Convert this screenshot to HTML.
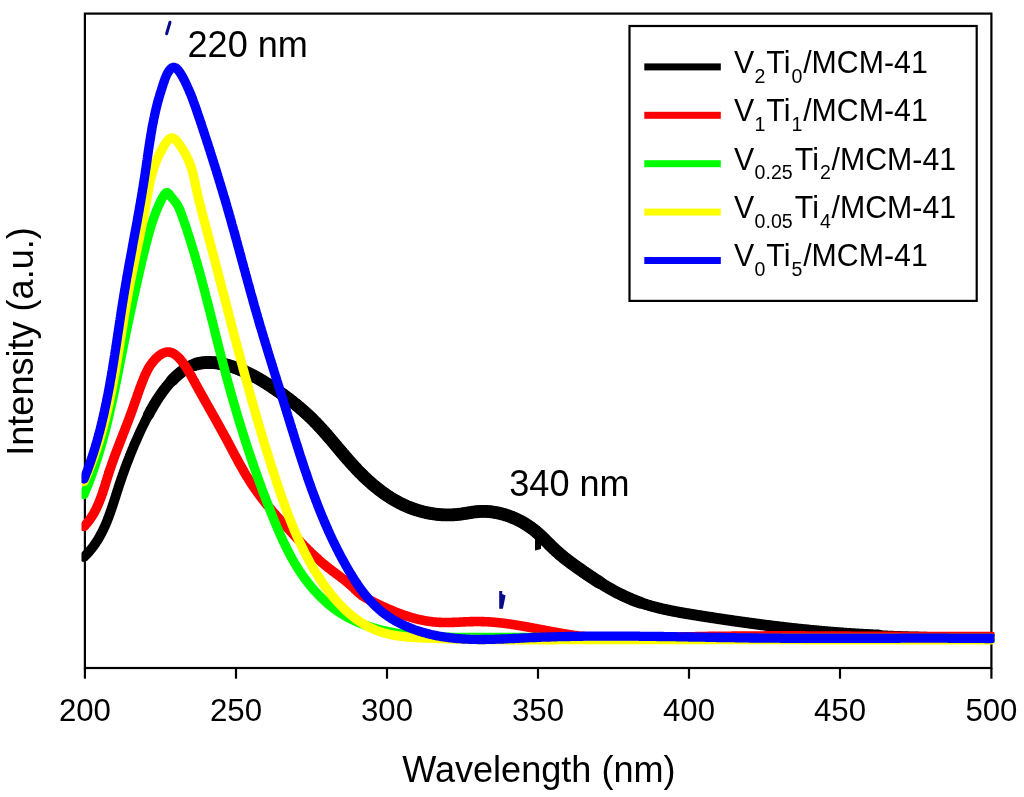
<!DOCTYPE html>
<html><head><meta charset="utf-8"><style>
html,body{margin:0;padding:0;background:#fff;width:1024px;height:797px;overflow:hidden}
svg{position:absolute;left:0;top:0;will-change:transform}
</style></head><body>
<svg width="1024" height="797" viewBox="0 0 1024 797">
<rect width="1024" height="797" fill="#fff"/>
<rect x="84.9" y="13.6" width="906.5" height="654.4" fill="none" stroke="#000" stroke-width="2.2"/>
<clipPath id="pc"><rect x="81.5" y="0" width="913" height="797"/></clipPath><g clip-path="url(#pc)"><path d="M148.3,415.1 L148.6,414.5 L149.0,413.9 L149.3,413.2 L149.6,412.6 L150.0,411.9 L150.3,411.3 L150.7,410.6 L151.0,410.0 L151.4,409.4 L151.8,408.7 L152.1,408.1 L152.5,407.5 L152.8,406.8 L153.2,406.2 L153.6,405.6 L153.9,404.9 L154.3,404.3 L154.7,403.7 L155.1,403.0 L155.5,402.4 L155.9,401.8 L156.2,401.2 L156.6,400.5 L157.0,399.9 L157.4,399.3 L157.8,398.7 L158.2,398.1 L158.6,397.4 L159.1,396.8 L159.5,396.2 L159.9,395.6 L160.3,395.0 L160.7,394.4 L161.2,393.8 L161.6,393.1 L162.0,392.5 L162.5,391.9 L162.9,391.3 L163.4,390.7 L163.8,390.1 L164.3,389.5 L164.7,388.9 L165.2,388.3 L165.7,387.7 L166.2,387.1 L166.6,386.5 L167.1,385.9 L167.6,385.3 L168.1,384.8 L168.6,384.2 L169.1,383.6 L169.6,383.0 L170.1,382.4 L170.6,381.8 L171.2,381.3 L171.7,380.7 L172.2,380.1 L172.8,379.6 L173.3,379.0 L173.8,378.5 L174.4,377.9 L174.9,377.4 L175.5,376.8 L176.0,376.3 L176.6,375.8 L177.2,375.3 L177.7,374.8 L178.3,374.3 L178.9,373.8 L179.5,373.3 L180.1,372.8 L180.7,372.3 L181.3,371.9 L181.9,371.4 L182.5,371.0 L183.1,370.5 L183.7,370.1 L184.3,369.7 L184.9,369.3 L185.6,368.9 L186.2,368.5 L186.8,368.1 L187.5,367.8 L188.1,367.4 L188.7,367.1 L189.4,366.7 L190.0,366.4 L190.7,366.1 L191.3,365.8 L192.0,365.5 L192.7,365.3 L193.3,365.0 L194.0,364.8 L194.7,364.6 L195.4,364.3 L196.1,364.1 L196.7,363.9 L197.4,363.8 L198.1,363.6 L198.8,363.4 L199.5,363.3 L200.2,363.2 L200.9,363.1 L201.6,362.9 L202.3,362.8 L203.0,362.8 L203.7,362.7 L204.5,362.6 L205.2,362.6 L205.9,362.5 L206.6,362.5 L207.3,362.5 L208.0,362.5 L208.8,362.4 L209.5,362.5 L210.2,362.5 L210.9,362.5 L211.7,362.5 L212.4,362.6 L213.1,362.6 L213.9,362.7 L214.6,362.7 L215.3,362.8 L216.0,362.9 L216.8,363.0 L217.5,363.1 L218.2,363.2 L219.0,363.3 L219.7,363.5 L220.4,363.6 L221.2,363.7 L221.9,363.9 L222.6,364.0 L223.4,364.2 L224.1,364.4 L224.8,364.5 L225.6,364.7 L226.3,364.9 L227.0,365.1 L227.8,365.3 L228.5,365.5 L229.2,365.7 L229.9,365.9 L230.6,366.2 L231.4,366.4 L232.1,366.6 L232.8,366.9 L233.5,367.1 L234.2,367.3 L235.0,367.6 L235.7,367.9 L236.4,368.1 L237.1,368.4 L237.8,368.7 L238.5,368.9 L239.2,369.2 L239.9,369.5 L240.6,369.8 L241.3,370.1 L242.0,370.3 L242.6,370.6 L243.3,370.9 L244.0,371.2 L244.7,371.5 L245.4,371.9 L246.0,372.2 L246.7,372.5 L247.4,372.8 L248.0,373.1 L248.7,373.4 L249.4,373.8 L250.0,374.1 L250.7,374.4 L251.3,374.8 L252.0,375.1 L252.7,375.4 L253.3,375.8 L254.0,376.1 L254.6,376.5 L255.2,376.8 L255.9,377.2 L256.5,377.5 L257.2,377.9 L257.8,378.2 L258.5,378.6 L259.1,379.0 L259.7,379.3 L260.4,379.7 L261.0,380.1 L261.6,380.5 L262.2,380.8 L262.9,381.2 L263.5,381.6 L264.1,382.0 L264.7,382.4 L265.4,382.8 L266.0,383.1 L266.6,383.5 L267.2,383.9 L267.8,384.3 L268.5,384.7 L269.1,385.1 L269.7,385.5 L270.3,385.9 L270.9,386.3 L271.5,386.7 L272.1,387.2 L272.7,387.6 L273.4,388.0 L274.0,388.4 L274.6,388.8 L275.2,389.2 L275.8,389.6 L276.4,390.0 L277.0,390.5 L277.6,390.9 L278.2,391.3 L278.8,391.7 L279.4,392.2 L280.0,392.6 L280.6,393.0 L281.2,393.4 L281.8,393.9 L282.4,394.3 L283.0,394.7 L283.6,395.2 L284.2,395.6 L284.8,396.1 L285.4,396.5 L286.0,396.9 L286.6,397.4 L287.2,397.8 L287.8,398.3 L288.4,398.7 L289.0,399.2 L289.6,399.6 L290.2,400.1 L290.8,400.5 L291.3,401.0 L291.9,401.4 L292.5,401.9 L293.1,402.3 L293.7,402.8 L294.3,403.3 L294.8,403.7 L295.4,404.2 L296.0,404.7 L296.6,405.1 L297.1,405.6 L297.7,406.1 L298.3,406.6 L298.9,407.0 L299.4,407.5 L300.0,408.0 L300.6,408.5 L301.1,409.0 L301.7,409.4 L302.2,409.9 L302.8,410.4 L303.4,410.9 L303.9,411.4 L304.5,411.9 L305.0,412.4 L305.6,412.9 L306.1,413.4 L306.7,413.9 L307.2,414.4 L307.8,414.9 L308.3,415.4 L308.8,415.9 L309.4,416.4 L309.9,416.9 L310.4,417.4 L311.0,417.9 L311.5,418.4 L312.0,419.0 L312.6,419.5 L313.1,420.0 L313.6,420.5 L314.1,421.0 L314.6,421.6 L315.1,422.1 L315.7,422.6 L316.2,423.1 L316.7,423.7 L317.2,424.2 L317.7,424.7 L318.2,425.3 L318.7,425.8 L319.2,426.4 L319.7,426.9 L320.2,427.4 L320.7,428.0 L321.2,428.5 L321.7,429.1 L322.2,429.6 L322.7,430.2 L323.2,430.7 L323.7,431.3 L324.2,431.8 L324.6,432.4 L325.1,432.9 L325.6,433.5 L326.1,434.0 L326.6,434.6 L327.1,435.1 L327.5,435.7 L328.0,436.2 L328.5,436.8 L329.0,437.4 L329.5,437.9 L329.9,438.5 L330.4,439.0 L330.9,439.6 L331.4,440.2 L331.9,440.7 L332.3,441.3 L332.8,441.8 L333.3,442.4 L333.8,443.0 L334.2,443.5 L334.7,444.1 L335.2,444.7 L335.7,445.2 L336.1,445.8 L336.6,446.4 L337.1,446.9 L337.6,447.5 L338.0,448.0 L338.5,448.6 L339.0,449.2 L339.5,449.7 L339.9,450.3 L340.4,450.9 L340.9,451.4 L341.4,452.0 L341.8,452.6 L342.3,453.1 L342.8,453.7 L343.3,454.2 L343.8,454.8 L344.2,455.4 L344.7,455.9 L345.2,456.5 L345.7,457.1 L346.2,457.6 L346.7,458.2 L347.1,458.7 L347.6,459.3 L348.1,459.8 L348.6,460.4 L349.1,461.0 L349.6,461.5 L350.1,462.1 L350.6,462.6 L351.1,463.2 L351.6,463.7 L352.1,464.3 L352.6,464.8 L353.1,465.4 L353.6,465.9 L354.1,466.5 L354.6,467.0 L355.1,467.5 L355.6,468.1 L356.1,468.6 L356.6,469.2 L357.1,469.7 L357.6,470.3 L358.1,470.8 L358.7,471.3 L359.2,471.9 L359.7,472.4 L360.2,472.9 L360.8,473.4 L361.3,474.0 L361.8,474.5 L362.3,475.0 L362.9,475.5 L363.4,476.1 L363.9,476.6 L364.5,477.1 L365.0,477.6 L365.6,478.1 L366.1,478.6 L366.7,479.1 L367.2,479.7 L367.7,480.2 L368.3,480.7 L368.9,481.2 L369.4,481.7 L370.0,482.2 L370.5,482.6 L371.1,483.1 L371.6,483.6 L372.2,484.1 L372.8,484.6 L373.3,485.1 L373.9,485.6 L374.5,486.0 L375.1,486.5 L375.6,487.0 L376.2,487.4 L376.8,487.9 L377.4,488.4 L377.9,488.8 L378.5,489.3 L379.1,489.8 L379.7,490.2 L380.3,490.7 L380.9,491.1 L381.5,491.5 L382.1,492.0 L382.7,492.4 L383.3,492.9 L383.9,493.3 L384.5,493.7 L385.1,494.1 L385.7,494.6 L386.3,495.0 L386.9,495.4 L387.5,495.8 L388.2,496.2 L388.8,496.6 L389.4,497.0 L390.0,497.4 L390.6,497.8 L391.3,498.2 L391.9,498.6 L392.5,499.0 L393.2,499.3 L393.8,499.7 L394.4,500.1 L395.1,500.5 L395.7,500.8 L396.3,501.2 L397.0,501.5 L397.6,501.9 L398.3,502.2 L398.9,502.6 L399.6,502.9 L400.2,503.3 L400.9,503.6 L401.6,503.9 L402.2,504.2 L402.9,504.6 L403.6,504.9 L404.2,505.2 L404.9,505.5 L405.6,505.8 L406.2,506.1 L406.9,506.4 L407.6,506.7 L408.3,506.9 L409.0,507.2 L409.6,507.5 L410.3,507.8 L411.0,508.0 L411.7,508.3 L412.4,508.5 L413.1,508.8 L413.8,509.0 L414.5,509.3 L415.2,509.5 L415.9,509.7 L416.6,510.0 L417.3,510.2 L418.0,510.4 L418.7,510.6 L419.4,510.8 L420.1,511.0 L420.8,511.2 L421.6,511.4 L422.3,511.6 L423.0,511.8 L423.7,512.0 L424.4,512.1 L425.1,512.3 L425.9,512.5 L426.6,512.6 L427.3,512.8 L428.0,512.9 L428.8,513.1 L429.5,513.2 L430.2,513.3 L430.9,513.5 L431.7,513.6 L432.4,513.7 L433.1,513.8 L433.8,513.9 L434.6,514.0 L435.3,514.1 L436.0,514.2 L436.8,514.3 L437.5,514.4 L438.2,514.5 L439.0,514.5 L439.7,514.6 L440.4,514.7 L441.2,514.7 L441.9,514.8 L442.6,514.8 L443.4,514.8 L444.1,514.9 L444.8,514.9 L445.6,514.9 L446.3,514.9 L447.1,514.9 L447.8,514.9 L448.5,514.9 L449.3,514.9 L450.0,514.9 L450.7,514.9 L451.5,514.9 L452.2,514.9 L452.9,514.8 L453.7,514.8 L454.4,514.7 L455.1,514.7 L455.9,514.6 L456.6,514.6 L457.3,514.5 L458.0,514.4 L458.8,514.3 L459.5,514.2 L460.2,514.2 L461.0,514.1 L461.7,514.0 L462.4,513.9 L463.1,513.7 L463.9,513.6 L464.6,513.5 L465.3,513.4 L466.0,513.3 L466.7,513.2 L467.5,513.0 L468.2,512.9 L468.9,512.8 L469.6,512.7 L470.4,512.6 L471.1,512.5 L471.8,512.3 L472.5,512.2 L473.2,512.1 L474.0,512.0 L474.7,511.9 L475.4,511.8 L476.1,511.8 L476.8,511.7 L477.6,511.6 L478.3,511.6 L479.0,511.5 L479.7,511.5 L480.5,511.4 L481.2,511.4 L481.9,511.4 L482.6,511.4 L483.3,511.4 L484.1,511.4 L484.8,511.4 L485.5,511.4 L486.2,511.4 L487.0,511.5 L487.7,511.5 L488.4,511.6 L489.1,511.6 L489.9,511.7 L490.6,511.8 L491.3,511.8 L492.0,511.9 L492.7,512.0 L493.5,512.1 L494.2,512.3 L494.9,512.4 L495.6,512.5 L496.3,512.6 L497.1,512.8 L497.8,512.9 L498.5,513.1 L499.2,513.2 L499.9,513.4 L500.6,513.6 L501.3,513.8 L502.1,513.9 L502.8,514.1 L503.5,514.3 L504.2,514.5 L504.9,514.7 L505.6,515.0 L506.3,515.2 L507.0,515.4 L507.7,515.6 L508.4,515.9 L509.1,516.1 L509.8,516.4 L510.5,516.7 L511.2,516.9 L511.8,517.2 L512.5,517.5 L513.2,517.7 L513.9,518.0 L514.6,518.3 L515.2,518.6 L515.9,518.9 L516.6,519.2 L517.3,519.6 L517.9,519.9 L518.6,520.2 L519.3,520.6 L519.9,520.9 L520.6,521.2 L521.2,521.6 L521.9,521.9 L522.5,522.3 L523.2,522.7 L523.8,523.0 L524.4,523.4 L525.1,523.8 L525.7,524.2 L526.3,524.6 L527.0,525.0 L527.6,525.4 L528.2,525.8 L528.8,526.2 L529.4,526.6 L530.0,527.0 L530.6,527.5 L531.2,527.9 L531.8,528.3 L532.4,528.8 L533.0,529.2 L533.6,529.7 L534.1,530.1 L534.7,530.6 L535.3,531.0 L535.9,531.5 L536.4,532.0 L537.0,532.5 L537.5,532.9 L538.1,533.4 L538.6,533.9 L539.2,534.4 L539.7,534.9 L540.3,535.4 L540.8,535.9 L541.3,536.4 L541.9,536.9 L542.4,537.4 L542.9,537.9 L543.4,538.4 L544.0,538.9 L544.5,539.4 L545.0,539.9 L545.5,540.5 L546.1,541.0 L546.6,541.5 L547.1,542.0 L547.6,542.5 L548.1,543.0 L548.7,543.6 L549.2,544.1 L549.7,544.6 L550.2,545.1 L550.7,545.6 L551.3,546.1 L551.8,546.7 L552.3,547.2 L552.8,547.7 L553.4,548.2 L553.9,548.7 L554.4,549.2 L555.0,549.7 L555.5,550.2 L556.0,550.7 L556.6,551.2 L557.1,551.7 L557.7,552.2 L558.2,552.6 L558.8,553.1 L559.3,553.6 L559.9,554.1 L560.4,554.6 L561.0,555.0 L561.6,555.5 L562.1,556.0 L562.7,556.4 L563.3,556.9 L563.8,557.4 L564.4,557.8 L565.0,558.3 L565.6,558.7 L566.1,559.2 L566.7,559.6 L567.3,560.1 L567.9,560.5 L568.5,561.0 L569.1,561.4 L569.7,561.9 L570.2,562.3 L570.8,562.8 L571.4,563.2 L572.0,563.6 L572.6,564.1 L573.2,564.5 L573.8,564.9 L574.4,565.4 L575.0,565.8 L575.6,566.2 L576.2,566.7 L576.8,567.1 L577.4,567.5 L578.0,568.0 L578.7,568.4 L579.3,568.8 L579.9,569.2 L580.5,569.7 L581.1,570.1 L581.7,570.5 L582.3,570.9 L582.9,571.4 L583.5,571.8 L584.1,572.2 L584.8,572.6 L585.4,573.0 L586.0,573.5 L586.6,573.9 L587.2,574.3 L587.8,574.7 L588.5,575.1 L589.1,575.6 L589.7,576.0 L590.3,576.4 L590.9,576.8 L591.6,577.2 L592.2,577.6 L592.8,578.0 L593.4,578.4 L594.0,578.9 L594.7,579.3 L595.3,579.7 L595.9,580.1 L596.5,580.5 L597.2,580.9 L597.8,581.3 L598.4,581.7 L599.1,582.1 L599.7,582.5 L600.3,582.9 L601.0,583.3 L601.6,583.7 L602.2,584.0 L602.9,584.4 L603.5,584.8 L604.1,585.2 L604.8,585.6 L605.4,586.0 L606.0,586.4 L606.7,586.7 L607.3,587.1 L608.0,587.5 L608.6,587.9 L609.3,588.2 L609.9,588.6 L610.5,589.0 L611.2,589.3 L611.8,589.7 L612.5,590.1 L613.1,590.4 L613.8,590.8 L614.4,591.1 L615.1,591.5 L615.7,591.8 L616.4,592.2 L617.1,592.5 L617.7,592.9 L618.4,593.2 L619.0,593.5 L619.7,593.9 L620.3,594.2 L621.0,594.5 L621.7,594.8 L622.3,595.2 L623.0,595.5 L623.7,595.8 L624.3,596.1 L625.0,596.4 L625.7,596.7 L626.3,597.0 L627.0,597.3 L627.7,597.6 L628.4,597.9 L629.0,598.2 L629.7,598.5 L630.4,598.8 L631.1,599.1 L631.7,599.4 L632.4,599.7 L633.1,599.9 L633.8,600.2 L634.5,600.5 L635.1,600.7 L635.8,601.0 L636.5,601.3 L637.2,601.5 L637.9,601.8 L638.6,602.0 L639.3,602.3 L640.0,602.5 L640.7,602.7 L641.4,603.0 L642.1,603.2 L642.8,603.4 L643.5,603.7 L644.2,603.9 L644.9,604.1 L645.6,604.3 L646.3,604.6 L647.0,604.8 L647.7,605.0 L648.4,605.2 L649.1,605.4 L649.8,605.6 L650.5,605.8 L651.2,606.0 L651.9,606.2 L652.6,606.4 L653.3,606.6 L654.0,606.8 L654.7,607.0 L655.5,607.2 L656.2,607.3 L656.9,607.5 L657.6,607.7 L658.3,607.9 L659.0,608.1 L659.7,608.2 L660.5,608.4 L661.2,608.6 L661.9,608.7 L662.6,608.9 L663.3,609.1 L664.1,609.2 L664.8,609.4 L665.5,609.6 L666.2,609.7 L667.0,609.9 L667.7,610.0 L668.4,610.2 L669.1,610.3 L669.8,610.5 L670.6,610.6 L671.3,610.8 L672.0,610.9 L672.8,611.1 L673.5,611.2 L674.2,611.3 L674.9,611.5 L675.7,611.6 L676.4,611.8 L677.1,611.9 L677.9,612.0 L678.6,612.2 L679.3,612.3 L680.0,612.4 L680.8,612.6 L681.5,612.7 L682.2,612.8 L683.0,613.0 L683.7,613.1 L684.4,613.2 L685.2,613.3 L685.9,613.5 L686.6,613.6 L687.4,613.7 L688.1,613.8 L688.8,613.9 L689.6,614.1 L690.3,614.2 L691.0,614.3 L691.8,614.4 L692.5,614.5 L693.2,614.7 L694.0,614.8 L694.7,614.9 L695.4,615.0 L696.2,615.1 L696.9,615.3 L697.6,615.4 L698.4,615.5 L699.1,615.6 L699.8,615.7 L700.6,615.8 L701.3,616.0 L702.0,616.1 L702.8,616.2 L703.5,616.3 L704.2,616.4 L705.0,616.5 L705.7,616.7 L706.4,616.8 L707.2,616.9 L707.9,617.0 L708.6,617.1 L709.4,617.2 L710.1,617.3 L710.9,617.4 L711.6,617.6 L712.3,617.7 L713.1,617.8 L713.8,617.9 L714.5,618.0 L715.3,618.1 L716.0,618.2 L716.7,618.4 L717.5,618.5 L718.2,618.6 L718.9,618.7 L719.7,618.8 L720.4,618.9 L721.1,619.0 L721.9,619.1 L722.6,619.2 L723.3,619.3 L724.1,619.5 L724.8,619.6 L725.5,619.7 L726.3,619.8 L727.0,619.9 L727.7,620.0 L728.5,620.1 L729.2,620.2 L729.9,620.3 L730.7,620.4 L731.4,620.5 L732.1,620.6 L732.9,620.8 L733.6,620.9 L734.3,621.0 L735.1,621.1 L735.8,621.2 L736.5,621.3 L737.3,621.4 L738.0,621.5 L738.7,621.6 L739.5,621.7 L740.2,621.8 L740.9,621.9 L741.7,622.0 L742.4,622.1 L743.1,622.2 L743.9,622.3 L744.6,622.4 L745.3,622.5 L746.1,622.6 L746.8,622.7 L747.5,622.8 L748.3,622.9 L749.0,623.0 L749.7,623.1 L750.5,623.2 L751.2,623.3 L751.9,623.4 L752.7,623.5 L753.4,623.6 L754.1,623.7 L754.9,623.8 L755.6,623.9 L756.3,624.0 L757.1,624.1 L757.8,624.2 L758.5,624.3 L759.3,624.4 L760.0,624.5 L760.7,624.6 L761.5,624.7 L762.2,624.8 L763.0,624.9 L763.7,625.0 L764.4,625.1 L765.2,625.2 L765.9,625.3 L766.6,625.4 L767.4,625.5 L768.1,625.6 L768.8,625.6 L769.6,625.7 L770.3,625.8 L771.0,625.9 L771.8,626.0 L772.5,626.1 L773.2,626.2 L774.0,626.3 L774.7,626.4 L775.4,626.5 L776.2,626.6 L776.9,626.6 L777.6,626.7 L778.4,626.8 L779.1,626.9 L779.8,627.0 L780.6,627.1 L781.3,627.2 L782.0,627.3 L782.8,627.3 L783.5,627.4 L784.2,627.5 L785.0,627.6 L785.7,627.7 L786.5,627.8 L787.2,627.9 L787.9,627.9 L788.7,628.0 L789.4,628.1 L790.1,628.2 L790.9,628.3 L791.6,628.4 L792.3,628.4 L793.1,628.5 L793.8,628.6 L794.5,628.7 L795.3,628.8 L796.0,628.8 L796.7,628.9 L797.5,629.0 L798.2,629.1 L799.0,629.2 L799.7,629.2 L800.4,629.3 L801.2,629.4 L801.9,629.5 L802.6,629.5 L803.4,629.6 L804.1,629.7 L804.8,629.8 L805.6,629.8 L806.3,629.9 L807.0,630.0 L807.8,630.1 L808.5,630.1 L809.3,630.2 L810.0,630.3 L810.7,630.4 L811.5,630.4 L812.2,630.5 L812.9,630.6 L813.7,630.6 L814.4,630.7 L815.1,630.8 L815.9,630.8 L816.6,630.9 L817.3,631.0 L818.1,631.1 L818.8,631.1 L819.6,631.2 L820.3,631.3 L821.0,631.3 L821.8,631.4 L822.5,631.5 L823.2,631.5 L824.0,631.6 L824.7,631.6 L825.5,631.7 L826.2,631.8 L826.9,631.8 L827.7,631.9 L828.4,632.0 L829.1,632.0 L829.9,632.1 L830.6,632.1 L831.4,632.2 L832.1,632.3 L832.8,632.3 L833.6,632.4 L834.3,632.4 L835.0,632.5 L835.8,632.6 L836.5,632.6 L837.3,632.7 L838.0,632.7 L838.7,632.8 L839.5,632.8 L840.2,632.9 L840.9,632.9 L841.7,633.0 L842.4,633.1 L843.2,633.1 L843.9,633.2 L844.6,633.2 L845.4,633.3 L846.1,633.3 L846.9,633.4 L847.6,633.4 L848.3,633.5 L849.1,633.5 L849.8,633.6 L850.5,633.6 L851.3,633.7 L852.0,633.7 L852.8,633.8 L853.5,633.8 L854.2,633.8 L855.0,633.9 L855.7,633.9 L856.5,634.0 L857.2,634.0 L857.9,634.1 L858.7,634.1 L859.4,634.2 L860.2,634.2 L860.9,634.2 L861.6,634.3 L862.4,634.3 L863.1,634.4 L863.9,634.4 L864.6,634.4 L865.3,634.5 L866.1,634.5 L866.8,634.6 L867.6,634.6 L868.3,634.6 L869.0,634.7 L869.8,634.7 L870.5,634.8 L871.3,634.8 L872.0,634.8 L872.7,634.9 L873.5,634.9 L874.2,634.9 L875.0,635.0 L875.7,635.0 L876.4,635.0 L877.2,635.1 L877.9,635.1 L878.7,635.1 L879.4,635.2" stroke="#000" stroke-width="11" fill="none" stroke-linejoin="round" stroke-linecap="round"/>
<path d="M535,528 L541,531 L541,549 L535,550.5 Z" fill="#000"/>
<path d="M172.2,380.1 L172.8,379.6 L173.3,379.0 L173.8,378.5 L174.4,377.9 L174.9,377.4 L175.5,376.8 L176.0,376.3 L176.6,375.8 L177.2,375.3 L177.7,374.8 L178.3,374.3 L178.9,373.8 L179.5,373.3 L180.1,372.8 L180.7,372.3 L181.3,371.9 L181.9,371.4 L182.5,371.0 L183.1,370.5 L183.7,370.1 L184.3,369.7 L184.9,369.3 L185.6,368.9 L186.2,368.5 L186.8,368.1 L187.5,367.8 L188.1,367.4 L188.7,367.1 L189.4,366.7 L190.0,366.4 L190.7,366.1 L191.3,365.8 L192.0,365.5 L192.7,365.3 L193.3,365.0 L194.0,364.8 L194.7,364.6 L195.4,364.3 L196.1,364.1 L196.7,363.9 L197.4,363.8 L198.1,363.6 L198.8,363.4 L199.5,363.3 L200.2,363.2 L200.9,363.1 L201.6,362.9 L202.3,362.8 L203.0,362.8 L203.7,362.7 L204.5,362.6 L205.2,362.6 L205.9,362.5 L206.6,362.5 L207.3,362.5 L208.0,362.5 L208.8,362.4 L209.5,362.5 L210.2,362.5 L210.9,362.5 L211.7,362.5 L212.4,362.6 L213.1,362.6 L213.9,362.7 L214.6,362.7 L215.3,362.8 L216.0,362.9 L216.8,363.0 L217.5,363.1 L218.2,363.2 L219.0,363.3 L219.7,363.5 L220.4,363.6 L221.2,363.7 L221.9,363.9 L222.6,364.0 L223.4,364.2 L224.1,364.4 L224.8,364.5 L225.6,364.7 L226.3,364.9 L227.0,365.1 L227.8,365.3 L228.5,365.5 L229.2,365.7 L229.9,365.9 L230.6,366.2 L231.4,366.4 L232.1,366.6 L232.8,366.9 L233.5,367.1 L234.2,367.3 L235.0,367.6 L235.7,367.9 L236.4,368.1 L237.1,368.4 L237.8,368.7 L238.5,368.9 L239.2,369.2 L239.9,369.5 L240.6,369.8 L241.3,370.1 L242.0,370.3 L242.6,370.6 L243.3,370.9 L244.0,371.2 L244.7,371.5 L245.4,371.9 L246.0,372.2 L246.7,372.5 L247.4,372.8 L248.0,373.1 L248.7,373.4 L249.4,373.8 L250.0,374.1 L250.7,374.4 L251.3,374.8 L252.0,375.1 L252.7,375.4 L253.3,375.8 L254.0,376.1 L254.6,376.5 L255.2,376.8 L255.9,377.2 L256.5,377.5 L257.2,377.9 L257.8,378.2 L258.5,378.6 L259.1,379.0 L259.7,379.3 L260.4,379.7 L261.0,380.1 L261.6,380.5 L262.2,380.8 L262.9,381.2 L263.5,381.6 L264.1,382.0 L264.7,382.4 L265.4,382.8 L266.0,383.1 L266.6,383.5 L267.2,383.9 L267.8,384.3 L268.5,384.7 L269.1,385.1 L269.7,385.5 L270.3,385.9 L270.9,386.3 L271.5,386.7 L272.1,387.2 L272.7,387.6 L273.4,388.0 L274.0,388.4 L274.6,388.8 L275.2,389.2 L275.8,389.6 L276.4,390.0 L277.0,390.5 L277.6,390.9 L278.2,391.3 L278.8,391.7 L279.4,392.2 L280.0,392.6 L280.6,393.0 L281.2,393.4 L281.8,393.9 L282.4,394.3 L283.0,394.7 L283.6,395.2 L284.2,395.6 L284.8,396.1 L285.4,396.5 L286.0,396.9 L286.6,397.4 L287.2,397.8 L287.8,398.3 L288.4,398.7 L289.0,399.2 L289.6,399.6 L290.2,400.1 L290.8,400.5 L291.3,401.0 L291.9,401.4 L292.5,401.9 L293.1,402.3 L293.7,402.8 L294.3,403.3 L294.8,403.7 L295.4,404.2 L296.0,404.7 L296.6,405.1 L297.1,405.6 L297.7,406.1 L298.3,406.6 L298.9,407.0 L299.4,407.5 L300.0,408.0 L300.6,408.5 L301.1,409.0 L301.7,409.4 L302.2,409.9 L302.8,410.4 L303.4,410.9 L303.9,411.4 L304.5,411.9 L305.0,412.4 L305.6,412.9 L306.1,413.4 L306.7,413.9 L307.2,414.4 L307.8,414.9 L308.3,415.4 L308.8,415.9 L309.4,416.4 L309.9,416.9 L310.4,417.4 L311.0,417.9 L311.5,418.4 L312.0,419.0 L312.6,419.5 L313.1,420.0 L313.6,420.5 L314.1,421.0 L314.6,421.6 L315.1,422.1 L315.7,422.6 L316.2,423.1 L316.7,423.7 L317.2,424.2 L317.7,424.7 L318.2,425.3 L318.7,425.8 L319.2,426.4 L319.7,426.9 L320.2,427.4 L320.7,428.0 L321.2,428.5 L321.7,429.1 L322.2,429.6 L322.7,430.2 L323.2,430.7 L323.7,431.3 L324.2,431.8 L324.6,432.4 L325.1,432.9 L325.6,433.5 L326.1,434.0 L326.6,434.6 L327.1,435.1 L327.5,435.7 L328.0,436.2 L328.5,436.8 L329.0,437.4 L329.5,437.9 L329.9,438.5 L330.4,439.0 L330.9,439.6 L331.4,440.2 L331.9,440.7 L332.3,441.3 L332.8,441.8 L333.3,442.4 L333.8,443.0 L334.2,443.5 L334.7,444.1 L335.2,444.7 L335.7,445.2 L336.1,445.8 L336.6,446.4 L337.1,446.9 L337.6,447.5 L338.0,448.0 L338.5,448.6 L339.0,449.2 L339.5,449.7 L339.9,450.3 L340.4,450.9 L340.9,451.4 L341.4,452.0 L341.8,452.6 L342.3,453.1 L342.8,453.7 L343.3,454.2 L343.8,454.8 L344.2,455.4 L344.7,455.9 L345.2,456.5 L345.7,457.1 L346.2,457.6 L346.7,458.2 L347.1,458.7 L347.6,459.3 L348.1,459.8 L348.6,460.4 L349.1,461.0 L349.6,461.5 L350.1,462.1 L350.6,462.6 L351.1,463.2 L351.6,463.7 L352.1,464.3 L352.6,464.8 L353.1,465.4 L353.6,465.9 L354.1,466.5 L354.6,467.0 L355.1,467.5 L355.6,468.1 L356.1,468.6 L356.6,469.2 L357.1,469.7 L357.6,470.3 L358.1,470.8 L358.7,471.3 L359.2,471.9 L359.7,472.4 L360.2,472.9 L360.8,473.4 L361.3,474.0 L361.8,474.5 L362.3,475.0 L362.9,475.5 L363.4,476.1 L363.9,476.6 L364.5,477.1 L365.0,477.6 L365.6,478.1 L366.1,478.6 L366.7,479.1 L367.2,479.7 L367.7,480.2 L368.3,480.7 L368.9,481.2 L369.4,481.7 L370.0,482.2 L370.5,482.6 L371.1,483.1 L371.6,483.6 L372.2,484.1 L372.8,484.6 L373.3,485.1 L373.9,485.6 L374.5,486.0 L375.1,486.5 L375.6,487.0 L376.2,487.4 L376.8,487.9 L377.4,488.4 L377.9,488.8 L378.5,489.3 L379.1,489.8 L379.7,490.2 L380.3,490.7 L380.9,491.1 L381.5,491.5 L382.1,492.0 L382.7,492.4 L383.3,492.9 L383.9,493.3 L384.5,493.7 L385.1,494.1 L385.7,494.6 L386.3,495.0 L386.9,495.4 L387.5,495.8 L388.2,496.2 L388.8,496.6 L389.4,497.0 L390.0,497.4 L390.6,497.8 L391.3,498.2 L391.9,498.6 L392.5,499.0 L393.2,499.3 L393.8,499.7 L394.4,500.1 L395.1,500.5 L395.7,500.8 L396.3,501.2 L397.0,501.5 L397.6,501.9 L398.3,502.2 L398.9,502.6 L399.6,502.9 L400.2,503.3 L400.9,503.6 L401.6,503.9 L402.2,504.2 L402.9,504.6 L403.6,504.9 L404.2,505.2 L404.9,505.5 L405.6,505.8 L406.2,506.1 L406.9,506.4 L407.6,506.7 L408.3,506.9 L409.0,507.2 L409.6,507.5 L410.3,507.8 L411.0,508.0 L411.7,508.3 L412.4,508.5 L413.1,508.8 L413.8,509.0 L414.5,509.3 L415.2,509.5 L415.9,509.7 L416.6,510.0 L417.3,510.2 L418.0,510.4 L418.7,510.6 L419.4,510.8 L420.1,511.0 L420.8,511.2 L421.6,511.4 L422.3,511.6 L423.0,511.8 L423.7,512.0 L424.4,512.1 L425.1,512.3 L425.9,512.5 L426.6,512.6 L427.3,512.8 L428.0,512.9 L428.8,513.1 L429.5,513.2 L430.2,513.3 L430.9,513.5 L431.7,513.6 L432.4,513.7 L433.1,513.8 L433.8,513.9 L434.6,514.0 L435.3,514.1 L436.0,514.2 L436.8,514.3 L437.5,514.4 L438.2,514.5 L439.0,514.5 L439.7,514.6 L440.4,514.7 L441.2,514.7 L441.9,514.8 L442.6,514.8 L443.4,514.8 L444.1,514.9 L444.8,514.9 L445.6,514.9 L446.3,514.9 L447.1,514.9 L447.8,514.9 L448.5,514.9 L449.3,514.9 L450.0,514.9 L450.7,514.9 L451.5,514.9 L452.2,514.9 L452.9,514.8 L453.7,514.8 L454.4,514.7 L455.1,514.7 L455.9,514.6 L456.6,514.6 L457.3,514.5 L458.0,514.4 L458.8,514.3 L459.5,514.2 L460.2,514.2 L461.0,514.1 L461.7,514.0 L462.4,513.9 L463.1,513.7 L463.9,513.6 L464.6,513.5 L465.3,513.4 L466.0,513.3 L466.7,513.2 L467.5,513.0 L468.2,512.9 L468.9,512.8 L469.6,512.7 L470.4,512.6 L471.1,512.5 L471.8,512.3 L472.5,512.2 L473.2,512.1 L474.0,512.0 L474.7,511.9 L475.4,511.8 L476.1,511.8 L476.8,511.7 L477.6,511.6 L478.3,511.6 L479.0,511.5 L479.7,511.5 L480.5,511.4 L481.2,511.4 L481.9,511.4 L482.6,511.4 L483.3,511.4 L484.1,511.4 L484.8,511.4 L485.5,511.4 L486.2,511.4 L487.0,511.5 L487.7,511.5 L488.4,511.6 L489.1,511.6 L489.9,511.7 L490.6,511.8 L491.3,511.8 L492.0,511.9 L492.7,512.0 L493.5,512.1 L494.2,512.3 L494.9,512.4 L495.6,512.5 L496.3,512.6 L497.1,512.8 L497.8,512.9 L498.5,513.1 L499.2,513.2 L499.9,513.4 L500.6,513.6 L501.3,513.8 L502.1,513.9 L502.8,514.1 L503.5,514.3 L504.2,514.5 L504.9,514.7 L505.6,515.0 L506.3,515.2 L507.0,515.4 L507.7,515.6 L508.4,515.9 L509.1,516.1 L509.8,516.4 L510.5,516.7 L511.2,516.9 L511.8,517.2 L512.5,517.5 L513.2,517.7 L513.9,518.0 L514.6,518.3 L515.2,518.6 L515.9,518.9 L516.6,519.2 L517.3,519.6 L517.9,519.9 L518.6,520.2 L519.3,520.6 L519.9,520.9 L520.6,521.2 L521.2,521.6 L521.9,521.9 L522.5,522.3 L523.2,522.7 L523.8,523.0 L524.4,523.4 L525.1,523.8 L525.7,524.2 L526.3,524.6 L527.0,525.0 L527.6,525.4 L528.2,525.8 L528.8,526.2 L529.4,526.6 L530.0,527.0 L530.6,527.5 L531.2,527.9 L531.8,528.3 L532.4,528.8 L533.0,529.2 L533.6,529.7 L534.1,530.1 L534.7,530.6 L535.3,531.0 L535.9,531.5 L536.4,532.0 L537.0,532.5 L537.5,532.9 L538.1,533.4 L538.6,533.9 L539.2,534.4 L539.7,534.9 L540.3,535.4 L540.8,535.9 L541.3,536.4 L541.9,536.9 L542.4,537.4 L542.9,537.9 L543.4,538.4 L544.0,538.9 L544.5,539.4 L545.0,539.9 L545.5,540.5 L546.1,541.0 L546.6,541.5 L547.1,542.0 L547.6,542.5 L548.1,543.0 L548.7,543.6 L549.2,544.1 L549.7,544.6 L550.2,545.1 L550.7,545.6 L551.3,546.1 L551.8,546.7 L552.3,547.2 L552.8,547.7 L553.4,548.2 L553.9,548.7 L554.4,549.2 L555.0,549.7 L555.5,550.2 L556.0,550.7 L556.6,551.2 L557.1,551.7 L557.7,552.2 L558.2,552.6 L558.8,553.1 L559.3,553.6 L559.9,554.1 L560.4,554.6 L561.0,555.0 L561.6,555.5 L562.1,556.0 L562.7,556.4 L563.3,556.9 L563.8,557.4 L564.4,557.8 L565.0,558.3 L565.6,558.7 L566.1,559.2 L566.7,559.6 L567.3,560.1 L567.9,560.5 L568.5,561.0 L569.1,561.4 L569.7,561.9 L570.2,562.3 L570.8,562.8 L571.4,563.2 L572.0,563.6 L572.6,564.1 L573.2,564.5 L573.8,564.9 L574.4,565.4 L575.0,565.8 L575.6,566.2 L576.2,566.7 L576.8,567.1 L577.4,567.5 L578.0,568.0 L578.7,568.4 L579.3,568.8 L579.9,569.2 L580.5,569.7 L581.1,570.1 L581.7,570.5 L582.3,570.9 L582.9,571.4 L583.5,571.8 L584.1,572.2 L584.8,572.6 L585.4,573.0 L586.0,573.5 L586.6,573.9 L587.2,574.3 L587.8,574.7 L588.5,575.1 L589.1,575.6 L589.7,576.0 L590.3,576.4 L590.9,576.8 L591.6,577.2 L592.2,577.6 L592.8,578.0 L593.4,578.4 L594.0,578.9 L594.7,579.3 L595.3,579.7 L595.9,580.1 L596.5,580.5 L597.2,580.9 L597.8,581.3 L598.4,581.7 L599.1,582.1 L599.7,582.5 L600.3,582.9 L601.0,583.3 L601.6,583.7 L602.2,584.0 L602.9,584.4 L603.5,584.8 L604.1,585.2 L604.8,585.6 L605.4,586.0 L606.0,586.4 L606.7,586.7 L607.3,587.1 L608.0,587.5 L608.6,587.9 L609.3,588.2 L609.9,588.6 L610.5,589.0 L611.2,589.3 L611.8,589.7 L612.5,590.1 L613.1,590.4 L613.8,590.8 L614.4,591.1 L615.1,591.5 L615.7,591.8 L616.4,592.2 L617.1,592.5 L617.7,592.9 L618.4,593.2 L619.0,593.5 L619.7,593.9 L620.3,594.2 L621.0,594.5 L621.7,594.8 L622.3,595.2 L623.0,595.5 L623.7,595.8 L624.3,596.1 L625.0,596.4 L625.7,596.7 L626.3,597.0 L627.0,597.3 L627.7,597.6 L628.4,597.9 L629.0,598.2 L629.7,598.5 L630.4,598.8 L631.1,599.1 L631.7,599.4 L632.4,599.7 L633.1,599.9 L633.8,600.2 L634.5,600.5 L635.1,600.7 L635.8,601.0 L636.5,601.3 L637.2,601.5 L637.9,601.8 L638.6,602.0 L639.3,602.3 L640.0,602.5" stroke="#000" stroke-width="12" fill="none" stroke-linejoin="round" stroke-linecap="round"/>
<path d="M195.4,364.3 L196.1,364.1 L196.7,363.9 L197.4,363.8 L198.1,363.6 L198.8,363.4 L199.5,363.3 L200.2,363.2 L200.9,363.1 L201.6,362.9 L202.3,362.8 L203.0,362.8 L203.7,362.7 L204.5,362.6 L205.2,362.6 L205.9,362.5 L206.6,362.5 L207.3,362.5 L208.0,362.5 L208.8,362.4 L209.5,362.5 L210.2,362.5 L210.9,362.5 L211.7,362.5 L212.4,362.6 L213.1,362.6 L213.9,362.7 L214.6,362.7 L215.3,362.8 L216.0,362.9 L216.8,363.0 L217.5,363.1 L218.2,363.2 L219.0,363.3 L219.7,363.5 L220.4,363.6 L221.2,363.7 L221.9,363.9 L222.6,364.0 L223.4,364.2 L224.1,364.4 L224.8,364.5 L225.6,364.7 L226.3,364.9 L227.0,365.1 L227.8,365.3 L228.5,365.5 L229.2,365.7 L229.9,365.9 L230.6,366.2 L231.4,366.4 L232.1,366.6 L232.8,366.9 L233.5,367.1 L234.2,367.3 L235.0,367.6 L235.7,367.9 L236.4,368.1 L237.1,368.4 L237.8,368.7 L238.5,368.9 L239.2,369.2 L239.9,369.5 L240.6,369.8 L241.3,370.1 L242.0,370.3 L242.6,370.6 L243.3,370.9 L244.0,371.2 L244.7,371.5 L245.4,371.9 L246.0,372.2 L246.7,372.5 L247.4,372.8 L248.0,373.1 L248.7,373.4 L249.4,373.8 L250.0,374.1 L250.7,374.4 L251.3,374.8 L252.0,375.1 L252.7,375.4 L253.3,375.8 L254.0,376.1 L254.6,376.5 L255.2,376.8 L255.9,377.2 L256.5,377.5 L257.2,377.9 L257.8,378.2 L258.5,378.6 L259.1,379.0 L259.7,379.3 L260.4,379.7 L261.0,380.1 L261.6,380.5 L262.2,380.8 L262.9,381.2 L263.5,381.6 L264.1,382.0 L264.7,382.4 L265.4,382.8 L266.0,383.1 L266.6,383.5 L267.2,383.9 L267.8,384.3 L268.5,384.7 L269.1,385.1 L269.7,385.5 L270.3,385.9 L270.9,386.3 L271.5,386.7 L272.1,387.2 L272.7,387.6 L273.4,388.0 L274.0,388.4 L274.6,388.8 L275.2,389.2 L275.8,389.6 L276.4,390.0 L277.0,390.5 L277.6,390.9 L278.2,391.3 L278.8,391.7 L279.4,392.2 L280.0,392.6 L280.6,393.0 L281.2,393.4 L281.8,393.9 L282.4,394.3 L283.0,394.7 L283.6,395.2 L284.2,395.6 L284.8,396.1 L285.4,396.5 L286.0,396.9 L286.6,397.4 L287.2,397.8 L287.8,398.3 L288.4,398.7 L289.0,399.2 L289.6,399.6 L290.2,400.1 L290.8,400.5 L291.3,401.0 L291.9,401.4 L292.5,401.9 L293.1,402.3 L293.7,402.8 L294.3,403.3 L294.8,403.7 L295.4,404.2 L296.0,404.7 L296.6,405.1 L297.1,405.6 L297.7,406.1 L298.3,406.6 L298.9,407.0 L299.4,407.5 L300.0,408.0 L300.6,408.5 L301.1,409.0 L301.7,409.4 L302.2,409.9 L302.8,410.4 L303.4,410.9 L303.9,411.4 L304.5,411.9 L305.0,412.4 L305.6,412.9 L306.1,413.4 L306.7,413.9 L307.2,414.4 L307.8,414.9 L308.3,415.4 L308.8,415.9 L309.4,416.4 L309.9,416.9 L310.4,417.4 L311.0,417.9 L311.5,418.4 L312.0,419.0 L312.6,419.5 L313.1,420.0 L313.6,420.5 L314.1,421.0 L314.6,421.6 L315.1,422.1 L315.7,422.6 L316.2,423.1 L316.7,423.7 L317.2,424.2 L317.7,424.7 L318.2,425.3 L318.7,425.8 L319.2,426.4 L319.7,426.9 L320.2,427.4 L320.7,428.0 L321.2,428.5 L321.7,429.1 L322.2,429.6 L322.7,430.2 L323.2,430.7 L323.7,431.3 L324.2,431.8 L324.6,432.4 L325.1,432.9 L325.6,433.5 L326.1,434.0 L326.6,434.6 L327.1,435.1 L327.5,435.7 L328.0,436.2 L328.5,436.8 L329.0,437.4 L329.5,437.9 L329.9,438.5 L330.4,439.0 L330.9,439.6 L331.4,440.2 L331.9,440.7 L332.3,441.3 L332.8,441.8 L333.3,442.4 L333.8,443.0 L334.2,443.5 L334.7,444.1 L335.2,444.7 L335.7,445.2 L336.1,445.8 L336.6,446.4 L337.1,446.9 L337.6,447.5 L338.0,448.0 L338.5,448.6 L339.0,449.2 L339.5,449.7 L339.9,450.3 L340.4,450.9 L340.9,451.4 L341.4,452.0 L341.8,452.6 L342.3,453.1 L342.8,453.7 L343.3,454.2 L343.8,454.8 L344.2,455.4 L344.7,455.9 L345.2,456.5 L345.7,457.1 L346.2,457.6 L346.7,458.2 L347.1,458.7 L347.6,459.3 L348.1,459.8 L348.6,460.4 L349.1,461.0 L349.6,461.5 L350.1,462.1 L350.6,462.6 L351.1,463.2 L351.6,463.7 L352.1,464.3 L352.6,464.8 L353.1,465.4 L353.6,465.9 L354.1,466.5 L354.6,467.0 L355.1,467.5 L355.6,468.1 L356.1,468.6 L356.6,469.2 L357.1,469.7 L357.6,470.3 L358.1,470.8 L358.7,471.3 L359.2,471.9 L359.7,472.4 L360.2,472.9 L360.8,473.4 L361.3,474.0 L361.8,474.5 L362.3,475.0 L362.9,475.5 L363.4,476.1 L363.9,476.6 L364.5,477.1 L365.0,477.6 L365.6,478.1 L366.1,478.6 L366.7,479.1 L367.2,479.7 L367.7,480.2 L368.3,480.7 L368.9,481.2 L369.4,481.7 L370.0,482.2 L370.5,482.6 L371.1,483.1 L371.6,483.6 L372.2,484.1 L372.8,484.6 L373.3,485.1 L373.9,485.6 L374.5,486.0 L375.1,486.5 L375.6,487.0 L376.2,487.4 L376.8,487.9 L377.4,488.4 L377.9,488.8 L378.5,489.3 L379.1,489.8 L379.7,490.2 L380.3,490.7 L380.9,491.1 L381.5,491.5 L382.1,492.0 L382.7,492.4 L383.3,492.9 L383.9,493.3 L384.5,493.7 L385.1,494.1 L385.7,494.6 L386.3,495.0 L386.9,495.4 L387.5,495.8 L388.2,496.2 L388.8,496.6 L389.4,497.0 L390.0,497.4 L390.6,497.8 L391.3,498.2 L391.9,498.6 L392.5,499.0 L393.2,499.3 L393.8,499.7 L394.4,500.1 L395.1,500.5 L395.7,500.8 L396.3,501.2 L397.0,501.5 L397.6,501.9 L398.3,502.2 L398.9,502.6 L399.6,502.9 L400.2,503.3 L400.9,503.6 L401.6,503.9 L402.2,504.2 L402.9,504.6 L403.6,504.9 L404.2,505.2 L404.9,505.5 L405.6,505.8 L406.2,506.1 L406.9,506.4 L407.6,506.7 L408.3,506.9 L409.0,507.2 L409.6,507.5 L410.3,507.8 L411.0,508.0 L411.7,508.3 L412.4,508.5 L413.1,508.8 L413.8,509.0 L414.5,509.3 L415.2,509.5 L415.9,509.7 L416.6,510.0 L417.3,510.2 L418.0,510.4 L418.7,510.6 L419.4,510.8 L420.1,511.0 L420.8,511.2 L421.6,511.4 L422.3,511.6 L423.0,511.8 L423.7,512.0 L424.4,512.1 L425.1,512.3 L425.9,512.5 L426.6,512.6 L427.3,512.8 L428.0,512.9 L428.8,513.1 L429.5,513.2 L430.2,513.3 L430.9,513.5 L431.7,513.6 L432.4,513.7 L433.1,513.8 L433.8,513.9 L434.6,514.0 L435.3,514.1 L436.0,514.2 L436.8,514.3 L437.5,514.4 L438.2,514.5 L439.0,514.5 L439.7,514.6 L440.4,514.7 L441.2,514.7 L441.9,514.8 L442.6,514.8 L443.4,514.8 L444.1,514.9 L444.8,514.9 L445.6,514.9 L446.3,514.9 L447.1,514.9 L447.8,514.9 L448.5,514.9 L449.3,514.9 L450.0,514.9 L450.7,514.9 L451.5,514.9 L452.2,514.9 L452.9,514.8 L453.7,514.8 L454.4,514.7 L455.1,514.7 L455.9,514.6 L456.6,514.6 L457.3,514.5 L458.0,514.4 L458.8,514.3 L459.5,514.2 L460.2,514.2 L461.0,514.1 L461.7,514.0 L462.4,513.9 L463.1,513.7 L463.9,513.6 L464.6,513.5 L465.3,513.4 L466.0,513.3 L466.7,513.2 L467.5,513.0 L468.2,512.9 L468.9,512.8 L469.6,512.7 L470.4,512.6 L471.1,512.5 L471.8,512.3 L472.5,512.2 L473.2,512.1 L474.0,512.0 L474.7,511.9 L475.4,511.8 L476.1,511.8 L476.8,511.7 L477.6,511.6 L478.3,511.6 L479.0,511.5 L479.7,511.5 L480.5,511.4 L481.2,511.4 L481.9,511.4 L482.6,511.4 L483.3,511.4 L484.1,511.4 L484.8,511.4 L485.5,511.4 L486.2,511.4 L487.0,511.5 L487.7,511.5 L488.4,511.6 L489.1,511.6 L489.9,511.7 L490.6,511.8 L491.3,511.8 L492.0,511.9 L492.7,512.0 L493.5,512.1 L494.2,512.3 L494.9,512.4 L495.6,512.5 L496.3,512.6 L497.1,512.8 L497.8,512.9 L498.5,513.1 L499.2,513.2 L499.9,513.4 L500.6,513.6 L501.3,513.8 L502.1,513.9 L502.8,514.1 L503.5,514.3 L504.2,514.5 L504.9,514.7 L505.6,515.0 L506.3,515.2 L507.0,515.4 L507.7,515.6 L508.4,515.9 L509.1,516.1 L509.8,516.4 L510.5,516.7 L511.2,516.9 L511.8,517.2 L512.5,517.5 L513.2,517.7 L513.9,518.0 L514.6,518.3 L515.2,518.6 L515.9,518.9 L516.6,519.2 L517.3,519.6 L517.9,519.9 L518.6,520.2 L519.3,520.6 L519.9,520.9 L520.6,521.2 L521.2,521.6 L521.9,521.9 L522.5,522.3 L523.2,522.7 L523.8,523.0 L524.4,523.4 L525.1,523.8 L525.7,524.2 L526.3,524.6 L527.0,525.0 L527.6,525.4 L528.2,525.8 L528.8,526.2 L529.4,526.6 L530.0,527.0 L530.6,527.5 L531.2,527.9 L531.8,528.3 L532.4,528.8 L533.0,529.2 L533.6,529.7 L534.1,530.1 L534.7,530.6 L535.3,531.0 L535.9,531.5 L536.4,532.0 L537.0,532.5 L537.5,532.9 L538.1,533.4 L538.6,533.9 L539.2,534.4 L539.7,534.9 L540.3,535.4 L540.8,535.9 L541.3,536.4 L541.9,536.9 L542.4,537.4 L542.9,537.9 L543.4,538.4 L544.0,538.9 L544.5,539.4 L545.0,539.9 L545.5,540.5 L546.1,541.0 L546.6,541.5 L547.1,542.0 L547.6,542.5 L548.1,543.0 L548.7,543.6 L549.2,544.1 L549.7,544.6 L550.2,545.1 L550.7,545.6 L551.3,546.1 L551.8,546.7 L552.3,547.2 L552.8,547.7 L553.4,548.2 L553.9,548.7 L554.4,549.2 L555.0,549.7 L555.5,550.2 L556.0,550.7 L556.6,551.2 L557.1,551.7 L557.7,552.2 L558.2,552.6 L558.8,553.1 L559.3,553.6 L559.9,554.1 L560.4,554.6 L561.0,555.0 L561.6,555.5 L562.1,556.0 L562.7,556.4 L563.3,556.9 L563.8,557.4 L564.4,557.8 L565.0,558.3 L565.6,558.7 L566.1,559.2 L566.7,559.6 L567.3,560.1 L567.9,560.5 L568.5,561.0 L569.1,561.4 L569.7,561.9 L570.2,562.3 L570.8,562.8 L571.4,563.2 L572.0,563.6 L572.6,564.1 L573.2,564.5 L573.8,564.9 L574.4,565.4 L575.0,565.8 L575.6,566.2 L576.2,566.7 L576.8,567.1 L577.4,567.5 L578.0,568.0 L578.7,568.4 L579.3,568.8 L579.9,569.2 L580.5,569.7 L581.1,570.1 L581.7,570.5 L582.3,570.9 L582.9,571.4 L583.5,571.8 L584.1,572.2 L584.8,572.6 L585.4,573.0 L586.0,573.5 L586.6,573.9 L587.2,574.3 L587.8,574.7 L588.5,575.1 L589.1,575.6 L589.7,576.0 L590.3,576.4 L590.9,576.8 L591.6,577.2 L592.2,577.6 L592.8,578.0 L593.4,578.4 L594.0,578.9 L594.7,579.3 L595.3,579.7 L595.9,580.1 L596.5,580.5 L597.2,580.9 L597.8,581.3 L598.4,581.7 L599.1,582.1 L599.7,582.5" stroke="#000" stroke-width="12.8" fill="none" stroke-linejoin="round" stroke-linecap="round"/>
<path d="M84.0,557.0 L84.5,556.5 L85.1,555.9 L85.6,555.4 L86.2,554.8 L86.7,554.3 L87.2,553.7 L87.8,553.1 L88.3,552.6 L88.8,552.0 L89.3,551.4 L89.8,550.9 L90.2,550.3 L90.7,549.7 L91.2,549.1 L91.7,548.5 L92.1,548.0 L92.6,547.4 L93.0,546.8 L93.5,546.2 L93.9,545.6 L94.3,545.0 L94.8,544.4 L95.2,543.8 L95.6,543.2 L96.0,542.5 L96.4,541.9 L96.8,541.3 L97.2,540.7 L97.6,540.1 L98.0,539.4 L98.4,538.8 L98.7,538.2 L99.1,537.5 L99.5,536.9 L99.8,536.3 L100.2,535.6 L100.5,535.0 L100.9,534.3 L101.2,533.7 L101.6,533.1 L101.9,532.4 L102.2,531.8 L102.6,531.1 L102.9,530.4 L103.2,529.8 L103.5,529.1 L103.8,528.5 L104.1,527.8 L104.4,527.1 L104.7,526.5 L105.0,525.8 L105.3,525.1 L105.6,524.5 L105.9,523.8 L106.2,523.1 L106.5,522.4 L106.8,521.8 L107.0,521.1 L107.3,520.4 L107.6,519.7 L107.8,519.0 L108.1,518.3 L108.4,517.7 L108.6,517.0 L108.9,516.3 L109.1,515.6 L109.4,514.9 L109.6,514.2 L109.9,513.5 L110.1,512.8 L110.4,512.1 L110.6,511.4 L110.9,510.7 L111.1,510.0 L111.4,509.3 L111.6,508.6 L111.8,507.9 L112.1,507.2 L112.3,506.5 L112.5,505.8 L112.8,505.1 L113.0,504.4 L113.2,503.7 L113.5,503.0 L113.7,502.3 L113.9,501.6 L114.1,500.9 L114.4,500.2 L114.6,499.5 L114.8,498.8 L115.0,498.1 L115.3,497.4 L115.5,496.7 L115.7,496.0 L115.9,495.2 L116.2,494.5 L116.4,493.8 L116.6,493.1 L116.8,492.4 L117.1,491.7 L117.3,491.0 L117.5,490.3 L117.7,489.6 L118.0,488.9 L118.2,488.2 L118.4,487.5 L118.7,486.8 L118.9,486.0 L119.1,485.3 L119.4,484.6 L119.6,483.9 L119.8,483.2 L120.1,482.5 L120.3,481.8 L120.5,481.1 L120.8,480.4 L121.0,479.7 L121.3,479.0 L121.5,478.3 L121.7,477.6 L122.0,476.9 L122.2,476.2 L122.5,475.5 L122.7,474.8 L123.0,474.1 L123.2,473.4 L123.5,472.7 L123.7,472.0 L124.0,471.3 L124.2,470.6 L124.5,469.9 L124.7,469.2 L125.0,468.5 L125.2,467.8 L125.5,467.1 L125.8,466.4 L126.0,465.7 L126.3,465.0 L126.5,464.3 L126.8,463.6 L127.1,462.9 L127.3,462.2 L127.6,461.5 L127.9,460.8 L128.1,460.1 L128.4,459.5 L128.7,458.8 L128.9,458.1 L129.2,457.4 L129.5,456.7 L129.7,456.0 L130.0,455.3 L130.3,454.6 L130.6,453.9 L130.8,453.3 L131.1,452.6 L131.4,451.9 L131.7,451.2 L132.0,450.5 L132.2,449.8 L132.5,449.1 L132.8,448.5 L133.1,447.8 L133.4,447.1 L133.7,446.4 L133.9,445.7 L134.2,445.0 L134.5,444.4 L134.8,443.7 L135.1,443.0 L135.4,442.3 L135.7,441.7 L136.0,441.0 L136.3,440.3 L136.6,439.6 L136.9,439.0 L137.2,438.3 L137.5,437.6 L137.8,436.9 L138.1,436.3 L138.4,435.6 L138.7,434.9 L139.0,434.2 L139.3,433.6 L139.6,432.9 L139.9,432.2 L140.2,431.6 L140.5,430.9 L140.8,430.2 L141.1,429.6 L141.5,428.9 L141.8,428.2 L142.1,427.6 L142.4,426.9 L142.7,426.3 L143.0,425.6 L143.4,424.9 L143.7,424.3 L144.0,423.6 L144.3,423.0 L144.6,422.3 L145.0,421.7 L145.3,421.0 L145.6,420.3 L145.9,419.7 L146.3,419.0 L146.6,418.4 L146.9,417.7 L147.3,417.1 L147.6,416.4 L147.9,415.8 L148.3,415.1 L148.6,414.5 L149.0,413.9 L149.3,413.2 L149.6,412.6 L150.0,411.9 L150.3,411.3 L150.7,410.6 L151.0,410.0 L151.4,409.4 L151.8,408.7 L152.1,408.1 L152.5,407.5 L152.8,406.8 L153.2,406.2 L153.6,405.6 L153.9,404.9 L154.3,404.3 L154.7,403.7 L155.1,403.0 L155.5,402.4 L155.9,401.8 L156.2,401.2 L156.6,400.5 L157.0,399.9 L157.4,399.3 L157.8,398.7 L158.2,398.1 L158.6,397.4 L159.1,396.8 L159.5,396.2 L159.9,395.6 L160.3,395.0 L160.7,394.4 L161.2,393.8 L161.6,393.1 L162.0,392.5 L162.5,391.9 L162.9,391.3 L163.4,390.7 L163.8,390.1 L164.3,389.5 L164.7,388.9 L165.2,388.3 L165.7,387.7 L166.2,387.1 L166.6,386.5 L167.1,385.9 L167.6,385.3 L168.1,384.8 L168.6,384.2 L169.1,383.6 L169.6,383.0 L170.1,382.4 L170.6,381.8 L171.2,381.3 L171.7,380.7 L172.2,380.1 L172.8,379.6 L173.3,379.0 L173.8,378.5 L174.4,377.9 L174.9,377.4 L175.5,376.8 L176.0,376.3 L176.6,375.8 L177.2,375.3 L177.7,374.8 L178.3,374.3 L178.9,373.8 L179.5,373.3 L180.1,372.8 L180.7,372.3 L181.3,371.9 L181.9,371.4 L182.5,371.0 L183.1,370.5 L183.7,370.1 L184.3,369.7 L184.9,369.3 L185.6,368.9 L186.2,368.5 L186.8,368.1 L187.5,367.8 L188.1,367.4 L188.7,367.1 L189.4,366.7 L190.0,366.4 L190.7,366.1 L191.3,365.8 L192.0,365.5 L192.7,365.3 L193.3,365.0 L194.0,364.8 L194.7,364.6 L195.4,364.3 L196.1,364.1 L196.7,363.9 L197.4,363.8 L198.1,363.6 L198.8,363.4 L199.5,363.3 L200.2,363.2 L200.9,363.1 L201.6,362.9 L202.3,362.8 L203.0,362.8 L203.7,362.7 L204.5,362.6 L205.2,362.6 L205.9,362.5 L206.6,362.5 L207.3,362.5 L208.0,362.5 L208.8,362.4 L209.5,362.5 L210.2,362.5 L210.9,362.5 L211.7,362.5 L212.4,362.6 L213.1,362.6 L213.9,362.7 L214.6,362.7 L215.3,362.8 L216.0,362.9 L216.8,363.0 L217.5,363.1 L218.2,363.2 L219.0,363.3 L219.7,363.5 L220.4,363.6 L221.2,363.7 L221.9,363.9 L222.6,364.0 L223.4,364.2 L224.1,364.4 L224.8,364.5 L225.6,364.7 L226.3,364.9 L227.0,365.1 L227.8,365.3 L228.5,365.5 L229.2,365.7 L229.9,365.9 L230.6,366.2 L231.4,366.4 L232.1,366.6 L232.8,366.9 L233.5,367.1 L234.2,367.3 L235.0,367.6 L235.7,367.9 L236.4,368.1 L237.1,368.4 L237.8,368.7 L238.5,368.9 L239.2,369.2 L239.9,369.5 L240.6,369.8 L241.3,370.1 L242.0,370.3 L242.6,370.6 L243.3,370.9 L244.0,371.2 L244.7,371.5 L245.4,371.9 L246.0,372.2 L246.7,372.5 L247.4,372.8 L248.0,373.1 L248.7,373.4 L249.4,373.8 L250.0,374.1 L250.7,374.4 L251.3,374.8 L252.0,375.1 L252.7,375.4 L253.3,375.8 L254.0,376.1 L254.6,376.5 L255.2,376.8 L255.9,377.2 L256.5,377.5 L257.2,377.9 L257.8,378.2 L258.5,378.6 L259.1,379.0 L259.7,379.3 L260.4,379.7 L261.0,380.1 L261.6,380.5 L262.2,380.8 L262.9,381.2 L263.5,381.6 L264.1,382.0 L264.7,382.4 L265.4,382.8 L266.0,383.1 L266.6,383.5 L267.2,383.9 L267.8,384.3 L268.5,384.7 L269.1,385.1 L269.7,385.5 L270.3,385.9 L270.9,386.3 L271.5,386.7 L272.1,387.2 L272.7,387.6 L273.4,388.0 L274.0,388.4 L274.6,388.8 L275.2,389.2 L275.8,389.6 L276.4,390.0 L277.0,390.5 L277.6,390.9 L278.2,391.3 L278.8,391.7 L279.4,392.2 L280.0,392.6 L280.6,393.0 L281.2,393.4 L281.8,393.9 L282.4,394.3 L283.0,394.7 L283.6,395.2 L284.2,395.6 L284.8,396.1 L285.4,396.5 L286.0,396.9 L286.6,397.4 L287.2,397.8 L287.8,398.3 L288.4,398.7 L289.0,399.2 L289.6,399.6 L290.2,400.1 L290.8,400.5 L291.3,401.0 L291.9,401.4 L292.5,401.9 L293.1,402.3 L293.7,402.8 L294.3,403.3 L294.8,403.7 L295.4,404.2 L296.0,404.7 L296.6,405.1 L297.1,405.6 L297.7,406.1 L298.3,406.6 L298.9,407.0 L299.4,407.5 L300.0,408.0 L300.6,408.5 L301.1,409.0 L301.7,409.4 L302.2,409.9 L302.8,410.4 L303.4,410.9 L303.9,411.4 L304.5,411.9 L305.0,412.4 L305.6,412.9 L306.1,413.4 L306.7,413.9 L307.2,414.4 L307.8,414.9 L308.3,415.4 L308.8,415.9 L309.4,416.4 L309.9,416.9 L310.4,417.4 L311.0,417.9 L311.5,418.4 L312.0,419.0 L312.6,419.5 L313.1,420.0 L313.6,420.5 L314.1,421.0 L314.6,421.6 L315.1,422.1 L315.7,422.6 L316.2,423.1 L316.7,423.7 L317.2,424.2 L317.7,424.7 L318.2,425.3 L318.7,425.8 L319.2,426.4 L319.7,426.9 L320.2,427.4 L320.7,428.0 L321.2,428.5 L321.7,429.1 L322.2,429.6 L322.7,430.2 L323.2,430.7 L323.7,431.3 L324.2,431.8 L324.6,432.4 L325.1,432.9 L325.6,433.5 L326.1,434.0 L326.6,434.6 L327.1,435.1 L327.5,435.7 L328.0,436.2 L328.5,436.8 L329.0,437.4 L329.5,437.9 L329.9,438.5 L330.4,439.0 L330.9,439.6 L331.4,440.2 L331.9,440.7 L332.3,441.3 L332.8,441.8 L333.3,442.4 L333.8,443.0 L334.2,443.5 L334.7,444.1 L335.2,444.7 L335.7,445.2 L336.1,445.8 L336.6,446.4 L337.1,446.9 L337.6,447.5 L338.0,448.0 L338.5,448.6 L339.0,449.2 L339.5,449.7 L339.9,450.3 L340.4,450.9 L340.9,451.4 L341.4,452.0 L341.8,452.6 L342.3,453.1 L342.8,453.7 L343.3,454.2 L343.8,454.8 L344.2,455.4 L344.7,455.9 L345.2,456.5 L345.7,457.1 L346.2,457.6 L346.7,458.2 L347.1,458.7 L347.6,459.3 L348.1,459.8 L348.6,460.4 L349.1,461.0 L349.6,461.5 L350.1,462.1 L350.6,462.6 L351.1,463.2 L351.6,463.7 L352.1,464.3 L352.6,464.8 L353.1,465.4 L353.6,465.9 L354.1,466.5 L354.6,467.0 L355.1,467.5 L355.6,468.1 L356.1,468.6 L356.6,469.2 L357.1,469.7 L357.6,470.3 L358.1,470.8 L358.7,471.3 L359.2,471.9 L359.7,472.4 L360.2,472.9 L360.8,473.4 L361.3,474.0 L361.8,474.5 L362.3,475.0 L362.9,475.5 L363.4,476.1 L363.9,476.6 L364.5,477.1 L365.0,477.6 L365.6,478.1 L366.1,478.6 L366.7,479.1 L367.2,479.7 L367.7,480.2 L368.3,480.7 L368.9,481.2 L369.4,481.7 L370.0,482.2 L370.5,482.6 L371.1,483.1 L371.6,483.6 L372.2,484.1 L372.8,484.6 L373.3,485.1 L373.9,485.6 L374.5,486.0 L375.1,486.5 L375.6,487.0 L376.2,487.4 L376.8,487.9 L377.4,488.4 L377.9,488.8 L378.5,489.3 L379.1,489.8 L379.7,490.2 L380.3,490.7 L380.9,491.1 L381.5,491.5 L382.1,492.0 L382.7,492.4 L383.3,492.9 L383.9,493.3 L384.5,493.7 L385.1,494.1 L385.7,494.6 L386.3,495.0 L386.9,495.4 L387.5,495.8 L388.2,496.2 L388.8,496.6 L389.4,497.0 L390.0,497.4 L390.6,497.8 L391.3,498.2 L391.9,498.6 L392.5,499.0 L393.2,499.3 L393.8,499.7 L394.4,500.1 L395.1,500.5 L395.7,500.8 L396.3,501.2 L397.0,501.5 L397.6,501.9 L398.3,502.2 L398.9,502.6 L399.6,502.9 L400.2,503.3 L400.9,503.6 L401.6,503.9 L402.2,504.2 L402.9,504.6 L403.6,504.9 L404.2,505.2 L404.9,505.5 L405.6,505.8 L406.2,506.1 L406.9,506.4 L407.6,506.7 L408.3,506.9 L409.0,507.2 L409.6,507.5 L410.3,507.8 L411.0,508.0 L411.7,508.3 L412.4,508.5 L413.1,508.8 L413.8,509.0 L414.5,509.3 L415.2,509.5 L415.9,509.7 L416.6,510.0 L417.3,510.2 L418.0,510.4 L418.7,510.6 L419.4,510.8 L420.1,511.0 L420.8,511.2 L421.6,511.4 L422.3,511.6 L423.0,511.8 L423.7,512.0 L424.4,512.1 L425.1,512.3 L425.9,512.5 L426.6,512.6 L427.3,512.8 L428.0,512.9 L428.8,513.1 L429.5,513.2 L430.2,513.3 L430.9,513.5 L431.7,513.6 L432.4,513.7 L433.1,513.8 L433.8,513.9 L434.6,514.0 L435.3,514.1 L436.0,514.2 L436.8,514.3 L437.5,514.4 L438.2,514.5 L439.0,514.5 L439.7,514.6 L440.4,514.7 L441.2,514.7 L441.9,514.8 L442.6,514.8 L443.4,514.8 L444.1,514.9 L444.8,514.9 L445.6,514.9 L446.3,514.9 L447.1,514.9 L447.8,514.9 L448.5,514.9 L449.3,514.9 L450.0,514.9 L450.7,514.9 L451.5,514.9 L452.2,514.9 L452.9,514.8 L453.7,514.8 L454.4,514.7 L455.1,514.7 L455.9,514.6 L456.6,514.6 L457.3,514.5 L458.0,514.4 L458.8,514.3 L459.5,514.2 L460.2,514.2 L461.0,514.1 L461.7,514.0 L462.4,513.9 L463.1,513.7 L463.9,513.6 L464.6,513.5 L465.3,513.4 L466.0,513.3 L466.7,513.2 L467.5,513.0 L468.2,512.9 L468.9,512.8 L469.6,512.7 L470.4,512.6 L471.1,512.5 L471.8,512.3 L472.5,512.2 L473.2,512.1 L474.0,512.0 L474.7,511.9 L475.4,511.8 L476.1,511.8 L476.8,511.7 L477.6,511.6 L478.3,511.6 L479.0,511.5 L479.7,511.5 L480.5,511.4 L481.2,511.4 L481.9,511.4 L482.6,511.4 L483.3,511.4 L484.1,511.4 L484.8,511.4 L485.5,511.4 L486.2,511.4 L487.0,511.5 L487.7,511.5 L488.4,511.6 L489.1,511.6 L489.9,511.7 L490.6,511.8 L491.3,511.8 L492.0,511.9 L492.7,512.0 L493.5,512.1 L494.2,512.3 L494.9,512.4 L495.6,512.5 L496.3,512.6 L497.1,512.8 L497.8,512.9 L498.5,513.1 L499.2,513.2 L499.9,513.4 L500.6,513.6 L501.3,513.8 L502.1,513.9 L502.8,514.1 L503.5,514.3 L504.2,514.5 L504.9,514.7 L505.6,515.0 L506.3,515.2 L507.0,515.4 L507.7,515.6 L508.4,515.9 L509.1,516.1 L509.8,516.4 L510.5,516.7 L511.2,516.9 L511.8,517.2 L512.5,517.5 L513.2,517.7 L513.9,518.0 L514.6,518.3 L515.2,518.6 L515.9,518.9 L516.6,519.2 L517.3,519.6 L517.9,519.9 L518.6,520.2 L519.3,520.6 L519.9,520.9 L520.6,521.2 L521.2,521.6 L521.9,521.9 L522.5,522.3 L523.2,522.7 L523.8,523.0 L524.4,523.4 L525.1,523.8 L525.7,524.2 L526.3,524.6 L527.0,525.0 L527.6,525.4 L528.2,525.8 L528.8,526.2 L529.4,526.6 L530.0,527.0 L530.6,527.5 L531.2,527.9 L531.8,528.3 L532.4,528.8 L533.0,529.2 L533.6,529.7 L534.1,530.1 L534.7,530.6 L535.3,531.0 L535.9,531.5 L536.4,532.0 L537.0,532.5 L537.5,532.9 L538.1,533.4 L538.6,533.9 L539.2,534.4 L539.7,534.9 L540.3,535.4 L540.8,535.9 L541.3,536.4 L541.9,536.9 L542.4,537.4 L542.9,537.9 L543.4,538.4 L544.0,538.9 L544.5,539.4 L545.0,539.9 L545.5,540.5 L546.1,541.0 L546.6,541.5 L547.1,542.0 L547.6,542.5 L548.1,543.0 L548.7,543.6 L549.2,544.1 L549.7,544.6 L550.2,545.1 L550.7,545.6 L551.3,546.1 L551.8,546.7 L552.3,547.2 L552.8,547.7 L553.4,548.2 L553.9,548.7 L554.4,549.2 L555.0,549.7 L555.5,550.2 L556.0,550.7 L556.6,551.2 L557.1,551.7 L557.7,552.2 L558.2,552.6 L558.8,553.1 L559.3,553.6 L559.9,554.1 L560.4,554.6 L561.0,555.0 L561.6,555.5 L562.1,556.0 L562.7,556.4 L563.3,556.9 L563.8,557.4 L564.4,557.8 L565.0,558.3 L565.6,558.7 L566.1,559.2 L566.7,559.6 L567.3,560.1 L567.9,560.5 L568.5,561.0 L569.1,561.4 L569.7,561.9 L570.2,562.3 L570.8,562.8 L571.4,563.2 L572.0,563.6 L572.6,564.1 L573.2,564.5 L573.8,564.9 L574.4,565.4 L575.0,565.8 L575.6,566.2 L576.2,566.7 L576.8,567.1 L577.4,567.5 L578.0,568.0 L578.7,568.4 L579.3,568.8 L579.9,569.2 L580.5,569.7 L581.1,570.1 L581.7,570.5 L582.3,570.9 L582.9,571.4 L583.5,571.8 L584.1,572.2 L584.8,572.6 L585.4,573.0 L586.0,573.5 L586.6,573.9 L587.2,574.3 L587.8,574.7 L588.5,575.1 L589.1,575.6 L589.7,576.0 L590.3,576.4 L590.9,576.8 L591.6,577.2 L592.2,577.6 L592.8,578.0 L593.4,578.4 L594.0,578.9 L594.7,579.3 L595.3,579.7 L595.9,580.1 L596.5,580.5 L597.2,580.9 L597.8,581.3 L598.4,581.7 L599.1,582.1 L599.7,582.5 L600.3,582.9 L601.0,583.3 L601.6,583.7 L602.2,584.0 L602.9,584.4 L603.5,584.8 L604.1,585.2 L604.8,585.6 L605.4,586.0 L606.0,586.4 L606.7,586.7 L607.3,587.1 L608.0,587.5 L608.6,587.9 L609.3,588.2 L609.9,588.6 L610.5,589.0 L611.2,589.3 L611.8,589.7 L612.5,590.1 L613.1,590.4 L613.8,590.8 L614.4,591.1 L615.1,591.5 L615.7,591.8 L616.4,592.2 L617.1,592.5 L617.7,592.9 L618.4,593.2 L619.0,593.5 L619.7,593.9 L620.3,594.2 L621.0,594.5 L621.7,594.8 L622.3,595.2 L623.0,595.5 L623.7,595.8 L624.3,596.1 L625.0,596.4 L625.7,596.7 L626.3,597.0 L627.0,597.3 L627.7,597.6 L628.4,597.9 L629.0,598.2 L629.7,598.5 L630.4,598.8 L631.1,599.1 L631.7,599.4 L632.4,599.7 L633.1,599.9 L633.8,600.2 L634.5,600.5 L635.1,600.7 L635.8,601.0 L636.5,601.3 L637.2,601.5 L637.9,601.8 L638.6,602.0 L639.3,602.3 L640.0,602.5 L640.7,602.7 L641.4,603.0 L642.1,603.2 L642.8,603.4 L643.5,603.7 L644.2,603.9 L644.9,604.1 L645.6,604.3 L646.3,604.6 L647.0,604.8 L647.7,605.0 L648.4,605.2 L649.1,605.4 L649.8,605.6 L650.5,605.8 L651.2,606.0 L651.9,606.2 L652.6,606.4 L653.3,606.6 L654.0,606.8 L654.7,607.0 L655.5,607.2 L656.2,607.3 L656.9,607.5 L657.6,607.7 L658.3,607.9 L659.0,608.1 L659.7,608.2 L660.5,608.4 L661.2,608.6 L661.9,608.7 L662.6,608.9 L663.3,609.1 L664.1,609.2 L664.8,609.4 L665.5,609.6 L666.2,609.7 L667.0,609.9 L667.7,610.0 L668.4,610.2 L669.1,610.3 L669.8,610.5 L670.6,610.6 L671.3,610.8 L672.0,610.9 L672.8,611.1 L673.5,611.2 L674.2,611.3 L674.9,611.5 L675.7,611.6 L676.4,611.8 L677.1,611.9 L677.9,612.0 L678.6,612.2 L679.3,612.3 L680.0,612.4 L680.8,612.6 L681.5,612.7 L682.2,612.8 L683.0,613.0 L683.7,613.1 L684.4,613.2 L685.2,613.3 L685.9,613.5 L686.6,613.6 L687.4,613.7 L688.1,613.8 L688.8,613.9 L689.6,614.1 L690.3,614.2 L691.0,614.3 L691.8,614.4 L692.5,614.5 L693.2,614.7 L694.0,614.8 L694.7,614.9 L695.4,615.0 L696.2,615.1 L696.9,615.3 L697.6,615.4 L698.4,615.5 L699.1,615.6 L699.8,615.7 L700.6,615.8 L701.3,616.0 L702.0,616.1 L702.8,616.2 L703.5,616.3 L704.2,616.4 L705.0,616.5 L705.7,616.7 L706.4,616.8 L707.2,616.9 L707.9,617.0 L708.6,617.1 L709.4,617.2 L710.1,617.3 L710.9,617.4 L711.6,617.6 L712.3,617.7 L713.1,617.8 L713.8,617.9 L714.5,618.0 L715.3,618.1 L716.0,618.2 L716.7,618.4 L717.5,618.5 L718.2,618.6 L718.9,618.7 L719.7,618.8 L720.4,618.9 L721.1,619.0 L721.9,619.1 L722.6,619.2 L723.3,619.3 L724.1,619.5 L724.8,619.6 L725.5,619.7 L726.3,619.8 L727.0,619.9 L727.7,620.0 L728.5,620.1 L729.2,620.2 L729.9,620.3 L730.7,620.4 L731.4,620.5 L732.1,620.6 L732.9,620.8 L733.6,620.9 L734.3,621.0 L735.1,621.1 L735.8,621.2 L736.5,621.3 L737.3,621.4 L738.0,621.5 L738.7,621.6 L739.5,621.7 L740.2,621.8 L740.9,621.9 L741.7,622.0 L742.4,622.1 L743.1,622.2 L743.9,622.3 L744.6,622.4 L745.3,622.5 L746.1,622.6 L746.8,622.7 L747.5,622.8 L748.3,622.9 L749.0,623.0 L749.7,623.1 L750.5,623.2 L751.2,623.3 L751.9,623.4 L752.7,623.5 L753.4,623.6 L754.1,623.7 L754.9,623.8 L755.6,623.9 L756.3,624.0 L757.1,624.1 L757.8,624.2 L758.5,624.3 L759.3,624.4 L760.0,624.5 L760.7,624.6 L761.5,624.7 L762.2,624.8 L763.0,624.9 L763.7,625.0 L764.4,625.1 L765.2,625.2 L765.9,625.3 L766.6,625.4 L767.4,625.5 L768.1,625.6 L768.8,625.6 L769.6,625.7 L770.3,625.8 L771.0,625.9 L771.8,626.0 L772.5,626.1 L773.2,626.2 L774.0,626.3 L774.7,626.4 L775.4,626.5 L776.2,626.6 L776.9,626.6 L777.6,626.7 L778.4,626.8 L779.1,626.9 L779.8,627.0 L780.6,627.1 L781.3,627.2 L782.0,627.3 L782.8,627.3 L783.5,627.4 L784.2,627.5 L785.0,627.6 L785.7,627.7 L786.5,627.8 L787.2,627.9 L787.9,627.9 L788.7,628.0 L789.4,628.1 L790.1,628.2 L790.9,628.3 L791.6,628.4 L792.3,628.4 L793.1,628.5 L793.8,628.6 L794.5,628.7 L795.3,628.8 L796.0,628.8 L796.7,628.9 L797.5,629.0 L798.2,629.1 L799.0,629.2 L799.7,629.2 L800.4,629.3 L801.2,629.4 L801.9,629.5 L802.6,629.5 L803.4,629.6 L804.1,629.7 L804.8,629.8 L805.6,629.8 L806.3,629.9 L807.0,630.0 L807.8,630.1 L808.5,630.1 L809.3,630.2 L810.0,630.3 L810.7,630.4 L811.5,630.4 L812.2,630.5 L812.9,630.6 L813.7,630.6 L814.4,630.7 L815.1,630.8 L815.9,630.8 L816.6,630.9 L817.3,631.0 L818.1,631.1 L818.8,631.1 L819.6,631.2 L820.3,631.3 L821.0,631.3 L821.8,631.4 L822.5,631.5 L823.2,631.5 L824.0,631.6 L824.7,631.6 L825.5,631.7 L826.2,631.8 L826.9,631.8 L827.7,631.9 L828.4,632.0 L829.1,632.0 L829.9,632.1 L830.6,632.1 L831.4,632.2 L832.1,632.3 L832.8,632.3 L833.6,632.4 L834.3,632.4 L835.0,632.5 L835.8,632.6 L836.5,632.6 L837.3,632.7 L838.0,632.7 L838.7,632.8 L839.5,632.8 L840.2,632.9 L840.9,632.9 L841.7,633.0 L842.4,633.1 L843.2,633.1 L843.9,633.2 L844.6,633.2 L845.4,633.3 L846.1,633.3 L846.9,633.4 L847.6,633.4 L848.3,633.5 L849.1,633.5 L849.8,633.6 L850.5,633.6 L851.3,633.7 L852.0,633.7 L852.8,633.8 L853.5,633.8 L854.2,633.8 L855.0,633.9 L855.7,633.9 L856.5,634.0 L857.2,634.0 L857.9,634.1 L858.7,634.1 L859.4,634.2 L860.2,634.2 L860.9,634.2 L861.6,634.3 L862.4,634.3 L863.1,634.4 L863.9,634.4 L864.6,634.4 L865.3,634.5 L866.1,634.5 L866.8,634.6 L867.6,634.6 L868.3,634.6 L869.0,634.7 L869.8,634.7 L870.5,634.8 L871.3,634.8 L872.0,634.8 L872.7,634.9 L873.5,634.9 L874.2,634.9 L875.0,635.0 L875.7,635.0 L876.4,635.0 L877.2,635.1 L877.9,635.1 L878.7,635.1 L879.4,635.2 L880.1,635.2 L880.9,635.2 L881.6,635.3 L882.4,635.3 L883.1,635.3 L883.8,635.4 L884.6,635.4 L885.3,635.4 L886.1,635.5 L886.8,635.5 L887.6,635.5 L888.3,635.6 L889.0,635.6 L889.8,635.6 L890.5,635.6 L891.3,635.7 L892.0,635.7 L892.7,635.7 L893.5,635.8 L894.2,635.8 L895.0,635.8 L895.7,635.8 L896.4,635.9 L897.2,635.9 L897.9,635.9 L898.7,635.9 L899.4,636.0 L900.2,636.0 L900.9,636.0 L901.6,636.0 L902.4,636.1 L903.1,636.1 L903.9,636.1 L904.6,636.1 L905.3,636.2 L906.1,636.2 L906.8,636.2 L907.6,636.2 L908.3,636.3 L909.0,636.3 L909.8,636.3 L910.5,636.3 L911.3,636.3 L912.0,636.4 L912.8,636.4 L913.5,636.4 L914.2,636.4 L915.0,636.4 L915.7,636.5 L916.5,636.5 L917.2,636.5 L917.9,636.5 L918.7,636.5 L919.4,636.6 L920.2,636.6 L920.9,636.6 L921.7,636.6 L922.4,636.6 L923.1,636.7 L923.9,636.7 L924.6,636.7 L925.4,636.7 L926.1,636.7 L926.8,636.8 L927.6,636.8 L928.3,636.8 L929.1,636.8 L929.8,636.8 L930.6,636.8 L931.3,636.9 L932.0,636.9 L932.8,636.9 L933.5,636.9 L934.3,636.9 L935.0,636.9 L935.7,637.0 L936.5,637.0 L937.2,637.0 L938.0,637.0 L938.7,637.0 L939.4,637.0 L940.2,637.0 L940.9,637.1 L941.7,637.1 L942.4,637.1 L943.2,637.1 L943.9,637.1 L944.6,637.1 L945.4,637.2 L946.1,637.2 L946.9,637.2 L947.6,637.2 L948.3,637.2 L949.1,637.2 L949.8,637.2 L950.6,637.3 L951.3,637.3 L952.0,637.3 L952.8,637.3 L953.5,637.3 L954.3,637.3 L955.0,637.3 L955.8,637.3 L956.5,637.4 L957.2,637.4 L958.0,637.4 L958.7,637.4 L959.5,637.4 L960.2,637.4 L960.9,637.4 L961.7,637.5 L962.4,637.5 L963.2,637.5 L963.9,637.5 L964.6,637.5 L965.4,637.5 L966.1,637.5 L966.9,637.5 L967.6,637.6 L968.3,637.6 L969.1,637.6 L969.8,637.6 L970.6,637.6 L971.3,637.6 L972.0,637.6 L972.8,637.7 L973.5,637.7 L974.3,637.7 L975.0,637.7 L975.7,637.7 L976.5,637.7 L977.2,637.7 L978.0,637.7 L978.7,637.8 L979.4,637.8 L980.2,637.8 L980.9,637.8 L981.7,637.8 L982.4,637.8 L983.1,637.8 L983.9,637.9 L984.6,637.9 L985.3,637.9 L986.1,637.9 L986.8,637.9 L987.6,637.9 L988.3,637.9 L989.0,638.0 L989.8,638.0 L990.5,638.0 L991.3,638.0 L992.0,638.0" stroke="#000" stroke-width="9.8" fill="none" stroke-linejoin="round" stroke-linecap="round"/>
<path d="M84.0,526.5 L84.6,525.9 L85.1,525.4 L85.6,524.8 L86.1,524.2 L86.6,523.6 L87.1,523.0 L87.6,522.4 L88.1,521.8 L88.5,521.2 L89.0,520.6 L89.5,520.0 L89.9,519.4 L90.3,518.8 L90.8,518.2 L91.2,517.5 L91.6,516.9 L92.0,516.2 L92.4,515.6 L92.8,515.0 L93.2,514.3 L93.6,513.6 L94.0,513.0 L94.3,512.3 L94.7,511.7 L95.0,511.0 L95.4,510.3 L95.7,509.6 L96.1,509.0 L96.4,508.3 L96.7,507.6 L97.1,506.9 L97.4,506.2 L97.7,505.5 L98.0,504.8 L98.3,504.1 L98.6,503.4 L98.9,502.7 L99.2,502.0 L99.5,501.3 L99.7,500.6 L100.0,499.9 L100.3,499.2 L100.6,498.5 L100.8,497.7 L101.1,497.0 L101.4,496.3 L101.6,495.6 L101.9,494.9 L102.1,494.1 L102.4,493.4 L102.6,492.7 L102.9,491.9 L103.1,491.2 L103.3,490.5 L103.6,489.7 L103.8,489.0 L104.1,488.3 L104.3,487.5 L104.5,486.8 L104.8,486.1 L105.0,485.3 L105.2,484.6 L105.5,483.8 L105.7,483.1 L105.9,482.4 L106.1,481.6 L106.4,480.9 L106.6,480.1 L106.8,479.4 L107.1,478.7 L107.3,477.9 L107.5,477.2 L107.7,476.4 L108.0,475.7 L108.2,475.0 L108.4,474.2 L108.7,473.5 L108.9,472.8 L109.1,472.0 L109.4,471.3 L109.6,470.6 L109.9,469.8 L110.1,469.1 L110.4,468.4 L110.6,467.6 L110.9,466.9 L111.1,466.2 L111.4,465.4 L111.6,464.7 L111.9,464.0 L112.1,463.3 L112.4,462.5 L112.6,461.8 L112.9,461.1 L113.1,460.4 L113.4,459.7 L113.7,458.9 L113.9,458.2 L114.2,457.5 L114.5,456.8 L114.7,456.1 L115.0,455.3 L115.2,454.6 L115.5,453.9 L115.8,453.2 L116.1,452.5 L116.3,451.7 L116.6,451.0 L116.9,450.3 L117.1,449.6 L117.4,448.9 L117.7,448.2 L118.0,447.5 L118.2,446.7 L118.5,446.0 L118.8,445.3 L119.1,444.6 L119.3,443.9 L119.6,443.2 L119.9,442.5 L120.2,441.8 L120.4,441.0 L120.7,440.3 L121.0,439.6 L121.3,438.9 L121.6,438.2 L121.8,437.5 L122.1,436.8 L122.4,436.1 L122.7,435.3 L122.9,434.6 L123.2,433.9 L123.5,433.2 L123.8,432.5 L124.1,431.8 L124.3,431.1 L124.6,430.4 L124.9,429.6 L125.2,428.9 L125.4,428.2 L125.7,427.5 L126.0,426.8 L126.3,426.1 L126.5,425.4 L126.8,424.6 L127.1,423.9 L127.4,423.2 L127.6,422.5 L127.9,421.8 L128.2,421.1 L128.5,420.3 L128.7,419.6 L129.0,418.9 L129.3,418.2 L129.5,417.5 L129.8,416.8 L130.1,416.0 L130.3,415.3 L130.6,414.6 L130.9,413.9 L131.1,413.1 L131.4,412.4 L131.7,411.7 L131.9,411.0 L132.2,410.2 L132.4,409.5 L132.7,408.8 L133.0,408.1 L133.2,407.3 L133.5,406.6 L133.7,405.9 L134.0,405.2 L134.2,404.4 L134.5,403.7 L134.7,403.0 L135.0,402.2 L135.3,401.5 L135.5,400.8 L135.8,400.1 L136.0,399.3 L136.3,398.6 L136.5,397.9 L136.8,397.1 L137.0,396.4 L137.3,395.7 L137.5,395.0 L137.8,394.2 L138.0,393.5 L138.3,392.8 L138.5,392.0 L138.8,391.3 L139.1,390.6 L139.3,389.9 L139.6,389.2 L139.8,388.4 L140.1,387.7 L140.4,387.0 L140.6,386.3 L140.9,385.6 L141.2,384.9 L141.4,384.1 L141.7,383.4 L142.0,382.7 L142.3,382.0 L142.5,381.3 L142.8,380.6 L143.1,379.9 L143.4,379.2 L143.7,378.5 L143.9,377.8 L144.2,377.1 L144.5,376.4 L144.8,375.7 L145.1,375.0 L145.4,374.3 L145.7,373.6 L146.1,373.0 L146.4,372.3 L146.7,371.6 L147.1,370.9 L147.4,370.2 L147.8,369.6 L148.1,368.9 L148.5,368.2 L148.9,367.5 L149.3,366.9 L149.7,366.2 L150.2,365.5 L150.6,364.9 L151.1,364.2 L151.6,363.5 L152.1,362.9 L152.6,362.2 L153.1,361.6 L153.6,360.9 L154.2,360.3 L154.8,359.7 L155.3,359.1 L155.9,358.5 L156.5,357.9 L157.1,357.3 L157.8,356.8 L158.4,356.3 L159.0,355.8 L159.6,355.3 L160.3,354.8 L160.9,354.4 L161.6,354.0 L162.2,353.6 L162.9,353.3 L163.6,353.0 L164.2,352.8 L164.9,352.5 L165.6,352.3 L166.2,352.2 L166.9,352.1 L167.6,352.0 L168.2,352.0 L168.9,352.0 L169.5,352.1 L170.2,352.2 L170.8,352.4 L171.4,352.6 L172.1,352.9 L172.7,353.1 L173.3,353.5 L173.9,353.8 L174.6,354.2 L175.2,354.6 L175.8,355.1 L176.4,355.6 L177.0,356.1 L177.5,356.6 L178.1,357.1 L178.7,357.7 L179.3,358.3 L179.8,358.9 L180.4,359.5 L180.9,360.2 L181.4,360.8 L182.0,361.5 L182.5,362.2 L183.0,362.9 L183.5,363.5 L184.0,364.2 L184.5,364.9 L185.0,365.6 L185.4,366.3 L185.9,367.0 L186.3,367.7 L186.8,368.4 L187.2,369.1 L187.6,369.8 L188.0,370.4 L188.4,371.1 L188.8,371.8 L189.2,372.4 L189.6,373.1 L190.0,373.8 L190.4,374.4 L190.8,375.1 L191.1,375.7 L191.5,376.4 L191.9,377.0 L192.2,377.7 L192.6,378.3 L192.9,379.0 L193.3,379.6 L193.6,380.3 L194.0,380.9 L194.3,381.5 L194.7,382.2 L195.0,382.8 L195.4,383.5 L195.7,384.1 L196.1,384.8 L196.4,385.4 L196.8,386.1 L197.1,386.7 L197.5,387.4 L197.9,388.1 L198.2,388.7 L198.6,389.4 L198.9,390.0 L199.3,390.7 L199.7,391.4 L200.1,392.0 L200.4,392.7 L200.8,393.4 L201.2,394.0 L201.6,394.7 L201.9,395.4 L202.3,396.0 L202.7,396.7 L203.1,397.4 L203.4,398.0 L203.8,398.7 L204.2,399.4 L204.6,400.1 L205.0,400.7 L205.3,401.4 L205.7,402.1 L206.1,402.7 L206.5,403.4 L206.9,404.1 L207.3,404.8 L207.6,405.4 L208.0,406.1 L208.4,406.8 L208.8,407.5 L209.2,408.1 L209.5,408.8 L209.9,409.5 L210.3,410.1 L210.7,410.8 L211.1,411.5 L211.4,412.1 L211.8,412.8 L212.2,413.5 L212.6,414.1 L212.9,414.8 L213.3,415.5 L213.7,416.1 L214.1,416.8 L214.5,417.5 L214.8,418.1 L215.2,418.8 L215.6,419.5 L215.9,420.1 L216.3,420.8 L216.7,421.5 L217.1,422.1 L217.4,422.8 L217.8,423.5 L218.2,424.1 L218.5,424.8 L218.9,425.5 L219.3,426.1 L219.7,426.8 L220.0,427.5 L220.4,428.1 L220.8,428.8 L221.1,429.5 L221.5,430.1 L221.9,430.8 L222.2,431.5 L222.6,432.1 L223.0,432.8 L223.3,433.5 L223.7,434.2 L224.1,434.8 L224.4,435.5 L224.8,436.2 L225.2,436.8 L225.5,437.5 L225.9,438.2 L226.2,438.9 L226.6,439.5 L227.0,440.2 L227.3,440.9 L227.7,441.6 L228.1,442.2 L228.4,442.9 L228.8,443.6 L229.1,444.3 L229.5,444.9 L229.9,445.6 L230.2,446.3 L230.6,447.0 L230.9,447.7 L231.3,448.3 L231.7,449.0 L232.0,449.7 L232.4,450.4 L232.7,451.1 L233.1,451.8 L233.5,452.4 L233.8,453.1 L234.2,453.8 L234.5,454.5 L234.9,455.2 L235.3,455.8 L235.6,456.5 L236.0,457.2 L236.4,457.9 L236.7,458.6 L237.1,459.2 L237.5,459.9 L237.8,460.6 L238.2,461.3 L238.6,462.0 L238.9,462.6 L239.3,463.3 L239.7,464.0 L240.1,464.7 L240.4,465.3 L240.8,466.0 L241.2,466.7 L241.6,467.4 L241.9,468.0 L242.3,468.7 L242.7,469.4 L243.1,470.0 L243.5,470.7 L243.8,471.4 L244.2,472.0 L244.6,472.7 L245.0,473.3 L245.4,474.0 L245.8,474.7 L246.2,475.3 L246.6,476.0 L247.0,476.6 L247.4,477.3 L247.8,477.9 L248.2,478.6 L248.6,479.2 L249.0,479.9 L249.4,480.5 L249.8,481.2 L250.2,481.8 L250.6,482.4 L251.0,483.1 L251.5,483.7 L251.9,484.3 L252.3,485.0 L252.7,485.6 L253.1,486.2 L253.6,486.9 L254.0,487.5 L254.4,488.1 L254.9,488.8 L255.3,489.4 L255.7,490.0 L256.2,490.6 L256.6,491.2 L257.0,491.9 L257.5,492.5 L257.9,493.1 L258.4,493.7 L258.8,494.3 L259.3,494.9 L259.7,495.5 L260.2,496.2 L260.7,496.8 L261.1,497.4 L261.6,498.0 L262.0,498.6 L262.5,499.2 L263.0,499.8 L263.4,500.4 L263.9,501.0 L264.4,501.6 L264.9,502.2 L265.3,502.8 L265.8,503.4 L266.3,504.0 L266.8,504.6 L267.3,505.1 L267.8,505.7 L268.3,506.3 L268.8,506.9 L269.3,507.5 L269.8,508.1 L270.3,508.7 L270.8,509.2 L271.3,509.8 L271.8,510.4 L272.3,511.0 L272.8,511.6 L273.3,512.2 L273.8,512.7 L274.3,513.3 L274.8,513.9 L275.3,514.5 L275.8,515.0 L276.4,515.6 L276.9,516.2 L277.4,516.8 L277.9,517.3 L278.4,517.9 L278.9,518.5 L279.5,519.1 L280.0,519.6 L280.5,520.2 L281.0,520.8 L281.5,521.4 L282.0,521.9 L282.6,522.5 L283.1,523.1 L283.6,523.6 L284.1,524.2 L284.6,524.8 L285.2,525.4 L285.7,525.9 L286.2,526.5 L286.7,527.1 L287.2,527.6 L287.7,528.2 L288.3,528.8 L288.8,529.3 L289.3,529.9 L289.8,530.5 L290.3,531.1 L290.8,531.6 L291.4,532.2 L291.9,532.8 L292.4,533.3 L292.9,533.9 L293.4,534.4 L294.0,535.0 L294.5,535.6 L295.0,536.1 L295.5,536.7 L296.0,537.3 L296.6,537.8 L297.1,538.4 L297.6,538.9 L298.1,539.5 L298.7,540.1 L299.2,540.6 L299.7,541.2 L300.2,541.7 L300.8,542.3 L301.3,542.8 L301.8,543.4 L302.3,543.9 L302.9,544.5 L303.4,545.0 L303.9,545.6 L304.5,546.1 L305.0,546.7 L305.6,547.2 L306.1,547.8 L306.6,548.3 L307.2,548.8 L307.7,549.4 L308.2,549.9 L308.8,550.4 L309.3,551.0 L309.9,551.5 L310.4,552.1 L311.0,552.6 L311.5,553.1 L312.1,553.6 L312.6,554.2 L313.2,554.7 L313.7,555.2 L314.3,555.7 L314.9,556.3 L315.4,556.8 L316.0,557.3 L316.6,557.8 L317.1,558.3 L317.7,558.8 L318.3,559.3 L318.8,559.9 L319.4,560.4 L320.0,560.9 L320.6,561.4 L321.1,561.9 L321.7,562.4 L322.3,562.9 L322.9,563.4 L323.5,563.9 L324.1,564.3 L324.6,564.8 L325.2,565.3 L325.8,565.8 L326.4,566.3 L327.0,566.8 L327.6,567.2 L328.2,567.7 L328.8,568.2 L329.5,568.7 L330.1,569.1 L330.7,569.6 L331.3,570.1 L331.9,570.5 L332.5,571.0 L333.1,571.5 L333.8,571.9 L334.4,572.4 L335.0,572.9 L335.6,573.3 L336.2,573.8 L336.9,574.3 L337.5,574.7 L338.1,575.2 L338.7,575.6 L339.3,576.1 L340.0,576.6 L340.6,577.0 L341.2,577.5 L341.8,578.0 L342.4,578.4 L343.0,578.9 L343.6,579.4 L344.2,579.9 L344.8,580.3 L345.4,580.8 L346.0,581.3 L346.6,581.8 L347.2,582.3 L347.8,582.8 L348.4,583.3 L349.0,583.8 L349.5,584.3 L350.1,584.8 L350.7,585.3 L351.2,585.8 L351.8,586.3 L352.4,586.9 L352.9,587.4 L353.5,587.9 L354.0,588.4 L354.6,589.0 L355.1,589.5 L355.7,590.0 L356.2,590.5 L356.8,591.1 L357.3,591.6 L357.9,592.1 L358.5,592.6 L359.0,593.1 L359.6,593.6 L360.2,594.1 L360.8,594.5 L361.4,595.0 L362.0,595.5 L362.6,595.9 L363.2,596.3 L363.9,596.7 L364.5,597.1 L365.2,597.5 L365.8,597.9 L366.5,598.3 L367.2,598.7 L367.8,599.0 L368.5,599.4 L369.2,599.8 L369.9,600.1 L370.6,600.5 L371.3,600.8 L372.0,601.2 L372.7,601.5 L373.3,601.9 L374.0,602.2 L374.7,602.6 L375.4,602.9 L376.1,603.2 L376.8,603.6 L377.5,603.9 L378.2,604.3 L378.9,604.6 L379.6,604.9 L380.3,605.3 L381.0,605.6 L381.7,605.9 L382.4,606.3 L383.1,606.6 L383.8,606.9 L384.5,607.2 L385.2,607.6 L385.9,607.9 L386.6,608.2 L387.3,608.5 L388.0,608.8 L388.7,609.1 L389.4,609.4 L390.1,609.7 L390.8,610.1 L391.6,610.4 L392.3,610.6 L393.0,610.9 L393.7,611.2 L394.4,611.5 L395.1,611.8 L395.8,612.1 L396.6,612.4 L397.3,612.7 L398.0,612.9 L398.7,613.2 L399.4,613.5 L400.1,613.7 L400.9,614.0 L401.6,614.3 L402.3,614.5 L403.0,614.8 L403.7,615.0 L404.5,615.3 L405.2,615.5 L405.9,615.8 L406.6,616.0 L407.4,616.2 L408.1,616.5 L408.8,616.7 L409.6,616.9 L410.3,617.1 L411.0,617.4 L411.8,617.6 L412.5,617.8 L413.2,618.0 L414.0,618.2 L414.7,618.4 L415.4,618.6 L416.2,618.8 L416.9,619.0 L417.6,619.1 L418.4,619.3 L419.1,619.5 L419.9,619.7 L420.6,619.8 L421.3,620.0 L422.1,620.1 L422.8,620.3 L423.6,620.4 L424.3,620.6 L425.1,620.7 L425.8,620.8 L426.6,621.0 L427.3,621.1 L428.1,621.2 L428.8,621.3 L429.6,621.4 L430.3,621.5 L431.1,621.6 L431.8,621.7 L432.6,621.8 L433.3,621.9 L434.1,622.0 L434.9,622.0 L435.6,622.1 L436.4,622.2 L437.1,622.2 L437.9,622.3 L438.7,622.3 L439.4,622.4 L440.2,622.4 L441.0,622.4 L441.7,622.5 L442.5,622.5 L443.3,622.5 L444.0,622.5 L444.8,622.5 L445.6,622.5 L446.3,622.5 L447.1,622.5 L447.9,622.5 L448.7,622.5 L449.4,622.5 L450.2,622.5 L451.0,622.5 L451.7,622.4 L452.5,622.4 L453.3,622.4 L454.1,622.4 L454.8,622.3 L455.6,622.3 L456.4,622.3 L457.2,622.2 L458.0,622.2 L458.7,622.2 L459.5,622.1 L460.3,622.1 L461.1,622.0 L461.8,622.0 L462.6,622.0 L463.4,621.9 L464.2,621.9 L464.9,621.9 L465.7,621.8 L466.5,621.8 L467.3,621.8 L468.0,621.7 L468.8,621.7 L469.6,621.7 L470.4,621.6 L471.1,621.6 L471.9,621.6 L472.7,621.6 L473.5,621.6 L474.2,621.5 L475.0,621.5 L475.8,621.5 L476.6,621.5 L477.3,621.5 L478.1,621.5 L478.9,621.5 L479.6,621.5 L480.4,621.5 L481.2,621.6 L481.9,621.6 L482.7,621.6 L483.5,621.6 L484.2,621.7 L485.0,621.7 L485.8,621.7 L486.5,621.8 L487.3,621.8 L488.1,621.8 L488.8,621.9 L489.6,621.9 L490.3,622.0 L491.1,622.0 L491.9,622.1 L492.6,622.1 L493.4,622.2 L494.2,622.3 L494.9,622.3 L495.7,622.4 L496.4,622.5 L497.2,622.6 L498.0,622.6 L498.7,622.7 L499.5,622.8 L500.2,622.9 L501.0,623.0 L501.7,623.0 L502.5,623.1 L503.3,623.2 L504.0,623.3 L504.8,623.4 L505.5,623.5 L506.3,623.6 L507.1,623.7 L507.8,623.8 L508.6,623.9 L509.3,624.0 L510.1,624.1 L510.8,624.2 L511.6,624.4 L512.4,624.5 L513.1,624.6 L513.9,624.7 L514.6,624.8 L515.4,624.9 L516.1,625.1 L516.9,625.2 L517.7,625.3 L518.4,625.4 L519.2,625.6 L519.9,625.7 L520.7,625.8 L521.4,625.9 L522.2,626.1 L522.9,626.2 L523.7,626.3 L524.5,626.5 L525.2,626.6 L526.0,626.7 L526.7,626.9 L527.5,627.0 L528.2,627.1 L529.0,627.3 L529.8,627.4 L530.5,627.6 L531.3,627.7 L532.0,627.8 L532.8,628.0 L533.5,628.1 L534.3,628.3 L535.0,628.4 L535.8,628.5 L536.6,628.7 L537.3,628.8 L538.1,629.0 L538.8,629.1 L539.6,629.3 L540.3,629.4 L541.1,629.5 L541.8,629.7 L542.6,629.8 L543.4,630.0 L544.1,630.1 L544.9,630.3 L545.6,630.4 L546.4,630.5 L547.1,630.7 L547.9,630.8 L548.6,631.0 L549.4,631.1 L550.2,631.3 L550.9,631.4 L551.7,631.5 L552.4,631.7 L553.2,631.8 L553.9,632.0 L554.7,632.1 L555.5,632.2 L556.2,632.4 L557.0,632.5 L557.7,632.6 L558.5,632.8 L559.2,632.9 L560.0,633.1 L560.8,633.2 L561.5,633.3 L562.3,633.4 L563.0,633.6 L563.8,633.7 L564.5,633.8 L565.3,634.0 L566.1,634.1 L566.8,634.2 L567.6,634.3 L568.3,634.4 L569.1,634.6 L569.8,634.7 L570.6,634.8 L571.4,634.9 L572.1,635.0 L572.9,635.1 L573.6,635.3 L574.4,635.4 L575.2,635.5 L575.9,635.6 L576.7,635.7 L577.4,635.8 L578.2,635.9 L579.0,636.0 L579.7,636.1 L580.5,636.2 L581.2,636.3 L582.0,636.4 L582.8,636.4 L583.5,636.5 L584.3,636.6 L585.0,636.7 L585.8,636.8 L586.6,636.9 L587.3,636.9 L588.1,637.0 L588.8,637.1 L589.6,637.1 L590.4,637.2 L591.1,637.3 L591.9,637.3 L592.7,637.4 L593.4,637.4 L594.2,637.5 L594.9,637.6 L595.7,637.6 L596.5,637.7 L597.2,637.7 L598.0,637.8 L598.8,637.8 L599.5,637.8 L600.3,637.9 L601.1,637.9 L601.8,638.0 L602.6,638.0 L603.3,638.0 L604.1,638.1 L604.9,638.1 L605.6,638.1 L606.4,638.1 L607.2,638.2 L607.9,638.2 L608.7,638.2 L609.5,638.2 L610.2,638.3 L611.0,638.3 L611.8,638.3 L612.5,638.3 L613.3,638.3 L614.1,638.3 L614.8,638.3 L615.6,638.3 L616.4,638.4 L617.1,638.4 L617.9,638.4 L618.7,638.4 L619.4,638.4 L620.2,638.4 L621.0,638.4 L621.7,638.4 L622.5,638.4 L623.3,638.4 L624.0,638.4 L624.8,638.4 L625.6,638.4 L626.3,638.3 L627.1,638.3 L627.9,638.3 L628.6,638.3 L629.4,638.3 L630.2,638.3 L630.9,638.3 L631.7,638.3 L632.5,638.3 L633.3,638.3 L634.0,638.2 L634.8,638.2 L635.6,638.2 L636.3,638.2 L637.1,638.2 L637.9,638.2 L638.6,638.1 L639.4,638.1 L640.2,638.1 L640.9,638.1 L641.7,638.1 L642.5,638.0 L643.2,638.0 L644.0,638.0 L644.8,638.0 L645.6,637.9 L646.3,637.9 L647.1,637.9 L647.9,637.9 L648.6,637.9 L649.4,637.8 L650.2,637.8 L650.9,637.8 L651.7,637.8 L652.5,637.7 L653.2,637.7 L654.0,637.7 L654.8,637.7 L655.5,637.6 L656.3,637.6 L657.1,637.6 L657.9,637.6 L658.6,637.6 L659.4,637.5 L660.2,637.5 L660.9,637.5 L661.7,637.5 L662.5,637.4 L663.2,637.4 L664.0,637.4 L664.8,637.4 L665.5,637.4 L666.3,637.3 L667.1,637.3 L667.9,637.3 L668.6,637.3 L669.4,637.2 L670.2,637.2 L670.9,637.2 L671.7,637.2 L672.5,637.2 L673.2,637.1 L674.0,637.1 L674.8,637.1 L675.5,637.1 L676.3,637.1 L677.1,637.0 L677.8,637.0 L678.6,637.0 L679.4,637.0 L680.2,637.0 L680.9,637.0 L681.7,636.9 L682.5,636.9 L683.2,636.9 L684.0,636.9 L684.8,636.9 L685.5,636.9 L686.3,636.8 L687.1,636.8 L687.8,636.8 L688.6,636.8 L689.4,636.8 L690.1,636.8 L690.9,636.7 L691.7,636.7 L692.5,636.7 L693.2,636.7 L694.0,636.7 L694.8,636.7 L695.5,636.7 L696.3,636.6 L697.1,636.6 L697.8,636.6 L698.6,636.6 L699.4,636.6 L700.1,636.6 L700.9,636.6 L701.7,636.5 L702.4,636.5 L703.2,636.5 L704.0,636.5 L704.7,636.5 L705.5,636.5 L706.3,636.5 L707.1,636.5 L707.8,636.4 L708.6,636.4 L709.4,636.4 L710.1,636.4 L710.9,636.4 L711.7,636.4 L712.4,636.4 L713.2,636.4 L714.0,636.4 L714.7,636.3 L715.5,636.3 L716.3,636.3 L717.0,636.3 L717.8,636.3 L718.6,636.3 L719.3,636.3 L720.1,636.3 L720.9,636.3 L721.7,636.3 L722.4,636.2 L723.2,636.2 L724.0,636.2 L724.7,636.2 L725.5,636.2 L726.3,636.2 L727.0,636.2 L727.8,636.2 L728.6,636.2 L729.3,636.2 L730.1,636.2 L730.9,636.2 L731.6,636.2 L732.4,636.1 L733.2,636.1 L733.9,636.1 L734.7,636.1 L735.5,636.1 L736.3,636.1 L737.0,636.1 L737.8,636.1 L738.6,636.1 L739.3,636.1 L740.1,636.1 L740.9,636.1 L741.6,636.1 L742.4,636.1 L743.2,636.1 L743.9,636.0 L744.7,636.0 L745.5,636.0 L746.2,636.0 L747.0,636.0 L747.8,636.0 L748.5,636.0 L749.3,636.0 L750.1,636.0 L750.8,636.0 L751.6,636.0 L752.4,636.0 L753.1,636.0 L753.9,636.0 L754.7,636.0 L755.5,636.0 L756.2,636.0 L757.0,636.0 L757.8,636.0 L758.5,636.0 L759.3,636.0 L760.1,636.0 L760.8,636.0 L761.6,636.0 L762.4,636.0 L763.1,636.0 L763.9,636.0 L764.7,635.9 L765.4,635.9 L766.2,635.9 L767.0,635.9 L767.7,635.9 L768.5,635.9 L769.3,635.9 L770.0,635.9 L770.8,635.9 L771.6,635.9 L772.3,635.9 L773.1,635.9 L773.9,635.9 L774.7,635.9 L775.4,635.9 L776.2,635.9 L777.0,635.9 L777.7,635.9 L778.5,635.9 L779.3,635.9 L780.0,635.9 L780.8,635.9 L781.6,635.9 L782.3,635.9 L783.1,635.9 L783.9,635.9 L784.6,635.9 L785.4,635.9 L786.2,635.9 L786.9,635.9 L787.7,635.9 L788.5,635.9 L789.2,635.9 L790.0,635.9 L790.8,635.9 L791.5,635.9 L792.3,635.9 L793.1,635.9 L793.8,635.9 L794.6,635.9 L795.4,635.9 L796.2,635.9 L796.9,635.9 L797.7,635.9 L798.5,635.9 L799.2,635.9 L800.0,635.9 L800.8,635.9 L801.5,635.9 L802.3,635.9 L803.1,635.9 L803.8,635.9 L804.6,635.9 L805.4,636.0 L806.1,636.0 L806.9,636.0 L807.7,636.0 L808.4,636.0 L809.2,636.0 L810.0,636.0 L810.7,636.0 L811.5,636.0 L812.3,636.0 L813.0,636.0 L813.8,636.0 L814.6,636.0 L815.3,636.0 L816.1,636.0 L816.9,636.0 L817.7,636.0 L818.4,636.0 L819.2,636.0 L820.0,636.0 L820.7,636.0 L821.5,636.0 L822.3,636.0 L823.0,636.0 L823.8,636.0 L824.6,636.0 L825.3,636.0 L826.1,636.0 L826.9,636.0 L827.6,636.0 L828.4,636.0 L829.2,636.0 L829.9,636.0 L830.7,636.0 L831.5,636.1 L832.2,636.1 L833.0,636.1 L833.8,636.1 L834.5,636.1 L835.3,636.1 L836.1,636.1 L836.8,636.1 L837.6,636.1 L838.4,636.1 L839.1,636.1 L839.9,636.1 L840.7,636.1 L841.5,636.1 L842.2,636.1 L843.0,636.1 L843.8,636.1 L844.5,636.1 L845.3,636.1 L846.1,636.1 L846.8,636.1 L847.6,636.1 L848.4,636.1 L849.1,636.1 L849.9,636.1 L850.7,636.2 L851.4,636.2 L852.2,636.2 L853.0,636.2 L853.7,636.2 L854.5,636.2 L855.3,636.2 L856.0,636.2 L856.8,636.2 L857.6,636.2 L858.3,636.2 L859.1,636.2 L859.9,636.2 L860.6,636.2 L861.4,636.2 L862.2,636.2 L862.9,636.2 L863.7,636.2 L864.5,636.2 L865.3,636.2 L866.0,636.2 L866.8,636.2 L867.6,636.3 L868.3,636.3 L869.1,636.3 L869.9,636.3 L870.6,636.3 L871.4,636.3 L872.2,636.3 L872.9,636.3 L873.7,636.3 L874.5,636.3 L875.2,636.3 L876.0,636.3 L876.8,636.3 L877.5,636.3 L878.3,636.3 L879.1,636.3 L879.8,636.3 L880.6,636.3 L881.4,636.3 L882.1,636.3 L882.9,636.3 L883.7,636.3 L884.4,636.4 L885.2,636.4 L886.0,636.4 L886.8,636.4 L887.5,636.4 L888.3,636.4 L889.1,636.4 L889.8,636.4 L890.6,636.4 L891.4,636.4 L892.1,636.4 L892.9,636.4 L893.7,636.4 L894.4,636.4 L895.2,636.4 L896.0,636.4 L896.7,636.4 L897.5,636.4 L898.3,636.4 L899.0,636.4 L899.8,636.4 L900.6,636.4 L901.3,636.4 L902.1,636.4 L902.9,636.5 L903.6,636.5 L904.4,636.5 L905.2,636.5 L905.9,636.5 L906.7,636.5 L907.5,636.5 L908.3,636.5 L909.0,636.5 L909.8,636.5 L910.6,636.5 L911.3,636.5 L912.1,636.5 L912.9,636.5 L913.6,636.5 L914.4,636.5 L915.2,636.5 L915.9,636.5 L916.7,636.5 L917.5,636.5 L918.2,636.5 L919.0,636.5 L919.8,636.5 L920.5,636.5 L921.3,636.5 L922.1,636.5 L922.8,636.5 L923.6,636.5 L924.4,636.5 L925.2,636.6 L925.9,636.6 L926.7,636.6 L927.5,636.6 L928.2,636.6 L929.0,636.6 L929.8,636.6 L930.5,636.6 L931.3,636.6 L932.1,636.6 L932.8,636.6 L933.6,636.6 L934.4,636.6 L935.1,636.6 L935.9,636.6 L936.7,636.6 L937.4,636.6 L938.2,636.6 L939.0,636.6 L939.7,636.6 L940.5,636.6 L941.3,636.6 L942.1,636.6 L942.8,636.6 L943.6,636.6 L944.4,636.6 L945.1,636.6 L945.9,636.6 L946.7,636.6 L947.4,636.6 L948.2,636.6 L949.0,636.6 L949.7,636.6 L950.5,636.6 L951.3,636.6 L952.0,636.6 L952.8,636.6 L953.6,636.6 L954.3,636.6 L955.1,636.6 L955.9,636.6 L956.6,636.6 L957.4,636.6 L958.2,636.6 L959.0,636.6 L959.7,636.6 L960.5,636.6 L961.3,636.6 L962.0,636.6 L962.8,636.6 L963.6,636.6 L964.3,636.6 L965.1,636.6 L965.9,636.6 L966.6,636.6 L967.4,636.6 L968.2,636.6 L968.9,636.6 L969.7,636.6 L970.5,636.6 L971.2,636.6 L972.0,636.6 L972.8,636.6 L973.6,636.6 L974.3,636.6 L975.1,636.6 L975.9,636.6 L976.6,636.6 L977.4,636.6 L978.2,636.6 L978.9,636.6 L979.7,636.6 L980.5,636.6 L981.2,636.6 L982.0,636.5 L982.8,636.5 L983.5,636.5 L984.3,636.5 L985.1,636.5 L985.9,636.5 L986.6,636.5 L987.4,636.5 L988.2,636.5 L988.9,636.5 L989.7,636.5 L990.5,636.5 L991.2,636.5 L992.0,636.5" stroke="#f00" stroke-width="9.6" fill="none" stroke-linejoin="round" stroke-linecap="round"/>
<path d="M84.0,494.5 L84.4,493.6 L84.8,492.7 L85.1,491.9 L85.5,491.0 L85.9,490.1 L86.2,489.2 L86.6,488.3 L87.0,487.4 L87.3,486.5 L87.7,485.6 L88.0,484.8 L88.4,483.9 L88.7,483.0 L89.1,482.1 L89.4,481.2 L89.8,480.3 L90.1,479.4 L90.4,478.5 L90.8,477.6 L91.1,476.7 L91.4,475.8 L91.8,474.9 L92.1,474.0 L92.4,473.1 L92.7,472.2 L93.0,471.3 L93.4,470.4 L93.7,469.5 L94.0,468.6 L94.3,467.7 L94.6,466.8 L94.9,465.9 L95.2,465.0 L95.5,464.1 L95.8,463.2 L96.1,462.3 L96.4,461.4 L96.7,460.5 L97.0,459.5 L97.3,458.6 L97.6,457.7 L97.8,456.8 L98.1,455.9 L98.4,455.0 L98.7,454.1 L99.0,453.2 L99.2,452.3 L99.5,451.3 L99.8,450.4 L100.1,449.5 L100.3,448.6 L100.6,447.7 L100.9,446.8 L101.1,445.8 L101.4,444.9 L101.7,444.0 L101.9,443.1 L102.2,442.2 L102.4,441.3 L102.7,440.3 L102.9,439.4 L103.2,438.5 L103.4,437.6 L103.7,436.6 L103.9,435.7 L104.2,434.8 L104.4,433.9 L104.7,433.0 L104.9,432.0 L105.1,431.1 L105.4,430.2 L105.6,429.3 L105.9,428.3 L106.1,427.4 L106.3,426.5 L106.6,425.6 L106.8,424.6 L107.0,423.7 L107.2,422.8 L107.5,421.8 L107.7,420.9 L107.9,420.0 L108.1,419.1 L108.4,418.1 L108.6,417.2 L108.8,416.3 L109.0,415.3 L109.2,414.4 L109.5,413.5 L109.7,412.5 L109.9,411.6 L110.1,410.7 L110.3,409.7 L110.5,408.8 L110.7,407.9 L110.9,407.0 L111.1,406.0 L111.4,405.1 L111.6,404.2 L111.8,403.2 L112.0,402.3 L112.2,401.3 L112.4,400.4 L112.6,399.5 L112.8,398.5 L113.0,397.6 L113.2,396.7 L113.4,395.7 L113.6,394.8 L113.8,393.9 L114.0,392.9 L114.2,392.0 L114.4,391.1 L114.6,390.1 L114.8,389.2 L115.0,388.3 L115.1,387.3 L115.3,386.4 L115.5,385.4 L115.7,384.5 L115.9,383.6 L116.1,382.6 L116.3,381.7 L116.5,380.8 L116.7,379.8 L116.9,378.9 L117.1,377.9 L117.2,377.0 L117.4,376.1 L117.6,375.1 L117.8,374.2 L118.0,373.2 L118.2,372.3 L118.4,371.4 L118.6,370.4 L118.7,369.5 L118.9,368.6 L119.1,367.6 L119.3,366.7 L119.5,365.7 L119.7,364.8 L119.9,363.9 L120.0,362.9 L120.2,362.0 L120.4,361.1 L120.6,360.1 L120.8,359.2 L121.0,358.2 L121.2,357.3 L121.3,356.4 L121.5,355.4 L121.7,354.5 L121.9,353.6 L122.1,352.6 L122.3,351.7 L122.5,350.7 L122.6,349.8 L122.8,348.9 L123.0,347.9 L123.2,347.0 L123.4,346.1 L123.6,345.1 L123.8,344.2 L123.9,343.2 L124.1,342.3 L124.3,341.4 L124.5,340.4 L124.7,339.5 L124.9,338.6 L125.1,337.6 L125.3,336.7 L125.5,335.8 L125.7,334.8 L125.8,333.9 L126.0,333.0 L126.2,332.0 L126.4,331.1 L126.6,330.2 L126.8,329.2 L127.0,328.3 L127.2,327.4 L127.4,326.4 L127.6,325.5 L127.8,324.6 L128.0,323.6 L128.2,322.7 L128.4,321.8 L128.6,320.8 L128.8,319.9 L129.0,319.0 L129.2,318.0 L129.4,317.1 L129.6,316.2 L129.8,315.2 L130.0,314.3 L130.2,313.4 L130.4,312.4 L130.6,311.5 L130.8,310.6 L131.0,309.6 L131.2,308.7 L131.4,307.8 L131.6,306.8 L131.8,305.9 L132.0,305.0 L132.2,304.0 L132.4,303.1 L132.6,302.2 L132.8,301.2 L133.0,300.3 L133.2,299.4 L133.4,298.4 L133.6,297.5 L133.8,296.6 L134.0,295.6 L134.3,294.7 L134.5,293.8 L134.7,292.8 L134.9,291.9 L135.1,291.0 L135.3,290.0 L135.5,289.1 L135.7,288.2 L135.9,287.2 L136.1,286.3 L136.3,285.4 L136.6,284.4 L136.8,283.5 L137.0,282.5 L137.2,281.6 L137.4,280.7 L137.6,279.7 L137.8,278.8 L138.0,277.9 L138.2,276.9 L138.5,276.0 L138.7,275.0 L138.9,274.1 L139.1,273.2 L139.3,272.2 L139.5,271.3 L139.7,270.3 L139.9,269.4 L140.2,268.5 L140.4,267.5 L140.6,266.6 L140.8,265.7 L141.0,264.7 L141.3,263.8 L141.5,262.8 L141.7,261.9 L141.9,261.0 L142.1,260.0 L142.4,259.1 L142.6,258.2 L142.8,257.2 L143.0,256.3 L143.2,255.4 L143.5,254.5 L143.7,253.5 L143.9,252.6 L144.2,251.7 L144.4,250.7 L144.6,249.8 L144.8,248.9 L145.1,248.0 L145.3,247.0 L145.5,246.1 L145.8,245.2 L146.0,244.3 L146.2,243.4 L146.5,242.5 L146.7,241.5 L147.0,240.6 L147.2,239.7 L147.5,238.8 L147.7,237.9 L147.9,237.0 L148.2,236.1 L148.4,235.2 L148.7,234.3 L148.9,233.4 L149.2,232.5 L149.4,231.6 L149.7,230.7 L150.0,229.8 L150.2,228.9 L150.5,228.0 L150.8,227.1 L151.0,226.2 L151.3,225.3 L151.6,224.4 L151.9,223.5 L152.2,222.6 L152.5,221.7 L152.8,220.8 L153.1,219.9 L153.4,219.0 L153.7,218.1 L154.0,217.2 L154.3,216.3 L154.7,215.4 L155.0,214.4 L155.3,213.5 L155.7,212.6 L156.1,211.7 L156.4,210.8 L156.8,209.9 L157.2,208.9 L157.6,208.0 L158.0,207.1 L158.4,206.1 L158.8,205.2 L159.2,204.3 L159.7,203.3 L160.1,202.4 L160.6,201.4 L161.0,200.4 L161.5,199.5 L162.0,198.6 L162.5,197.6 L163.0,196.7 L163.6,195.8 L164.1,195.0 L164.7,194.2 L165.3,193.6 L165.8,193.0 L166.4,192.7 L166.9,192.6 L167.5,192.7 L168.0,193.0 L168.6,193.5 L169.1,194.1 L169.7,194.9 L170.3,195.7 L170.9,196.5 L171.6,197.4 L172.3,198.2 L173.0,199.1 L173.8,200.0 L174.5,200.8 L175.2,201.7 L175.8,202.5 L176.4,203.4 L177.0,204.3 L177.5,205.2 L178.0,206.0 L178.5,206.9 L178.9,207.8 L179.3,208.7 L179.7,209.6 L180.1,210.4 L180.4,211.3 L180.7,212.2 L181.1,213.1 L181.4,214.0 L181.7,214.9 L182.0,215.8 L182.4,216.7 L182.7,217.6 L183.0,218.5 L183.3,219.3 L183.6,220.2 L183.9,221.1 L184.2,222.0 L184.5,222.9 L184.8,223.8 L185.1,224.7 L185.5,225.6 L185.8,226.5 L186.1,227.4 L186.4,228.3 L186.7,229.2 L187.0,230.1 L187.2,231.0 L187.5,231.9 L187.8,232.8 L188.1,233.7 L188.4,234.6 L188.7,235.5 L189.0,236.4 L189.3,237.3 L189.6,238.2 L189.9,239.1 L190.1,240.0 L190.4,240.9 L190.7,241.9 L191.0,242.8 L191.3,243.7 L191.6,244.6 L191.8,245.5 L192.1,246.4 L192.4,247.3 L192.7,248.2 L192.9,249.1 L193.2,250.0 L193.5,250.9 L193.8,251.8 L194.0,252.8 L194.3,253.7 L194.6,254.6 L194.8,255.5 L195.1,256.4 L195.4,257.3 L195.6,258.2 L195.9,259.1 L196.2,260.1 L196.4,261.0 L196.7,261.9 L196.9,262.8 L197.2,263.7 L197.5,264.6 L197.7,265.5 L198.0,266.5 L198.2,267.4 L198.5,268.3 L198.7,269.2 L199.0,270.1 L199.3,271.0 L199.5,272.0 L199.8,272.9 L200.0,273.8 L200.3,274.7 L200.5,275.6 L200.8,276.6 L201.0,277.5 L201.3,278.4 L201.5,279.3 L201.8,280.2 L202.0,281.2 L202.2,282.1 L202.5,283.0 L202.7,283.9 L203.0,284.8 L203.2,285.8 L203.5,286.7 L203.7,287.6 L204.0,288.5 L204.2,289.4 L204.4,290.4 L204.7,291.3 L204.9,292.2 L205.2,293.1 L205.4,294.1 L205.6,295.0 L205.9,295.9 L206.1,296.8 L206.4,297.8 L206.6,298.7 L206.8,299.6 L207.1,300.5 L207.3,301.5 L207.5,302.4 L207.8,303.3 L208.0,304.2 L208.3,305.2 L208.5,306.1 L208.7,307.0 L209.0,307.9 L209.2,308.9 L209.4,309.8 L209.7,310.7 L209.9,311.6 L210.1,312.6 L210.4,313.5 L210.6,314.4 L210.8,315.4 L211.1,316.3 L211.3,317.2 L211.5,318.1 L211.8,319.1 L212.0,320.0 L212.2,320.9 L212.5,321.8 L212.7,322.8 L212.9,323.7 L213.2,324.6 L213.4,325.6 L213.6,326.5 L213.9,327.4 L214.1,328.3 L214.3,329.3 L214.5,330.2 L214.8,331.1 L215.0,332.1 L215.2,333.0 L215.5,333.9 L215.7,334.8 L215.9,335.8 L216.2,336.7 L216.4,337.6 L216.6,338.6 L216.9,339.5 L217.1,340.4 L217.3,341.3 L217.6,342.3 L217.8,343.2 L218.0,344.1 L218.3,345.1 L218.5,346.0 L218.7,346.9 L219.0,347.8 L219.2,348.8 L219.4,349.7 L219.7,350.6 L219.9,351.5 L220.2,352.5 L220.4,353.4 L220.6,354.3 L220.9,355.3 L221.1,356.2 L221.3,357.1 L221.6,358.0 L221.8,359.0 L222.1,359.9 L222.3,360.8 L222.5,361.7 L222.8,362.7 L223.0,363.6 L223.3,364.5 L223.5,365.5 L223.7,366.4 L224.0,367.3 L224.2,368.2 L224.5,369.2 L224.7,370.1 L225.0,371.0 L225.2,371.9 L225.4,372.9 L225.7,373.8 L225.9,374.7 L226.2,375.6 L226.4,376.6 L226.7,377.5 L226.9,378.4 L227.2,379.3 L227.4,380.3 L227.7,381.2 L227.9,382.1 L228.2,383.0 L228.4,383.9 L228.7,384.9 L228.9,385.8 L229.2,386.7 L229.5,387.6 L229.7,388.6 L230.0,389.5 L230.2,390.4 L230.5,391.3 L230.7,392.2 L231.0,393.2 L231.3,394.1 L231.5,395.0 L231.8,395.9 L232.0,396.9 L232.3,397.8 L232.6,398.7 L232.8,399.6 L233.1,400.5 L233.4,401.4 L233.6,402.4 L233.9,403.3 L234.2,404.2 L234.4,405.1 L234.7,406.0 L235.0,407.0 L235.2,407.9 L235.5,408.8 L235.8,409.7 L236.0,410.6 L236.3,411.5 L236.6,412.5 L236.8,413.4 L237.1,414.3 L237.4,415.2 L237.7,416.1 L237.9,417.0 L238.2,418.0 L238.5,418.9 L238.8,419.8 L239.0,420.7 L239.3,421.6 L239.6,422.5 L239.9,423.5 L240.2,424.4 L240.4,425.3 L240.7,426.2 L241.0,427.1 L241.3,428.0 L241.6,428.9 L241.9,429.8 L242.1,430.8 L242.4,431.7 L242.7,432.6 L243.0,433.5 L243.3,434.4 L243.6,435.3 L243.9,436.2 L244.2,437.1 L244.4,438.0 L244.7,439.0 L245.0,439.9 L245.3,440.8 L245.6,441.7 L245.9,442.6 L246.2,443.5 L246.5,444.4 L246.8,445.3 L247.1,446.2 L247.4,447.1 L247.7,448.0 L248.0,448.9 L248.3,449.9 L248.6,450.8 L248.9,451.7 L249.2,452.6 L249.5,453.5 L249.8,454.4 L250.1,455.3 L250.4,456.2 L250.7,457.1 L251.0,458.0 L251.3,458.9 L251.6,459.8 L251.9,460.7 L252.2,461.6 L252.5,462.5 L252.9,463.4 L253.2,464.3 L253.5,465.2 L253.8,466.1 L254.1,467.0 L254.4,467.9 L254.7,468.8 L255.0,469.7 L255.4,470.6 L255.7,471.5 L256.0,472.4 L256.3,473.3 L256.6,474.2 L256.9,475.1 L257.3,476.0 L257.6,476.9 L257.9,477.8 L258.2,478.7 L258.6,479.6 L258.9,480.5 L259.2,481.4 L259.5,482.3 L259.9,483.2 L260.2,484.1 L260.5,485.0 L260.8,485.9 L261.2,486.8 L261.5,487.7 L261.8,488.6 L262.2,489.5 L262.5,490.4 L262.8,491.3 L263.2,492.2 L263.5,493.1 L263.8,494.0 L264.2,494.8 L264.5,495.7 L264.8,496.6 L265.2,497.5 L265.5,498.4 L265.9,499.3 L266.2,500.2 L266.5,501.1 L266.9,502.0 L267.2,502.9 L267.6,503.7 L267.9,504.6 L268.3,505.5 L268.6,506.4 L269.0,507.3 L269.3,508.2 L269.6,509.1 L270.0,510.0 L270.3,510.8 L270.7,511.7 L271.0,512.6 L271.4,513.5 L271.8,514.4 L272.1,515.3 L272.5,516.2 L272.8,517.0 L273.2,517.9 L273.5,518.8 L273.9,519.7 L274.3,520.6 L274.6,521.5 L275.0,522.3 L275.3,523.2 L275.7,524.1 L276.1,525.0 L276.4,525.9 L276.8,526.7 L277.2,527.6 L277.5,528.5 L277.9,529.4 L278.3,530.2 L278.7,531.1 L279.1,532.0 L279.4,532.9 L279.8,533.7 L280.2,534.6 L280.6,535.5 L281.0,536.3 L281.4,537.2 L281.8,538.1 L282.2,538.9 L282.5,539.8 L282.9,540.7 L283.3,541.5 L283.8,542.4 L284.2,543.2 L284.6,544.1 L285.0,544.9 L285.4,545.8 L285.8,546.7 L286.2,547.5 L286.7,548.4 L287.1,549.2 L287.5,550.1 L287.9,550.9 L288.4,551.7 L288.8,552.6 L289.3,553.4 L289.7,554.3 L290.1,555.1 L290.6,555.9 L291.1,556.8 L291.5,557.6 L292.0,558.4 L292.4,559.3 L292.9,560.1 L293.4,560.9 L293.9,561.8 L294.3,562.6 L294.8,563.4 L295.3,564.2 L295.8,565.0 L296.3,565.8 L296.8,566.7 L297.3,567.5 L297.8,568.3 L298.3,569.1 L298.8,569.9 L299.3,570.7 L299.9,571.5 L300.4,572.3 L300.9,573.1 L301.5,573.9 L302.0,574.6 L302.5,575.4 L303.1,576.2 L303.7,577.0 L304.2,577.8 L304.8,578.6 L305.4,579.3 L305.9,580.1 L306.5,580.9 L307.1,581.6 L307.7,582.4 L308.3,583.2 L308.9,583.9 L309.5,584.7 L310.1,585.4 L310.7,586.2 L311.3,586.9 L311.9,587.7 L312.6,588.4 L313.2,589.1 L313.8,589.9 L314.5,590.6 L315.1,591.3 L315.8,592.0 L316.5,592.7 L317.1,593.4 L317.8,594.2 L318.4,594.9 L319.1,595.5 L319.8,596.2 L320.5,596.9 L321.2,597.6 L321.9,598.3 L322.6,599.0 L323.3,599.6 L324.0,600.3 L324.7,600.9 L325.4,601.6 L326.1,602.2 L326.9,602.9 L327.6,603.5 L328.3,604.1 L329.1,604.7 L329.8,605.4 L330.5,606.0 L331.3,606.6 L332.0,607.2 L332.8,607.7 L333.6,608.3 L334.3,608.9 L335.1,609.5 L335.9,610.0 L336.7,610.6 L337.4,611.1 L338.2,611.7 L339.0,612.2 L339.8,612.7 L340.6,613.2 L341.4,613.7 L342.2,614.3 L343.0,614.7 L343.9,615.2 L344.7,615.7 L345.5,616.2 L346.3,616.6 L347.2,617.1 L348.0,617.6 L348.8,618.0 L349.7,618.4 L350.5,618.9 L351.4,619.3 L352.2,619.7 L353.1,620.1 L353.9,620.5 L354.8,620.9 L355.6,621.3 L356.5,621.7 L357.4,622.1 L358.2,622.4 L359.1,622.8 L360.0,623.2 L360.9,623.5 L361.8,623.9 L362.6,624.2 L363.5,624.5 L364.4,624.9 L365.3,625.2 L366.2,625.5 L367.1,625.8 L368.0,626.1 L368.9,626.4 L369.8,626.7 L370.7,627.0 L371.6,627.3 L372.5,627.6 L373.4,627.8 L374.3,628.1 L375.2,628.4 L376.1,628.6 L377.0,628.9 L377.9,629.1 L378.9,629.4 L379.8,629.6 L380.7,629.8 L381.6,630.1 L382.5,630.3 L383.4,630.5 L384.4,630.7 L385.3,630.9 L386.2,631.1 L387.1,631.3 L388.1,631.5 L389.0,631.7 L389.9,631.9 L390.8,632.1 L391.8,632.3 L392.7,632.5 L393.6,632.6 L394.5,632.8 L395.5,633.0 L396.4,633.1 L397.3,633.3 L398.3,633.4 L399.2,633.6 L400.2,633.7 L401.1,633.9 L402.0,634.0 L403.0,634.1 L403.9,634.3 L404.8,634.4 L405.8,634.5 L406.7,634.6 L407.7,634.7 L408.6,634.9 L409.6,635.0 L410.5,635.1 L411.4,635.2 L412.4,635.3 L413.3,635.4 L414.3,635.5 L415.2,635.6 L416.2,635.6 L417.1,635.7 L418.1,635.8 L419.0,635.9 L420.0,636.0 L420.9,636.0 L421.9,636.1 L422.8,636.2 L423.8,636.3 L424.7,636.3 L425.7,636.4 L426.6,636.4 L427.6,636.5 L428.5,636.5 L429.5,636.6 L430.5,636.6 L431.4,636.7 L432.4,636.7 L433.3,636.8 L434.3,636.8 L435.2,636.9 L436.2,636.9 L437.2,636.9 L438.1,637.0 L439.1,637.0 L440.0,637.0 L441.0,637.1 L442.0,637.1 L442.9,637.1 L443.9,637.1 L444.8,637.2 L445.8,637.2 L446.8,637.2 L447.7,637.2 L448.7,637.2 L449.6,637.2 L450.6,637.3 L451.6,637.3 L452.5,637.3 L453.5,637.3 L454.5,637.3 L455.4,637.3 L456.4,637.3 L457.3,637.3 L458.3,637.3 L459.3,637.3 L460.2,637.3 L461.2,637.3 L462.2,637.3 L463.1,637.4 L464.1,637.4 L465.0,637.4 L466.0,637.4 L467.0,637.4 L467.9,637.4 L468.9,637.4 L469.9,637.4 L470.8,637.4 L471.8,637.4 L472.7,637.3 L473.7,637.3 L474.7,637.3 L475.6,637.3 L476.6,637.3 L477.6,637.3 L478.5,637.3 L479.5,637.3 L480.4,637.3 L481.4,637.3 L482.4,637.3 L483.3,637.3 L484.3,637.3 L485.3,637.3 L486.2,637.3 L487.2,637.3 L488.1,637.3 L489.1,637.3 L490.1,637.3 L491.0,637.3 L492.0,637.3 L492.9,637.3 L493.9,637.3 L494.9,637.3 L495.8,637.3 L496.8,637.3 L497.7,637.3 L498.7,637.4 L499.7,637.4 L500.6,637.4 L501.6,637.4 L502.5,637.4 L503.5,637.4 L504.4,637.4 L505.4,637.4 L506.4,637.4 L507.3,637.4 L508.3,637.4 L509.2,637.4 L510.2,637.4 L511.1,637.4 L512.1,637.4 L513.1,637.4 L514.0,637.4 L515.0,637.4 L515.9,637.4 L516.9,637.4 L517.8,637.4 L518.8,637.4 L519.8,637.4 L520.7,637.4 L521.7,637.4 L522.6,637.4 L523.6,637.4 L524.5,637.5 L525.5,637.5 L526.5,637.5 L527.4,637.5 L528.4,637.5 L529.3,637.5 L530.3,637.5 L531.2,637.5 L532.2,637.5 L533.1,637.5 L534.1,637.5 L535.1,637.5 L536.0,637.5 L537.0,637.5 L537.9,637.5 L538.9,637.5 L539.8,637.5 L540.8,637.5 L541.7,637.6 L542.7,637.6 L543.7,637.6 L544.6,637.6 L545.6,637.6 L546.5,637.6 L547.5,637.6 L548.4,637.6 L549.4,637.6 L550.3,637.6 L551.3,637.6 L552.2,637.6 L553.2,637.6 L554.2,637.6 L555.1,637.6 L556.1,637.7 L557.0,637.7 L558.0,637.7 L558.9,637.7 L559.9,637.7 L560.8,637.7 L561.8,637.7 L562.7,637.7 L563.7,637.7 L564.7,637.7 L565.6,637.7 L566.6,637.7 L567.5,637.7 L568.5,637.7 L569.4,637.7 L570.4,637.7 L571.3,637.8 L572.3,637.8 L573.2,637.8 L574.2,637.8 L575.2,637.8 L576.1,637.8 L577.1,637.8 L578.0,637.8 L579.0,637.8 L579.9,637.8 L580.9,637.8 L581.8,637.8 L582.8,637.8 L583.7,637.8 L584.7,637.8 L585.6,637.8 L586.6,637.8 L587.6,637.9 L588.5,637.9 L589.5,637.9 L590.4,637.9 L591.4,637.9 L592.3,637.9 L593.3,637.9 L594.2,637.9 L595.2,637.9 L596.2,637.9 L597.1,637.9 L598.1,637.9 L599.0,637.9 L600.0,637.9 L600.9,637.9 L601.9,637.9 L602.8,637.9 L603.8,637.9 L604.7,637.9 L605.7,637.9 L606.7,638.0 L607.6,638.0 L608.6,638.0 L609.5,638.0 L610.5,638.0 L611.4,638.0 L612.4,638.0 L613.3,638.0 L614.3,638.0 L615.3,638.0 L616.2,638.0 L617.2,638.0 L618.1,638.0 L619.1,638.0 L620.0,638.0 L621.0,638.0 L621.9,638.0 L622.9,638.0 L623.8,638.0 L624.8,638.0 L625.8,638.0 L626.7,638.0 L627.7,638.0 L628.6,638.0 L629.6,638.0 L630.5,638.1 L631.5,638.1 L632.4,638.1 L633.4,638.1 L634.4,638.1 L635.3,638.1 L636.3,638.1 L637.2,638.1 L638.2,638.1 L639.1,638.1 L640.1,638.1 L641.0,638.1 L642.0,638.1 L643.0,638.1 L643.9,638.1 L644.9,638.1 L645.8,638.1 L646.8,638.1 L647.7,638.1 L648.7,638.1 L649.6,638.1 L650.6,638.1 L651.6,638.1 L652.5,638.1 L653.5,638.1 L654.4,638.1 L655.4,638.1 L656.3,638.1 L657.3,638.1 L658.2,638.1 L659.2,638.1 L660.2,638.1 L661.1,638.1 L662.1,638.2 L663.0,638.2 L664.0,638.2 L664.9,638.2 L665.9,638.2 L666.8,638.2 L667.8,638.2 L668.8,638.2 L669.7,638.2 L670.7,638.2 L671.6,638.2 L672.6,638.2 L673.5,638.2 L674.5,638.2 L675.5,638.2 L676.4,638.2 L677.4,638.2 L678.3,638.2 L679.3,638.2 L680.2,638.2 L681.2,638.2 L682.1,638.2 L683.1,638.2 L684.1,638.2 L685.0,638.2 L686.0,638.2 L686.9,638.2 L687.9,638.2 L688.8,638.2 L689.8,638.2 L690.8,638.2 L691.7,638.2 L692.7,638.2 L693.6,638.2 L694.6,638.2 L695.5,638.2 L696.5,638.2 L697.4,638.2 L698.4,638.2 L699.4,638.2 L700.3,638.2 L701.3,638.2 L702.2,638.2 L703.2,638.2 L704.1,638.2 L705.1,638.2 L706.1,638.2 L707.0,638.2 L708.0,638.2 L708.9,638.2 L709.9,638.2 L710.8,638.2 L711.8,638.2 L712.7,638.2 L713.7,638.2 L714.7,638.2 L715.6,638.2 L716.6,638.2 L717.5,638.2 L718.5,638.2 L719.4,638.2 L720.4,638.2 L721.4,638.2 L722.3,638.2 L723.3,638.3 L724.2,638.3 L725.2,638.3 L726.1,638.3 L727.1,638.3 L728.0,638.3 L729.0,638.3 L730.0,638.3 L730.9,638.3 L731.9,638.3 L732.8,638.3 L733.8,638.3 L734.7,638.3 L735.7,638.3 L736.7,638.3 L737.6,638.3 L738.6,638.3 L739.5,638.3 L740.5,638.3 L741.4,638.3 L742.4,638.3 L743.4,638.3 L744.3,638.3 L745.3,638.3 L746.2,638.3 L747.2,638.3 L748.1,638.3 L749.1,638.3 L750.0,638.3 L751.0,638.3 L752.0,638.3 L752.9,638.3 L753.9,638.3 L754.8,638.3 L755.8,638.3 L756.7,638.3 L757.7,638.3 L758.7,638.3 L759.6,638.3 L760.6,638.3 L761.5,638.3 L762.5,638.3 L763.4,638.3 L764.4,638.3 L765.4,638.3 L766.3,638.3 L767.3,638.3 L768.2,638.3 L769.2,638.3 L770.1,638.3 L771.1,638.3 L772.1,638.3 L773.0,638.3 L774.0,638.3 L774.9,638.3 L775.9,638.3 L776.8,638.3 L777.8,638.3 L778.7,638.3 L779.7,638.3 L780.7,638.3 L781.6,638.3 L782.6,638.3 L783.5,638.3 L784.5,638.3 L785.4,638.3 L786.4,638.3 L787.4,638.3 L788.3,638.3 L789.3,638.3 L790.2,638.3 L791.2,638.3 L792.1,638.3 L793.1,638.3 L794.1,638.3 L795.0,638.3 L796.0,638.3 L796.9,638.3 L797.9,638.3 L798.8,638.3 L799.8,638.3 L800.8,638.3 L801.7,638.3 L802.7,638.3 L803.6,638.3 L804.6,638.3 L805.5,638.3 L806.5,638.3 L807.5,638.3 L808.4,638.3 L809.4,638.3 L810.3,638.3 L811.3,638.3 L812.2,638.3 L813.2,638.3 L814.1,638.3 L815.1,638.3 L816.1,638.3 L817.0,638.3 L818.0,638.3 L818.9,638.3 L819.9,638.3 L820.8,638.3 L821.8,638.3 L822.8,638.3 L823.7,638.3 L824.7,638.3 L825.6,638.3 L826.6,638.3 L827.5,638.3 L828.5,638.3 L829.5,638.3 L830.4,638.3 L831.4,638.3 L832.3,638.3 L833.3,638.3 L834.2,638.3 L835.2,638.3 L836.2,638.3 L837.1,638.3 L838.1,638.3 L839.0,638.3 L840.0,638.3 L840.9,638.3 L841.9,638.3 L842.8,638.3 L843.8,638.3 L844.8,638.3 L845.7,638.3 L846.7,638.3 L847.6,638.3 L848.6,638.3 L849.5,638.3 L850.5,638.3 L851.5,638.3 L852.4,638.3 L853.4,638.3 L854.3,638.3 L855.3,638.3 L856.2,638.3 L857.2,638.3 L858.2,638.3 L859.1,638.3 L860.1,638.3 L861.0,638.3 L862.0,638.3 L862.9,638.3 L863.9,638.3 L864.9,638.3 L865.8,638.3 L866.8,638.3 L867.7,638.3 L868.7,638.3 L869.6,638.3 L870.6,638.3 L871.5,638.3 L872.5,638.3 L873.5,638.3 L874.4,638.3 L875.4,638.3 L876.3,638.3 L877.3,638.3 L878.2,638.3 L879.2,638.3 L880.2,638.3 L881.1,638.3 L882.1,638.3 L883.0,638.3 L884.0,638.3 L884.9,638.3 L885.9,638.3 L886.9,638.3 L887.8,638.3 L888.8,638.3 L889.7,638.3 L890.7,638.3 L891.6,638.3 L892.6,638.3 L893.5,638.3 L894.5,638.3 L895.5,638.3 L896.4,638.3 L897.4,638.3 L898.3,638.3 L899.3,638.3 L900.2,638.3 L901.2,638.3 L902.2,638.3 L903.1,638.3 L904.1,638.3 L905.0,638.3 L906.0,638.3 L906.9,638.3 L907.9,638.3 L908.8,638.3 L909.8,638.3 L910.8,638.3 L911.7,638.3 L912.7,638.3 L913.6,638.3 L914.6,638.3 L915.5,638.3 L916.5,638.3 L917.5,638.3 L918.4,638.3 L919.4,638.3 L920.3,638.3 L921.3,638.3 L922.2,638.3 L923.2,638.3 L924.1,638.3 L925.1,638.3 L926.1,638.3 L927.0,638.3 L928.0,638.3 L928.9,638.3 L929.9,638.3 L930.8,638.3 L931.8,638.3 L932.8,638.3 L933.7,638.3 L934.7,638.4 L935.6,638.4 L936.6,638.4 L937.5,638.4 L938.5,638.4 L939.4,638.4 L940.4,638.4 L941.4,638.4 L942.3,638.4 L943.3,638.4 L944.2,638.4 L945.2,638.4 L946.1,638.4 L947.1,638.4 L948.0,638.4 L949.0,638.4 L950.0,638.4 L950.9,638.4 L951.9,638.4 L952.8,638.4 L953.8,638.4 L954.7,638.4 L955.7,638.4 L956.6,638.4 L957.6,638.4 L958.6,638.4 L959.5,638.4 L960.5,638.4 L961.4,638.4 L962.4,638.4 L963.3,638.4 L964.3,638.4 L965.2,638.4 L966.2,638.4 L967.2,638.4 L968.1,638.4 L969.1,638.4 L970.0,638.4 L971.0,638.4 L971.9,638.4 L972.9,638.4 L973.8,638.4 L974.8,638.4 L975.8,638.5 L976.7,638.5 L977.7,638.5 L978.6,638.5 L979.6,638.5 L980.5,638.5 L981.5,638.5 L982.4,638.5 L983.4,638.5 L984.4,638.5 L985.3,638.5 L986.3,638.5 L987.2,638.5 L988.2,638.5 L989.1,638.5 L990.1,638.5 L991.0,638.5 L992.0,638.5" stroke="#0f0" stroke-width="9.3" fill="none" stroke-linejoin="round" stroke-linecap="round"/>
<path d="M84.0,481.5 L84.4,480.6 L84.8,479.6 L85.2,478.7 L85.6,477.7 L86.0,476.8 L86.5,475.9 L86.9,474.9 L87.3,474.0 L87.7,473.0 L88.1,472.1 L88.4,471.2 L88.8,470.2 L89.2,469.3 L89.6,468.3 L90.0,467.4 L90.4,466.4 L90.7,465.5 L91.1,464.5 L91.5,463.6 L91.8,462.6 L92.2,461.7 L92.5,460.7 L92.9,459.8 L93.2,458.8 L93.6,457.9 L93.9,456.9 L94.3,455.9 L94.6,455.0 L94.9,454.0 L95.3,453.1 L95.6,452.1 L95.9,451.1 L96.3,450.2 L96.6,449.2 L96.9,448.3 L97.2,447.3 L97.5,446.3 L97.8,445.4 L98.1,444.4 L98.5,443.4 L98.8,442.5 L99.1,441.5 L99.4,440.5 L99.6,439.6 L99.9,438.6 L100.2,437.6 L100.5,436.7 L100.8,435.7 L101.1,434.7 L101.4,433.7 L101.6,432.8 L101.9,431.8 L102.2,430.8 L102.5,429.9 L102.7,428.9 L103.0,427.9 L103.3,426.9 L103.5,426.0 L103.8,425.0 L104.0,424.0 L104.3,423.0 L104.5,422.0 L104.8,421.1 L105.0,420.1 L105.3,419.1 L105.5,418.1 L105.8,417.1 L106.0,416.2 L106.3,415.2 L106.5,414.2 L106.7,413.2 L107.0,412.2 L107.2,411.2 L107.4,410.3 L107.7,409.3 L107.9,408.3 L108.1,407.3 L108.3,406.3 L108.6,405.3 L108.8,404.3 L109.0,403.4 L109.2,402.4 L109.4,401.4 L109.6,400.4 L109.8,399.4 L110.1,398.4 L110.3,397.4 L110.5,396.4 L110.7,395.4 L110.9,394.4 L111.1,393.5 L111.3,392.5 L111.5,391.5 L111.7,390.5 L111.9,389.5 L112.1,388.5 L112.3,387.5 L112.5,386.5 L112.7,385.5 L112.8,384.5 L113.0,383.5 L113.2,382.5 L113.4,381.5 L113.6,380.5 L113.8,379.5 L114.0,378.5 L114.1,377.5 L114.3,376.5 L114.5,375.5 L114.7,374.5 L114.9,373.5 L115.0,372.5 L115.2,371.6 L115.4,370.6 L115.6,369.6 L115.8,368.6 L115.9,367.6 L116.1,366.6 L116.3,365.6 L116.4,364.6 L116.6,363.6 L116.8,362.6 L117.0,361.6 L117.1,360.6 L117.3,359.6 L117.5,358.6 L117.6,357.6 L117.8,356.5 L118.0,355.5 L118.1,354.5 L118.3,353.5 L118.5,352.5 L118.6,351.5 L118.8,350.5 L118.9,349.5 L119.1,348.5 L119.3,347.5 L119.4,346.5 L119.6,345.5 L119.8,344.5 L119.9,343.5 L120.1,342.5 L120.2,341.5 L120.4,340.5 L120.6,339.5 L120.7,338.5 L120.9,337.5 L121.0,336.5 L121.2,335.5 L121.4,334.5 L121.5,333.5 L121.7,332.5 L121.9,331.5 L122.0,330.5 L122.2,329.5 L122.3,328.5 L122.5,327.5 L122.7,326.5 L122.8,325.5 L123.0,324.5 L123.1,323.5 L123.3,322.5 L123.5,321.4 L123.6,320.4 L123.8,319.4 L124.0,318.4 L124.1,317.4 L124.3,316.4 L124.5,315.4 L124.6,314.4 L124.8,313.4 L124.9,312.4 L125.1,311.4 L125.3,310.4 L125.5,309.4 L125.6,308.4 L125.8,307.4 L126.0,306.4 L126.1,305.4 L126.3,304.4 L126.5,303.4 L126.6,302.4 L126.8,301.4 L127.0,300.4 L127.2,299.4 L127.3,298.4 L127.5,297.4 L127.7,296.4 L127.9,295.4 L128.1,294.4 L128.2,293.4 L128.4,292.4 L128.6,291.4 L128.8,290.4 L129.0,289.4 L129.2,288.4 L129.3,287.4 L129.5,286.4 L129.7,285.4 L129.9,284.4 L130.1,283.4 L130.3,282.4 L130.5,281.4 L130.7,280.4 L130.9,279.4 L131.1,278.4 L131.3,277.4 L131.5,276.4 L131.7,275.4 L131.9,274.4 L132.1,273.5 L132.3,272.5 L132.5,271.5 L132.7,270.5 L132.9,269.5 L133.1,268.5 L133.3,267.5 L133.5,266.5 L133.7,265.5 L133.9,264.5 L134.1,263.5 L134.3,262.5 L134.5,261.5 L134.7,260.5 L134.9,259.5 L135.1,258.5 L135.3,257.5 L135.5,256.6 L135.7,255.6 L136.0,254.6 L136.2,253.6 L136.4,252.6 L136.6,251.6 L136.8,250.6 L137.0,249.6 L137.2,248.6 L137.4,247.6 L137.6,246.6 L137.8,245.6 L138.0,244.7 L138.2,243.7 L138.4,242.7 L138.7,241.7 L138.9,240.7 L139.1,239.7 L139.3,238.7 L139.5,237.7 L139.7,236.7 L139.9,235.7 L140.1,234.7 L140.3,233.7 L140.5,232.8 L140.7,231.8 L140.9,230.8 L141.1,229.8 L141.3,228.8 L141.5,227.8 L141.7,226.8 L141.9,225.8 L142.1,224.8 L142.3,223.8 L142.5,222.8 L142.7,221.9 L142.9,220.9 L143.1,219.9 L143.2,218.9 L143.4,217.9 L143.6,216.9 L143.8,215.9 L144.0,214.9 L144.2,213.9 L144.4,212.9 L144.6,211.9 L144.7,211.0 L144.9,210.0 L145.1,209.0 L145.3,208.0 L145.5,207.0 L145.6,206.0 L145.8,205.0 L146.0,204.0 L146.1,203.0 L146.3,202.0 L146.5,201.0 L146.7,200.0 L146.8,199.0 L147.0,198.1 L147.2,197.1 L147.3,196.1 L147.5,195.1 L147.7,194.1 L147.9,193.1 L148.0,192.1 L148.2,191.1 L148.4,190.1 L148.6,189.1 L148.8,188.1 L149.0,187.1 L149.2,186.1 L149.4,185.2 L149.6,184.2 L149.8,183.2 L150.0,182.2 L150.2,181.2 L150.5,180.2 L150.7,179.2 L150.9,178.2 L151.2,177.2 L151.4,176.2 L151.7,175.3 L152.0,174.3 L152.2,173.3 L152.5,172.3 L152.8,171.3 L153.1,170.3 L153.4,169.3 L153.7,168.4 L154.0,167.4 L154.4,166.4 L154.7,165.4 L155.1,164.4 L155.4,163.4 L155.8,162.5 L156.2,161.5 L156.6,160.5 L157.0,159.5 L157.4,158.5 L157.9,157.6 L158.3,156.6 L158.7,155.6 L159.2,154.6 L159.7,153.7 L160.2,152.7 L160.7,151.7 L161.2,150.8 L161.7,149.8 L162.2,148.9 L162.7,147.9 L163.3,147.0 L163.9,146.0 L164.4,145.1 L165.0,144.2 L165.6,143.3 L166.2,142.4 L166.8,141.5 L167.5,140.7 L168.1,140.0 L168.8,139.3 L169.4,138.8 L170.1,138.4 L170.8,138.1 L171.4,137.9 L172.1,137.9 L172.8,138.0 L173.5,138.3 L174.2,138.7 L174.9,139.2 L175.6,139.8 L176.3,140.5 L177.0,141.3 L177.7,142.1 L178.3,143.0 L179.0,143.9 L179.7,144.8 L180.3,145.7 L181.0,146.7 L181.6,147.6 L182.2,148.6 L182.8,149.6 L183.4,150.5 L184.0,151.5 L184.5,152.5 L185.1,153.5 L185.6,154.5 L186.1,155.5 L186.7,156.5 L187.1,157.5 L187.6,158.5 L188.1,159.5 L188.5,160.5 L188.9,161.5 L189.4,162.5 L189.7,163.4 L190.1,164.4 L190.5,165.3 L190.8,166.3 L191.1,167.2 L191.4,168.1 L191.7,169.0 L192.0,169.9 L192.3,170.9 L192.5,171.8 L192.8,172.7 L193.0,173.7 L193.3,174.6 L193.5,175.6 L193.7,176.5 L193.9,177.5 L194.2,178.5 L194.4,179.4 L194.6,180.4 L194.8,181.4 L195.0,182.4 L195.2,183.4 L195.4,184.4 L195.6,185.4 L195.8,186.4 L196.0,187.4 L196.2,188.4 L196.4,189.4 L196.7,190.4 L196.9,191.4 L197.1,192.4 L197.3,193.3 L197.5,194.3 L197.8,195.3 L198.0,196.3 L198.2,197.3 L198.5,198.3 L198.7,199.3 L198.9,200.3 L199.2,201.3 L199.4,202.3 L199.7,203.3 L199.9,204.2 L200.2,205.2 L200.4,206.2 L200.7,207.2 L200.9,208.2 L201.2,209.2 L201.4,210.2 L201.7,211.1 L201.9,212.1 L202.2,213.1 L202.4,214.1 L202.7,215.1 L203.0,216.1 L203.2,217.1 L203.5,218.0 L203.7,219.0 L204.0,220.0 L204.3,221.0 L204.5,222.0 L204.8,222.9 L205.1,223.9 L205.3,224.9 L205.6,225.9 L205.8,226.9 L206.1,227.8 L206.4,228.8 L206.6,229.8 L206.9,230.8 L207.2,231.8 L207.4,232.8 L207.7,233.7 L208.0,234.7 L208.2,235.7 L208.5,236.7 L208.7,237.7 L209.0,238.6 L209.3,239.6 L209.5,240.6 L209.8,241.6 L210.0,242.6 L210.3,243.5 L210.6,244.5 L210.8,245.5 L211.1,246.5 L211.3,247.4 L211.6,248.4 L211.9,249.4 L212.1,250.4 L212.4,251.4 L212.6,252.3 L212.9,253.3 L213.1,254.3 L213.4,255.3 L213.7,256.3 L213.9,257.2 L214.2,258.2 L214.4,259.2 L214.7,260.2 L214.9,261.2 L215.2,262.1 L215.5,263.1 L215.7,264.1 L216.0,265.1 L216.2,266.1 L216.5,267.0 L216.7,268.0 L217.0,269.0 L217.3,270.0 L217.5,270.9 L217.8,271.9 L218.0,272.9 L218.3,273.9 L218.5,274.9 L218.8,275.8 L219.0,276.8 L219.3,277.8 L219.5,278.8 L219.8,279.8 L220.1,280.7 L220.3,281.7 L220.6,282.7 L220.8,283.7 L221.1,284.7 L221.3,285.6 L221.6,286.6 L221.8,287.6 L222.1,288.6 L222.3,289.5 L222.6,290.5 L222.9,291.5 L223.1,292.5 L223.4,293.5 L223.6,294.4 L223.9,295.4 L224.1,296.4 L224.4,297.4 L224.6,298.4 L224.9,299.3 L225.1,300.3 L225.4,301.3 L225.7,302.3 L225.9,303.3 L226.2,304.2 L226.4,305.2 L226.7,306.2 L226.9,307.2 L227.2,308.2 L227.4,309.1 L227.7,310.1 L227.9,311.1 L228.2,312.1 L228.5,313.1 L228.7,314.0 L229.0,315.0 L229.2,316.0 L229.5,317.0 L229.7,318.0 L230.0,318.9 L230.2,319.9 L230.5,320.9 L230.8,321.9 L231.0,322.9 L231.3,323.8 L231.5,324.8 L231.8,325.8 L232.0,326.8 L232.3,327.8 L232.5,328.7 L232.8,329.7 L233.1,330.7 L233.3,331.7 L233.6,332.7 L233.8,333.6 L234.1,334.6 L234.3,335.6 L234.6,336.6 L234.9,337.6 L235.1,338.5 L235.4,339.5 L235.6,340.5 L235.9,341.5 L236.2,342.5 L236.4,343.5 L236.7,344.4 L236.9,345.4 L237.2,346.4 L237.4,347.4 L237.7,348.4 L238.0,349.3 L238.2,350.3 L238.5,351.3 L238.7,352.3 L239.0,353.3 L239.3,354.2 L239.5,355.2 L239.8,356.2 L240.1,357.2 L240.3,358.2 L240.6,359.2 L240.8,360.1 L241.1,361.1 L241.4,362.1 L241.6,363.1 L241.9,364.1 L242.2,365.0 L242.4,366.0 L242.7,367.0 L242.9,368.0 L243.2,369.0 L243.5,369.9 L243.7,370.9 L244.0,371.9 L244.3,372.9 L244.5,373.9 L244.8,374.8 L245.1,375.8 L245.3,376.8 L245.6,377.8 L245.9,378.8 L246.1,379.7 L246.4,380.7 L246.7,381.7 L246.9,382.7 L247.2,383.7 L247.5,384.6 L247.8,385.6 L248.0,386.6 L248.3,387.6 L248.6,388.6 L248.8,389.5 L249.1,390.5 L249.4,391.5 L249.6,392.5 L249.9,393.4 L250.2,394.4 L250.5,395.4 L250.7,396.4 L251.0,397.4 L251.3,398.3 L251.6,399.3 L251.8,400.3 L252.1,401.3 L252.4,402.2 L252.7,403.2 L252.9,404.2 L253.2,405.2 L253.5,406.2 L253.8,407.1 L254.0,408.1 L254.3,409.1 L254.6,410.1 L254.9,411.0 L255.2,412.0 L255.4,413.0 L255.7,414.0 L256.0,414.9 L256.3,415.9 L256.6,416.9 L256.8,417.9 L257.1,418.8 L257.4,419.8 L257.7,420.8 L258.0,421.8 L258.3,422.7 L258.5,423.7 L258.8,424.7 L259.1,425.6 L259.4,426.6 L259.7,427.6 L260.0,428.6 L260.3,429.5 L260.5,430.5 L260.8,431.5 L261.1,432.5 L261.4,433.4 L261.7,434.4 L262.0,435.4 L262.3,436.3 L262.6,437.3 L262.9,438.3 L263.1,439.2 L263.4,440.2 L263.7,441.2 L264.0,442.2 L264.3,443.1 L264.6,444.1 L264.9,445.1 L265.2,446.0 L265.5,447.0 L265.8,448.0 L266.1,448.9 L266.4,449.9 L266.7,450.9 L267.0,451.8 L267.3,452.8 L267.6,453.8 L267.9,454.7 L268.2,455.7 L268.5,456.7 L268.8,457.6 L269.1,458.6 L269.4,459.6 L269.7,460.5 L270.0,461.5 L270.3,462.5 L270.6,463.4 L270.9,464.4 L271.2,465.3 L271.5,466.3 L271.8,467.3 L272.1,468.2 L272.4,469.2 L272.7,470.2 L273.1,471.1 L273.4,472.1 L273.7,473.0 L274.0,474.0 L274.3,475.0 L274.6,475.9 L274.9,476.9 L275.2,477.8 L275.6,478.8 L275.9,479.7 L276.2,480.7 L276.5,481.7 L276.8,482.6 L277.1,483.6 L277.5,484.5 L277.8,485.5 L278.1,486.4 L278.4,487.4 L278.7,488.3 L279.1,489.3 L279.4,490.3 L279.7,491.2 L280.0,492.2 L280.4,493.1 L280.7,494.1 L281.0,495.0 L281.3,496.0 L281.7,496.9 L282.0,497.9 L282.3,498.8 L282.7,499.8 L283.0,500.7 L283.3,501.7 L283.7,502.6 L284.0,503.6 L284.4,504.5 L284.7,505.5 L285.0,506.4 L285.4,507.3 L285.7,508.3 L286.1,509.2 L286.4,510.2 L286.8,511.1 L287.1,512.1 L287.5,513.0 L287.9,513.9 L288.2,514.9 L288.6,515.8 L288.9,516.8 L289.3,517.7 L289.7,518.6 L290.0,519.6 L290.4,520.5 L290.8,521.4 L291.2,522.4 L291.5,523.3 L291.9,524.2 L292.3,525.2 L292.7,526.1 L293.1,527.0 L293.4,528.0 L293.8,528.9 L294.2,529.8 L294.6,530.7 L295.0,531.7 L295.4,532.6 L295.8,533.5 L296.2,534.5 L296.6,535.4 L297.0,536.3 L297.4,537.2 L297.9,538.1 L298.3,539.1 L298.7,540.0 L299.1,540.9 L299.5,541.8 L300.0,542.7 L300.4,543.6 L300.8,544.6 L301.3,545.5 L301.7,546.4 L302.1,547.3 L302.6,548.2 L303.0,549.1 L303.5,550.0 L303.9,550.9 L304.4,551.9 L304.9,552.8 L305.3,553.7 L305.8,554.6 L306.3,555.5 L306.7,556.4 L307.2,557.3 L307.7,558.2 L308.2,559.1 L308.7,560.0 L309.1,560.9 L309.6,561.8 L310.1,562.7 L310.6,563.6 L311.1,564.4 L311.6,565.3 L312.2,566.2 L312.7,567.1 L313.2,568.0 L313.7,568.9 L314.2,569.8 L314.8,570.7 L315.3,571.6 L315.8,572.4 L316.4,573.3 L316.9,574.2 L317.5,575.1 L318.0,575.9 L318.6,576.8 L319.1,577.7 L319.7,578.6 L320.3,579.4 L320.8,580.3 L321.4,581.2 L322.0,582.0 L322.6,582.9 L323.2,583.7 L323.7,584.6 L324.3,585.4 L324.9,586.3 L325.5,587.1 L326.1,587.9 L326.8,588.8 L327.4,589.6 L328.0,590.4 L328.6,591.2 L329.2,592.1 L329.9,592.9 L330.5,593.7 L331.2,594.5 L331.8,595.3 L332.4,596.1 L333.1,596.9 L333.8,597.7 L334.4,598.5 L335.1,599.2 L335.7,600.0 L336.4,600.8 L337.1,601.5 L337.8,602.3 L338.5,603.0 L339.2,603.8 L339.9,604.5 L340.6,605.3 L341.3,606.0 L342.0,606.7 L342.7,607.4 L343.4,608.1 L344.1,608.8 L344.8,609.5 L345.6,610.2 L346.3,610.9 L347.1,611.6 L347.8,612.3 L348.5,612.9 L349.3,613.6 L350.1,614.2 L350.8,614.9 L351.6,615.5 L352.4,616.1 L353.1,616.8 L353.9,617.4 L354.7,618.0 L355.5,618.6 L356.3,619.2 L357.1,619.7 L357.9,620.3 L358.7,620.9 L359.5,621.4 L360.3,622.0 L361.2,622.5 L362.0,623.0 L362.8,623.6 L363.7,624.1 L364.5,624.6 L365.4,625.1 L366.2,625.5 L367.1,626.0 L367.9,626.5 L368.8,626.9 L369.7,627.4 L370.6,627.8 L371.4,628.2 L372.3,628.6 L373.2,629.0 L374.1,629.4 L375.0,629.8 L375.9,630.2 L376.8,630.6 L377.8,630.9 L378.7,631.2 L379.6,631.6 L380.6,631.9 L381.5,632.2 L382.4,632.5 L383.4,632.8 L384.3,633.0 L385.3,633.3 L386.3,633.6 L387.2,633.8 L388.2,634.0 L389.2,634.3 L390.2,634.5 L391.1,634.7 L392.1,634.9 L393.1,635.1 L394.1,635.3 L395.1,635.4 L396.1,635.6 L397.1,635.8 L398.1,635.9 L399.1,636.1 L400.1,636.2 L401.1,636.3 L402.2,636.5 L403.2,636.6 L404.2,636.7 L405.2,636.8 L406.2,636.9 L407.3,637.0 L408.3,637.1 L409.3,637.2 L410.4,637.3 L411.4,637.3 L412.4,637.4 L413.4,637.5 L414.5,637.5 L415.5,637.6 L416.6,637.7 L417.6,637.7 L418.6,637.8 L419.7,637.8 L420.7,637.9 L421.7,637.9 L422.8,638.0 L423.8,638.0 L424.8,638.0 L425.9,638.1 L426.9,638.1 L427.9,638.2 L429.0,638.2 L430.0,638.2 L431.0,638.3 L432.1,638.3 L433.1,638.3 L434.1,638.4 L435.1,638.4 L436.2,638.4 L437.2,638.5 L438.2,638.5 L439.2,638.5 L440.2,638.6 L441.3,638.6 L442.3,638.6 L443.3,638.7 L444.3,638.7 L445.3,638.7 L446.3,638.8 L447.3,638.8 L448.4,638.8 L449.4,638.8 L450.4,638.9 L451.4,638.9 L452.4,638.9 L453.4,639.0 L454.4,639.0 L455.4,639.0 L456.4,639.0 L457.4,639.1 L458.5,639.1 L459.5,639.1 L460.5,639.1 L461.5,639.2 L462.5,639.2 L463.5,639.2 L464.5,639.2 L465.5,639.3 L466.5,639.3 L467.5,639.3 L468.5,639.3 L469.5,639.3 L470.5,639.4 L471.5,639.4 L472.6,639.4 L473.6,639.4 L474.6,639.4 L475.6,639.4 L476.6,639.5 L477.6,639.5 L478.6,639.5 L479.6,639.5 L480.6,639.5 L481.6,639.5 L482.6,639.6 L483.7,639.6 L484.7,639.6 L485.7,639.6 L486.7,639.6 L487.7,639.6 L488.7,639.6 L489.7,639.6 L490.7,639.6 L491.7,639.7 L492.8,639.7 L493.8,639.7 L494.8,639.7 L495.8,639.7 L496.8,639.7 L497.8,639.7 L498.8,639.7 L499.8,639.7 L500.8,639.7 L501.9,639.7 L502.9,639.7 L503.9,639.8 L504.9,639.8 L505.9,639.8 L506.9,639.8 L507.9,639.8 L508.9,639.8 L510.0,639.8 L511.0,639.8 L512.0,639.8 L513.0,639.8 L514.0,639.8 L515.0,639.8 L516.0,639.8 L517.1,639.8 L518.1,639.8 L519.1,639.8 L520.1,639.8 L521.1,639.8 L522.1,639.8 L523.1,639.8 L524.2,639.8 L525.2,639.8 L526.2,639.8 L527.2,639.8 L528.2,639.8 L529.2,639.8 L530.2,639.8 L531.3,639.8 L532.3,639.8 L533.3,639.8 L534.3,639.8 L535.3,639.8 L536.3,639.8 L537.4,639.8 L538.4,639.8 L539.4,639.8 L540.4,639.8 L541.4,639.8 L542.4,639.8 L543.4,639.8 L544.5,639.8 L545.5,639.8 L546.5,639.8 L547.5,639.8 L548.5,639.8 L549.5,639.8 L550.6,639.8 L551.6,639.8 L552.6,639.8 L553.6,639.8 L554.6,639.8 L555.6,639.8 L556.6,639.7 L557.7,639.7 L558.7,639.7 L559.7,639.7 L560.7,639.7 L561.7,639.7 L562.7,639.7 L563.8,639.7 L564.8,639.7 L565.8,639.7 L566.8,639.7 L567.8,639.7 L568.8,639.7 L569.9,639.7 L570.9,639.7 L571.9,639.7 L572.9,639.7 L573.9,639.7 L574.9,639.7 L575.9,639.7 L577.0,639.7 L578.0,639.7 L579.0,639.7 L580.0,639.7 L581.0,639.7 L582.0,639.7 L583.1,639.7 L584.1,639.7 L585.1,639.7 L586.1,639.7 L587.1,639.7 L588.1,639.7 L589.2,639.7 L590.2,639.7 L591.2,639.7 L592.2,639.7 L593.2,639.7 L594.2,639.6 L595.2,639.6 L596.3,639.6 L597.3,639.6 L598.3,639.6 L599.3,639.6 L600.3,639.6 L601.3,639.6 L602.4,639.6 L603.4,639.6 L604.4,639.6 L605.4,639.6 L606.4,639.6 L607.4,639.6 L608.4,639.6 L609.5,639.6 L610.5,639.6 L611.5,639.6 L612.5,639.6 L613.5,639.6 L614.5,639.6 L615.6,639.6 L616.6,639.6 L617.6,639.6 L618.6,639.6 L619.6,639.6 L620.6,639.6 L621.6,639.6 L622.7,639.6 L623.7,639.6 L624.7,639.6 L625.7,639.6 L626.7,639.6 L627.7,639.6 L628.8,639.6 L629.8,639.6 L630.8,639.6 L631.8,639.6 L632.8,639.6 L633.8,639.6 L634.8,639.6 L635.9,639.6 L636.9,639.6 L637.9,639.6 L638.9,639.6 L639.9,639.6 L640.9,639.6 L641.9,639.6 L643.0,639.6 L644.0,639.6 L645.0,639.6 L646.0,639.6 L647.0,639.6 L648.0,639.6 L649.1,639.6 L650.1,639.6 L651.1,639.6 L652.1,639.6 L653.1,639.6 L654.1,639.6 L655.1,639.6 L656.2,639.6 L657.2,639.6 L658.2,639.6 L659.2,639.6 L660.2,639.6 L661.2,639.6 L662.2,639.6 L663.3,639.6 L664.3,639.6 L665.3,639.6 L666.3,639.6 L667.3,639.6 L668.3,639.6 L669.4,639.6 L670.4,639.6 L671.4,639.6 L672.4,639.6 L673.4,639.6 L674.4,639.6 L675.4,639.6 L676.5,639.6 L677.5,639.6 L678.5,639.6 L679.5,639.6 L680.5,639.6 L681.5,639.6 L682.5,639.6 L683.6,639.6 L684.6,639.6 L685.6,639.6 L686.6,639.6 L687.6,639.6 L688.6,639.6 L689.6,639.6 L690.7,639.6 L691.7,639.6 L692.7,639.6 L693.7,639.6 L694.7,639.6 L695.7,639.6 L696.7,639.6 L697.8,639.6 L698.8,639.6 L699.8,639.6 L700.8,639.6 L701.8,639.6 L702.8,639.6 L703.9,639.6 L704.9,639.6 L705.9,639.6 L706.9,639.6 L707.9,639.6 L708.9,639.6 L709.9,639.6 L711.0,639.6 L712.0,639.6 L713.0,639.6 L714.0,639.6 L715.0,639.6 L716.0,639.6 L717.0,639.6 L718.1,639.6 L719.1,639.6 L720.1,639.6 L721.1,639.6 L722.1,639.6 L723.1,639.6 L724.1,639.6 L725.2,639.6 L726.2,639.6 L727.2,639.6 L728.2,639.6 L729.2,639.6 L730.2,639.6 L731.2,639.6 L732.3,639.6 L733.3,639.6 L734.3,639.6 L735.3,639.6 L736.3,639.6 L737.3,639.7 L738.3,639.7 L739.4,639.7 L740.4,639.7 L741.4,639.7 L742.4,639.7 L743.4,639.7 L744.4,639.7 L745.4,639.7 L746.5,639.7 L747.5,639.7 L748.5,639.7 L749.5,639.7 L750.5,639.7 L751.5,639.7 L752.5,639.7 L753.6,639.7 L754.6,639.7 L755.6,639.7 L756.6,639.7 L757.6,639.7 L758.6,639.7 L759.6,639.7 L760.7,639.7 L761.7,639.7 L762.7,639.7 L763.7,639.7 L764.7,639.7 L765.7,639.7 L766.8,639.7 L767.8,639.7 L768.8,639.7 L769.8,639.7 L770.8,639.7 L771.8,639.7 L772.8,639.7 L773.9,639.7 L774.9,639.7 L775.9,639.7 L776.9,639.7 L777.9,639.7 L778.9,639.7 L779.9,639.7 L781.0,639.7 L782.0,639.7 L783.0,639.7 L784.0,639.7 L785.0,639.7 L786.0,639.7 L787.0,639.7 L788.1,639.7 L789.1,639.7 L790.1,639.7 L791.1,639.7 L792.1,639.7 L793.1,639.7 L794.1,639.7 L795.2,639.7 L796.2,639.7 L797.2,639.7 L798.2,639.7 L799.2,639.7 L800.2,639.7 L801.2,639.7 L802.3,639.7 L803.3,639.7 L804.3,639.8 L805.3,639.8 L806.3,639.8 L807.3,639.8 L808.3,639.8 L809.4,639.8 L810.4,639.8 L811.4,639.8 L812.4,639.8 L813.4,639.8 L814.4,639.8 L815.4,639.8 L816.5,639.8 L817.5,639.8 L818.5,639.8 L819.5,639.8 L820.5,639.8 L821.5,639.8 L822.5,639.8 L823.6,639.8 L824.6,639.8 L825.6,639.8 L826.6,639.8 L827.6,639.8 L828.6,639.8 L829.6,639.8 L830.7,639.8 L831.7,639.8 L832.7,639.8 L833.7,639.8 L834.7,639.8 L835.7,639.8 L836.7,639.8 L837.8,639.8 L838.8,639.8 L839.8,639.8 L840.8,639.8 L841.8,639.8 L842.8,639.8 L843.8,639.8 L844.9,639.8 L845.9,639.8 L846.9,639.8 L847.9,639.8 L848.9,639.8 L849.9,639.8 L850.9,639.8 L852.0,639.8 L853.0,639.8 L854.0,639.8 L855.0,639.8 L856.0,639.8 L857.0,639.8 L858.0,639.8 L859.1,639.8 L860.1,639.8 L861.1,639.8 L862.1,639.8 L863.1,639.8 L864.1,639.8 L865.1,639.8 L866.2,639.8 L867.2,639.8 L868.2,639.8 L869.2,639.8 L870.2,639.8 L871.2,639.8 L872.3,639.8 L873.3,639.8 L874.3,639.8 L875.3,639.8 L876.3,639.8 L877.3,639.8 L878.3,639.8 L879.4,639.8 L880.4,639.8 L881.4,639.8 L882.4,639.8 L883.4,639.9 L884.4,639.9 L885.4,639.9 L886.5,639.9 L887.5,639.9 L888.5,639.9 L889.5,639.9 L890.5,639.9 L891.5,639.9 L892.5,639.9 L893.6,639.9 L894.6,639.9 L895.6,639.9 L896.6,639.9 L897.6,639.9 L898.6,639.9 L899.6,639.9 L900.7,639.9 L901.7,639.9 L902.7,639.9 L903.7,639.9 L904.7,639.9 L905.7,639.9 L906.7,639.9 L907.8,639.9 L908.8,639.9 L909.8,639.9 L910.8,639.9 L911.8,639.9 L912.8,639.9 L913.8,639.9 L914.9,639.9 L915.9,639.9 L916.9,639.9 L917.9,639.9 L918.9,639.9 L919.9,639.9 L921.0,639.9 L922.0,639.9 L923.0,639.9 L924.0,639.9 L925.0,639.9 L926.0,639.9 L927.0,639.9 L928.1,639.9 L929.1,639.9 L930.1,639.9 L931.1,639.9 L932.1,639.9 L933.1,639.9 L934.1,639.9 L935.2,639.9 L936.2,639.9 L937.2,639.9 L938.2,639.9 L939.2,639.9 L940.2,639.9 L941.2,639.9 L942.3,639.9 L943.3,639.9 L944.3,639.9 L945.3,639.9 L946.3,639.9 L947.3,639.9 L948.4,639.9 L949.4,639.9 L950.4,639.9 L951.4,639.9 L952.4,639.9 L953.4,639.9 L954.4,639.9 L955.5,639.8 L956.5,639.8 L957.5,639.8 L958.5,639.8 L959.5,639.8 L960.5,639.8 L961.5,639.8 L962.6,639.8 L963.6,639.8 L964.6,639.8 L965.6,639.8 L966.6,639.8 L967.6,639.8 L968.7,639.8 L969.7,639.8 L970.7,639.8 L971.7,639.8 L972.7,639.8 L973.7,639.8 L974.7,639.8 L975.8,639.8 L976.8,639.8 L977.8,639.8 L978.8,639.8 L979.8,639.8 L980.8,639.8 L981.8,639.8 L982.9,639.8 L983.9,639.8 L984.9,639.8 L985.9,639.8 L986.9,639.8 L987.9,639.8 L989.0,639.8 L990.0,639.8 L991.0,639.8 L992.0,639.8" stroke="#ff0" stroke-width="9.3" fill="none" stroke-linejoin="round" stroke-linecap="round"/>
<path d="M84.0,479.0 L84.4,478.0 L84.8,477.0 L85.2,476.0 L85.6,475.0 L86.0,473.9 L86.4,472.9 L86.8,471.9 L87.2,470.9 L87.6,469.9 L88.0,468.8 L88.3,467.8 L88.7,466.8 L89.1,465.8 L89.4,464.7 L89.8,463.7 L90.2,462.7 L90.5,461.7 L90.9,460.6 L91.2,459.6 L91.6,458.6 L91.9,457.5 L92.2,456.5 L92.6,455.5 L92.9,454.4 L93.2,453.4 L93.6,452.4 L93.9,451.3 L94.2,450.3 L94.5,449.3 L94.9,448.2 L95.2,447.2 L95.5,446.2 L95.8,445.1 L96.1,444.1 L96.4,443.0 L96.7,442.0 L97.0,441.0 L97.3,439.9 L97.6,438.9 L97.9,437.8 L98.2,436.8 L98.4,435.7 L98.7,434.7 L99.0,433.6 L99.3,432.6 L99.6,431.6 L99.8,430.5 L100.1,429.5 L100.4,428.4 L100.6,427.4 L100.9,426.3 L101.2,425.3 L101.4,424.2 L101.7,423.2 L101.9,422.1 L102.2,421.0 L102.4,420.0 L102.7,418.9 L102.9,417.9 L103.2,416.8 L103.4,415.8 L103.6,414.7 L103.9,413.7 L104.1,412.6 L104.4,411.6 L104.6,410.5 L104.8,409.4 L105.0,408.4 L105.3,407.3 L105.5,406.3 L105.7,405.2 L105.9,404.1 L106.2,403.1 L106.4,402.0 L106.6,401.0 L106.8,399.9 L107.0,398.8 L107.2,397.8 L107.4,396.7 L107.7,395.6 L107.9,394.6 L108.1,393.5 L108.3,392.4 L108.5,391.4 L108.7,390.3 L108.9,389.2 L109.1,388.2 L109.3,387.1 L109.5,386.0 L109.7,385.0 L109.9,383.9 L110.0,382.8 L110.2,381.8 L110.4,380.7 L110.6,379.6 L110.8,378.6 L111.0,377.5 L111.2,376.4 L111.4,375.4 L111.5,374.3 L111.7,373.2 L111.9,372.1 L112.1,371.1 L112.3,370.0 L112.4,368.9 L112.6,367.9 L112.8,366.8 L113.0,365.7 L113.1,364.6 L113.3,363.6 L113.5,362.5 L113.7,361.4 L113.8,360.4 L114.0,359.3 L114.2,358.2 L114.3,357.1 L114.5,356.1 L114.7,355.0 L114.8,353.9 L115.0,352.8 L115.2,351.8 L115.3,350.7 L115.5,349.6 L115.7,348.5 L115.8,347.5 L116.0,346.4 L116.2,345.3 L116.3,344.2 L116.5,343.2 L116.7,342.1 L116.8,341.0 L117.0,339.9 L117.1,338.9 L117.3,337.8 L117.5,336.7 L117.6,335.6 L117.8,334.6 L117.9,333.5 L118.1,332.4 L118.3,331.3 L118.4,330.3 L118.6,329.2 L118.8,328.1 L118.9,327.0 L119.1,326.0 L119.2,324.9 L119.4,323.8 L119.6,322.7 L119.7,321.6 L119.9,320.6 L120.1,319.5 L120.2,318.4 L120.4,317.3 L120.5,316.3 L120.7,315.2 L120.9,314.1 L121.0,313.0 L121.2,312.0 L121.4,310.9 L121.5,309.8 L121.7,308.7 L121.9,307.7 L122.0,306.6 L122.2,305.5 L122.4,304.4 L122.5,303.4 L122.7,302.3 L122.9,301.2 L123.1,300.1 L123.2,299.1 L123.4,298.0 L123.6,296.9 L123.7,295.8 L123.9,294.8 L124.1,293.7 L124.3,292.6 L124.5,291.6 L124.6,290.5 L124.8,289.4 L125.0,288.3 L125.2,287.3 L125.4,286.2 L125.5,285.1 L125.7,284.1 L125.9,283.0 L126.1,281.9 L126.3,280.8 L126.5,279.8 L126.6,278.7 L126.8,277.6 L127.0,276.6 L127.2,275.5 L127.4,274.4 L127.6,273.3 L127.8,272.3 L128.0,271.2 L128.2,270.1 L128.3,269.1 L128.5,268.0 L128.7,266.9 L128.9,265.9 L129.1,264.8 L129.3,263.7 L129.5,262.7 L129.7,261.6 L129.9,260.5 L130.1,259.4 L130.3,258.4 L130.5,257.3 L130.7,256.2 L130.9,255.2 L131.1,254.1 L131.3,253.0 L131.5,252.0 L131.7,250.9 L131.9,249.8 L132.1,248.8 L132.3,247.7 L132.4,246.6 L132.6,245.6 L132.8,244.5 L133.0,243.4 L133.2,242.4 L133.4,241.3 L133.6,240.2 L133.8,239.2 L134.0,238.1 L134.2,237.0 L134.4,236.0 L134.6,234.9 L134.8,233.8 L135.0,232.8 L135.2,231.7 L135.4,230.6 L135.6,229.5 L135.8,228.5 L136.0,227.4 L136.2,226.3 L136.4,225.3 L136.6,224.2 L136.8,223.1 L137.0,222.1 L137.2,221.0 L137.4,219.9 L137.5,218.9 L137.7,217.8 L137.9,216.7 L138.1,215.7 L138.3,214.6 L138.5,213.5 L138.7,212.5 L138.9,211.4 L139.1,210.3 L139.3,209.3 L139.4,208.2 L139.6,207.1 L139.8,206.1 L140.0,205.0 L140.2,203.9 L140.4,202.8 L140.6,201.8 L140.7,200.7 L140.9,199.6 L141.1,198.6 L141.3,197.5 L141.5,196.4 L141.7,195.4 L141.8,194.3 L142.0,193.2 L142.2,192.2 L142.4,191.1 L142.5,190.0 L142.7,188.9 L142.9,187.9 L143.1,186.8 L143.2,185.7 L143.4,184.7 L143.6,183.6 L143.7,182.5 L143.9,181.4 L144.1,180.4 L144.2,179.3 L144.4,178.2 L144.6,177.2 L144.7,176.1 L144.9,175.0 L145.1,173.9 L145.2,172.9 L145.4,171.8 L145.5,170.7 L145.7,169.7 L145.9,168.6 L146.0,167.5 L146.2,166.4 L146.3,165.4 L146.5,164.3 L146.6,163.2 L146.8,162.1 L146.9,161.1 L147.1,160.0 L147.2,158.9 L147.4,157.8 L147.5,156.8 L147.7,155.7 L147.9,154.6 L148.0,153.5 L148.2,152.5 L148.3,151.4 L148.5,150.3 L148.6,149.2 L148.8,148.2 L149.0,147.1 L149.1,146.0 L149.3,144.9 L149.5,143.8 L149.6,142.8 L149.8,141.7 L150.0,140.6 L150.1,139.5 L150.3,138.5 L150.5,137.4 L150.7,136.3 L150.8,135.2 L151.0,134.1 L151.2,133.1 L151.4,132.0 L151.6,130.9 L151.8,129.8 L151.9,128.8 L152.1,127.7 L152.3,126.6 L152.5,125.5 L152.7,124.4 L153.0,123.4 L153.2,122.3 L153.4,121.2 L153.6,120.1 L153.8,119.0 L154.0,118.0 L154.3,116.9 L154.5,115.8 L154.7,114.7 L155.0,113.7 L155.2,112.6 L155.4,111.5 L155.7,110.5 L155.9,109.4 L156.2,108.4 L156.4,107.3 L156.7,106.3 L156.9,105.3 L157.2,104.2 L157.5,103.2 L157.7,102.2 L158.0,101.2 L158.3,100.2 L158.5,99.3 L158.8,98.3 L159.1,97.3 L159.4,96.4 L159.7,95.4 L159.9,94.4 L160.2,93.5 L160.6,92.5 L160.9,91.5 L161.2,90.5 L161.5,89.4 L161.9,88.3 L162.2,87.3 L162.6,86.1 L162.9,85.0 L163.3,83.8 L163.7,82.6 L164.2,81.4 L164.6,80.1 L165.0,78.9 L165.5,77.7 L166.0,76.5 L166.5,75.3 L167.0,74.2 L167.6,73.1 L168.2,72.1 L168.8,71.2 L169.4,70.3 L170.1,69.5 L170.7,68.8 L171.4,68.2 L172.2,67.7 L172.9,67.4 L173.6,67.3 L174.4,67.4 L175.1,67.6 L175.9,68.0 L176.6,68.6 L177.3,69.3 L178.1,70.1 L178.8,71.0 L179.5,71.9 L180.2,72.9 L180.9,74.0 L181.5,75.1 L182.2,76.2 L182.8,77.3 L183.4,78.4 L183.9,79.4 L184.5,80.5 L185.0,81.5 L185.5,82.5 L185.9,83.5 L186.4,84.5 L186.9,85.5 L187.3,86.5 L187.8,87.5 L188.2,88.5 L188.7,89.5 L189.1,90.5 L189.5,91.5 L189.9,92.5 L190.4,93.6 L190.8,94.6 L191.2,95.6 L191.6,96.6 L192.0,97.6 L192.4,98.6 L192.7,99.6 L193.1,100.6 L193.5,101.7 L193.9,102.7 L194.3,103.7 L194.6,104.7 L195.0,105.7 L195.4,106.7 L195.7,107.8 L196.1,108.8 L196.4,109.8 L196.8,110.8 L197.1,111.8 L197.5,112.9 L197.8,113.9 L198.2,114.9 L198.5,115.9 L198.9,116.9 L199.2,118.0 L199.6,119.0 L199.9,120.0 L200.2,121.0 L200.6,122.1 L200.9,123.1 L201.3,124.1 L201.6,125.1 L201.9,126.2 L202.3,127.2 L202.6,128.2 L203.0,129.3 L203.3,130.3 L203.6,131.3 L204.0,132.3 L204.3,133.4 L204.7,134.4 L205.0,135.4 L205.3,136.4 L205.7,137.5 L206.0,138.5 L206.3,139.5 L206.7,140.6 L207.0,141.6 L207.3,142.6 L207.7,143.7 L208.0,144.7 L208.3,145.7 L208.7,146.7 L209.0,147.8 L209.3,148.8 L209.7,149.8 L210.0,150.9 L210.3,151.9 L210.6,152.9 L211.0,154.0 L211.3,155.0 L211.6,156.0 L212.0,157.1 L212.3,158.1 L212.6,159.1 L212.9,160.2 L213.3,161.2 L213.6,162.2 L213.9,163.3 L214.2,164.3 L214.6,165.4 L214.9,166.4 L215.2,167.4 L215.5,168.5 L215.9,169.5 L216.2,170.5 L216.5,171.6 L216.8,172.6 L217.1,173.6 L217.5,174.7 L217.8,175.7 L218.1,176.8 L218.4,177.8 L218.7,178.8 L219.0,179.9 L219.4,180.9 L219.7,182.0 L220.0,183.0 L220.3,184.0 L220.6,185.1 L220.9,186.1 L221.2,187.2 L221.6,188.2 L221.9,189.2 L222.2,190.3 L222.5,191.3 L222.8,192.4 L223.1,193.4 L223.4,194.4 L223.7,195.5 L224.0,196.5 L224.3,197.6 L224.7,198.6 L225.0,199.7 L225.3,200.7 L225.6,201.7 L225.9,202.8 L226.2,203.8 L226.5,204.9 L226.8,205.9 L227.1,207.0 L227.4,208.0 L227.7,209.1 L228.0,210.1 L228.3,211.1 L228.6,212.2 L228.9,213.2 L229.2,214.3 L229.5,215.3 L229.8,216.4 L230.1,217.4 L230.4,218.5 L230.7,219.5 L231.0,220.6 L231.3,221.6 L231.6,222.7 L231.8,223.7 L232.1,224.8 L232.4,225.8 L232.7,226.8 L233.0,227.9 L233.3,228.9 L233.6,230.0 L233.9,231.0 L234.2,232.1 L234.5,233.1 L234.8,234.2 L235.1,235.2 L235.3,236.3 L235.6,237.3 L235.9,238.4 L236.2,239.4 L236.5,240.5 L236.8,241.5 L237.1,242.6 L237.4,243.6 L237.6,244.7 L237.9,245.7 L238.2,246.8 L238.5,247.8 L238.8,248.9 L239.1,249.9 L239.4,251.0 L239.6,252.0 L239.9,253.1 L240.2,254.1 L240.5,255.2 L240.8,256.2 L241.1,257.3 L241.4,258.3 L241.6,259.4 L241.9,260.4 L242.2,261.5 L242.5,262.5 L242.8,263.6 L243.1,264.6 L243.4,265.7 L243.6,266.7 L243.9,267.8 L244.2,268.8 L244.5,269.9 L244.8,270.9 L245.1,272.0 L245.4,273.0 L245.6,274.1 L245.9,275.1 L246.2,276.2 L246.5,277.2 L246.8,278.2 L247.1,279.3 L247.4,280.3 L247.6,281.4 L247.9,282.4 L248.2,283.5 L248.5,284.5 L248.8,285.6 L249.1,286.6 L249.4,287.7 L249.7,288.7 L249.9,289.8 L250.2,290.8 L250.5,291.9 L250.8,292.9 L251.1,294.0 L251.4,295.0 L251.7,296.1 L252.0,297.1 L252.3,298.1 L252.6,299.2 L252.9,300.2 L253.1,301.3 L253.4,302.3 L253.7,303.4 L254.0,304.4 L254.3,305.5 L254.6,306.5 L254.9,307.6 L255.2,308.6 L255.5,309.6 L255.8,310.7 L256.1,311.7 L256.4,312.8 L256.7,313.8 L257.0,314.9 L257.3,315.9 L257.6,316.9 L257.9,318.0 L258.2,319.0 L258.5,320.1 L258.8,321.1 L259.1,322.1 L259.4,323.2 L259.7,324.2 L260.0,325.3 L260.3,326.3 L260.6,327.3 L261.0,328.4 L261.3,329.4 L261.6,330.5 L261.9,331.5 L262.2,332.5 L262.5,333.6 L262.8,334.6 L263.1,335.7 L263.4,336.7 L263.7,337.7 L264.1,338.8 L264.4,339.8 L264.7,340.8 L265.0,341.9 L265.3,342.9 L265.6,344.0 L265.9,345.0 L266.3,346.0 L266.6,347.1 L266.9,348.1 L267.2,349.1 L267.5,350.2 L267.8,351.2 L268.2,352.2 L268.5,353.3 L268.8,354.3 L269.1,355.3 L269.4,356.4 L269.8,357.4 L270.1,358.5 L270.4,359.5 L270.7,360.5 L271.0,361.6 L271.4,362.6 L271.7,363.6 L272.0,364.7 L272.3,365.7 L272.6,366.7 L273.0,367.8 L273.3,368.8 L273.6,369.8 L273.9,370.9 L274.2,371.9 L274.6,372.9 L274.9,374.0 L275.2,375.0 L275.5,376.0 L275.9,377.1 L276.2,378.1 L276.5,379.1 L276.8,380.2 L277.1,381.2 L277.5,382.3 L277.8,383.3 L278.1,384.3 L278.4,385.4 L278.8,386.4 L279.1,387.4 L279.4,388.5 L279.7,389.5 L280.1,390.5 L280.4,391.6 L280.7,392.6 L281.0,393.6 L281.3,394.7 L281.7,395.7 L282.0,396.8 L282.3,397.8 L282.6,398.8 L283.0,399.9 L283.3,400.9 L283.6,401.9 L283.9,403.0 L284.2,404.0 L284.6,405.1 L284.9,406.1 L285.2,407.1 L285.5,408.2 L285.8,409.2 L286.2,410.2 L286.5,411.3 L286.8,412.3 L287.1,413.4 L287.4,414.4 L287.8,415.4 L288.1,416.5 L288.4,417.5 L288.7,418.6 L289.0,419.6 L289.4,420.6 L289.7,421.7 L290.0,422.7 L290.3,423.8 L290.6,424.8 L291.0,425.8 L291.3,426.9 L291.6,427.9 L291.9,429.0 L292.2,430.0 L292.6,431.0 L292.9,432.1 L293.2,433.1 L293.5,434.2 L293.9,435.2 L294.2,436.2 L294.5,437.3 L294.8,438.3 L295.1,439.4 L295.5,440.4 L295.8,441.4 L296.1,442.5 L296.4,443.5 L296.8,444.5 L297.1,445.6 L297.4,446.6 L297.8,447.7 L298.1,448.7 L298.4,449.7 L298.7,450.8 L299.1,451.8 L299.4,452.8 L299.7,453.9 L300.1,454.9 L300.4,456.0 L300.7,457.0 L301.1,458.0 L301.4,459.1 L301.8,460.1 L302.1,461.1 L302.4,462.2 L302.8,463.2 L303.1,464.2 L303.4,465.3 L303.8,466.3 L304.1,467.3 L304.5,468.4 L304.8,469.4 L305.2,470.4 L305.5,471.5 L305.9,472.5 L306.2,473.5 L306.6,474.5 L306.9,475.6 L307.3,476.6 L307.6,477.6 L308.0,478.7 L308.3,479.7 L308.7,480.7 L309.0,481.7 L309.4,482.8 L309.8,483.8 L310.1,484.8 L310.5,485.8 L310.9,486.9 L311.2,487.9 L311.6,488.9 L312.0,489.9 L312.3,490.9 L312.7,492.0 L313.1,493.0 L313.5,494.0 L313.8,495.0 L314.2,496.0 L314.6,497.1 L315.0,498.1 L315.4,499.1 L315.7,500.1 L316.1,501.1 L316.5,502.1 L316.9,503.1 L317.3,504.1 L317.7,505.2 L318.1,506.2 L318.5,507.2 L318.9,508.2 L319.3,509.2 L319.7,510.2 L320.1,511.2 L320.5,512.2 L320.9,513.2 L321.3,514.2 L321.7,515.2 L322.1,516.2 L322.5,517.2 L322.9,518.2 L323.4,519.2 L323.8,520.2 L324.2,521.2 L324.6,522.2 L325.1,523.2 L325.5,524.2 L325.9,525.2 L326.4,526.2 L326.8,527.2 L327.2,528.2 L327.7,529.2 L328.1,530.2 L328.5,531.2 L329.0,532.1 L329.4,533.1 L329.9,534.1 L330.3,535.1 L330.8,536.1 L331.3,537.1 L331.7,538.0 L332.2,539.0 L332.6,540.0 L333.1,541.0 L333.6,542.0 L334.0,542.9 L334.5,543.9 L335.0,544.9 L335.5,545.9 L336.0,546.8 L336.4,547.8 L336.9,548.8 L337.4,549.7 L337.9,550.7 L338.4,551.7 L338.9,552.6 L339.4,553.6 L339.9,554.6 L340.4,555.5 L340.9,556.5 L341.4,557.4 L341.9,558.4 L342.5,559.3 L343.0,560.3 L343.5,561.3 L344.0,562.2 L344.6,563.2 L345.1,564.1 L345.6,565.1 L346.2,566.0 L346.7,566.9 L347.2,567.9 L347.8,568.8 L348.3,569.8 L348.9,570.7 L349.4,571.6 L350.0,572.6 L350.6,573.5 L351.1,574.4 L351.7,575.4 L352.3,576.3 L352.8,577.2 L353.4,578.2 L354.0,579.1 L354.6,580.0 L355.2,580.9 L355.8,581.8 L356.4,582.7 L357.0,583.6 L357.6,584.5 L358.2,585.4 L358.8,586.3 L359.4,587.2 L360.1,588.1 L360.7,589.0 L361.3,589.8 L362.0,590.7 L362.6,591.6 L363.3,592.4 L364.0,593.3 L364.6,594.1 L365.3,595.0 L366.0,595.8 L366.7,596.6 L367.4,597.5 L368.1,598.3 L368.8,599.1 L369.5,599.9 L370.2,600.7 L370.9,601.5 L371.6,602.3 L372.4,603.0 L373.1,603.8 L373.9,604.6 L374.6,605.3 L375.4,606.1 L376.2,606.8 L377.0,607.6 L377.8,608.3 L378.6,609.0 L379.4,609.7 L380.2,610.4 L381.0,611.1 L381.8,611.8 L382.7,612.4 L383.5,613.1 L384.4,613.8 L385.2,614.4 L386.1,615.0 L387.0,615.7 L387.9,616.3 L388.8,616.9 L389.7,617.5 L390.6,618.1 L391.5,618.6 L392.4,619.2 L393.4,619.8 L394.3,620.3 L395.2,620.9 L396.2,621.4 L397.1,621.9 L398.1,622.4 L399.1,622.9 L400.1,623.4 L401.0,623.9 L402.0,624.4 L403.0,624.9 L404.0,625.3 L405.0,625.8 L406.0,626.2 L407.0,626.7 L408.1,627.1 L409.1,627.5 L410.1,627.9 L411.1,628.3 L412.2,628.7 L413.2,629.1 L414.2,629.5 L415.3,629.9 L416.3,630.2 L417.4,630.6 L418.4,630.9 L419.5,631.3 L420.5,631.6 L421.6,631.9 L422.6,632.2 L423.7,632.5 L424.7,632.8 L425.8,633.1 L426.9,633.4 L427.9,633.7 L429.0,633.9 L430.0,634.2 L431.1,634.5 L432.2,634.7 L433.2,634.9 L434.3,635.2 L435.4,635.4 L436.4,635.6 L437.5,635.8 L438.6,636.0 L439.6,636.2 L440.7,636.4 L441.8,636.6 L442.8,636.7 L443.9,636.9 L445.0,637.1 L446.0,637.2 L447.1,637.4 L448.2,637.5 L449.3,637.7 L450.3,637.8 L451.4,637.9 L452.5,638.0 L453.5,638.2 L454.6,638.3 L455.7,638.4 L456.8,638.5 L457.8,638.6 L458.9,638.6 L460.0,638.7 L461.1,638.8 L462.1,638.9 L463.2,639.0 L464.3,639.0 L465.4,639.1 L466.4,639.1 L467.5,639.2 L468.6,639.2 L469.7,639.3 L470.7,639.3 L471.8,639.3 L472.9,639.4 L474.0,639.4 L475.1,639.4 L476.1,639.4 L477.2,639.4 L478.3,639.5 L479.4,639.5 L480.4,639.5 L481.5,639.5 L482.6,639.5 L483.7,639.5 L484.8,639.5 L485.8,639.4 L486.9,639.4 L488.0,639.4 L489.1,639.4 L490.2,639.4 L491.3,639.4 L492.3,639.3 L493.4,639.3 L494.5,639.3 L495.6,639.2 L496.7,639.2 L497.7,639.2 L498.8,639.1 L499.9,639.1 L501.0,639.0 L502.1,639.0 L503.2,639.0 L504.2,638.9 L505.3,638.9 L506.4,638.8 L507.5,638.8 L508.6,638.7 L509.7,638.7 L510.8,638.6 L511.8,638.6 L512.9,638.5 L514.0,638.5 L515.1,638.4 L516.2,638.4 L517.3,638.3 L518.3,638.3 L519.4,638.2 L520.5,638.1 L521.6,638.1 L522.7,638.0 L523.8,638.0 L524.9,637.9 L525.9,637.9 L527.0,637.8 L528.1,637.8 L529.2,637.7 L530.3,637.7 L531.4,637.6 L532.5,637.6 L533.5,637.5 L534.6,637.5 L535.7,637.5 L536.8,637.4 L537.9,637.4 L539.0,637.3 L540.1,637.3 L541.1,637.2 L542.2,637.2 L543.3,637.2 L544.4,637.1 L545.5,637.1 L546.6,637.1 L547.6,637.0 L548.7,637.0 L549.8,637.0 L550.9,636.9 L552.0,636.9 L553.1,636.9 L554.2,636.8 L555.2,636.8 L556.3,636.8 L557.4,636.7 L558.5,636.7 L559.6,636.7 L560.7,636.7 L561.8,636.6 L562.8,636.6 L563.9,636.6 L565.0,636.6 L566.1,636.5 L567.2,636.5 L568.3,636.5 L569.4,636.5 L570.5,636.4 L571.5,636.4 L572.6,636.4 L573.7,636.4 L574.8,636.4 L575.9,636.4 L577.0,636.3 L578.1,636.3 L579.1,636.3 L580.2,636.3 L581.3,636.3 L582.4,636.3 L583.5,636.2 L584.6,636.2 L585.7,636.2 L586.7,636.2 L587.8,636.2 L588.9,636.2 L590.0,636.2 L591.1,636.2 L592.2,636.2 L593.3,636.2 L594.3,636.1 L595.4,636.1 L596.5,636.1 L597.6,636.1 L598.7,636.1 L599.8,636.1 L600.9,636.1 L601.9,636.1 L603.0,636.1 L604.1,636.1 L605.2,636.1 L606.3,636.1 L607.4,636.1 L608.5,636.1 L609.6,636.1 L610.6,636.1 L611.7,636.1 L612.8,636.1 L613.9,636.1 L615.0,636.1 L616.1,636.1 L617.2,636.1 L618.2,636.1 L619.3,636.1 L620.4,636.1 L621.5,636.1 L622.6,636.1 L623.7,636.1 L624.8,636.1 L625.8,636.1 L626.9,636.2 L628.0,636.2 L629.1,636.2 L630.2,636.2 L631.3,636.2 L632.4,636.2 L633.5,636.2 L634.5,636.2 L635.6,636.2 L636.7,636.2 L637.8,636.2 L638.9,636.2 L640.0,636.3 L641.1,636.3 L642.1,636.3 L643.2,636.3 L644.3,636.3 L645.4,636.3 L646.5,636.3 L647.6,636.3 L648.7,636.3 L649.8,636.4 L650.8,636.4 L651.9,636.4 L653.0,636.4 L654.1,636.4 L655.2,636.4 L656.3,636.4 L657.4,636.5 L658.4,636.5 L659.5,636.5 L660.6,636.5 L661.7,636.5 L662.8,636.5 L663.9,636.6 L665.0,636.6 L666.1,636.6 L667.1,636.6 L668.2,636.6 L669.3,636.6 L670.4,636.7 L671.5,636.7 L672.6,636.7 L673.7,636.7 L674.7,636.7 L675.8,636.7 L676.9,636.8 L678.0,636.8 L679.1,636.8 L680.2,636.8 L681.3,636.8 L682.4,636.8 L683.4,636.9 L684.5,636.9 L685.6,636.9 L686.7,636.9 L687.8,636.9 L688.9,637.0 L690.0,637.0 L691.0,637.0 L692.1,637.0 L693.2,637.0 L694.3,637.1 L695.4,637.1 L696.5,637.1 L697.6,637.1 L698.7,637.1 L699.7,637.2 L700.8,637.2 L701.9,637.2 L703.0,637.2 L704.1,637.2 L705.2,637.2 L706.3,637.3 L707.3,637.3 L708.4,637.3 L709.5,637.3 L710.6,637.3 L711.7,637.4 L712.8,637.4 L713.9,637.4 L715.0,637.4 L716.0,637.4 L717.1,637.5 L718.2,637.5 L719.3,637.5 L720.4,637.5 L721.5,637.5 L722.6,637.5 L723.7,637.6 L724.7,637.6 L725.8,637.6 L726.9,637.6 L728.0,637.6 L729.1,637.7 L730.2,637.7 L731.3,637.7 L732.3,637.7 L733.4,637.7 L734.5,637.7 L735.6,637.8 L736.7,637.8 L737.8,637.8 L738.9,637.8 L740.0,637.8 L741.0,637.8 L742.1,637.9 L743.2,637.9 L744.3,637.9 L745.4,637.9 L746.5,637.9 L747.6,637.9 L748.6,637.9 L749.7,638.0 L750.8,638.0 L751.9,638.0 L753.0,638.0 L754.1,638.0 L755.2,638.0 L756.2,638.0 L757.3,638.0 L758.4,638.1 L759.5,638.1 L760.6,638.1 L761.7,638.1 L762.8,638.1 L763.9,638.1 L764.9,638.1 L766.0,638.1 L767.1,638.1 L768.2,638.2 L769.3,638.2 L770.4,638.2 L771.5,638.2 L772.5,638.2 L773.6,638.2 L774.7,638.2 L775.8,638.2 L776.9,638.2 L778.0,638.2 L779.1,638.2 L780.2,638.2 L781.2,638.3 L782.3,638.3 L783.4,638.3 L784.5,638.3 L785.6,638.3 L786.7,638.3 L787.8,638.3 L788.8,638.3 L789.9,638.3 L791.0,638.3 L792.1,638.3 L793.2,638.3 L794.3,638.3 L795.4,638.3 L796.4,638.3 L797.5,638.3 L798.6,638.3 L799.7,638.3 L800.8,638.3 L801.9,638.3 L803.0,638.3 L804.1,638.4 L805.1,638.4 L806.2,638.4 L807.3,638.4 L808.4,638.4 L809.5,638.4 L810.6,638.4 L811.7,638.4 L812.7,638.4 L813.8,638.4 L814.9,638.4 L816.0,638.4 L817.1,638.4 L818.2,638.4 L819.3,638.4 L820.3,638.4 L821.4,638.4 L822.5,638.4 L823.6,638.4 L824.7,638.4 L825.8,638.4 L826.9,638.4 L827.9,638.4 L829.0,638.4 L830.1,638.4 L831.2,638.4 L832.3,638.4 L833.4,638.4 L834.5,638.4 L835.6,638.4 L836.6,638.4 L837.7,638.4 L838.8,638.4 L839.9,638.4 L841.0,638.4 L842.1,638.4 L843.2,638.4 L844.2,638.4 L845.3,638.4 L846.4,638.4 L847.5,638.4 L848.6,638.4 L849.7,638.4 L850.8,638.4 L851.8,638.4 L852.9,638.4 L854.0,638.3 L855.1,638.3 L856.2,638.3 L857.3,638.3 L858.4,638.3 L859.5,638.3 L860.5,638.3 L861.6,638.3 L862.7,638.3 L863.8,638.3 L864.9,638.3 L866.0,638.3 L867.1,638.3 L868.1,638.3 L869.2,638.3 L870.3,638.3 L871.4,638.3 L872.5,638.3 L873.6,638.3 L874.7,638.3 L875.7,638.3 L876.8,638.3 L877.9,638.3 L879.0,638.3 L880.1,638.3 L881.2,638.3 L882.3,638.3 L883.3,638.3 L884.4,638.3 L885.5,638.3 L886.6,638.3 L887.7,638.3 L888.8,638.3 L889.9,638.3 L891.0,638.3 L892.0,638.3 L893.1,638.3 L894.2,638.3 L895.3,638.3 L896.4,638.3 L897.5,638.3 L898.6,638.3 L899.6,638.3 L900.7,638.2 L901.8,638.2 L902.9,638.2 L904.0,638.2 L905.1,638.2 L906.2,638.2 L907.2,638.2 L908.3,638.2 L909.4,638.2 L910.5,638.2 L911.6,638.2 L912.7,638.2 L913.8,638.2 L914.9,638.2 L915.9,638.2 L917.0,638.2 L918.1,638.2 L919.2,638.2 L920.3,638.2 L921.4,638.2 L922.5,638.2 L923.5,638.2 L924.6,638.2 L925.7,638.2 L926.8,638.2 L927.9,638.2 L929.0,638.2 L930.1,638.2 L931.1,638.2 L932.2,638.2 L933.3,638.2 L934.4,638.2 L935.5,638.2 L936.6,638.2 L937.7,638.2 L938.8,638.2 L939.8,638.2 L940.9,638.2 L942.0,638.2 L943.1,638.2 L944.2,638.2 L945.3,638.2 L946.4,638.2 L947.4,638.2 L948.5,638.3 L949.6,638.3 L950.7,638.3 L951.8,638.3 L952.9,638.3 L954.0,638.3 L955.1,638.3 L956.1,638.3 L957.2,638.3 L958.3,638.3 L959.4,638.3 L960.5,638.3 L961.6,638.3 L962.7,638.3 L963.7,638.3 L964.8,638.3 L965.9,638.3 L967.0,638.3 L968.1,638.3 L969.2,638.3 L970.3,638.3 L971.4,638.4 L972.4,638.4 L973.5,638.4 L974.6,638.4 L975.7,638.4 L976.8,638.4 L977.9,638.4 L979.0,638.4 L980.0,638.4 L981.1,638.4 L982.2,638.4 L983.3,638.4 L984.4,638.4 L985.5,638.5 L986.6,638.5 L987.7,638.5 L988.7,638.5 L989.8,638.5 L990.9,638.5 L992.0,638.5" stroke="#00f" stroke-width="9.3" fill="none" stroke-linejoin="round" stroke-linecap="round"/></g>
<line x1="84.9" y1="668" x2="84.9" y2="678.7" stroke="#000" stroke-width="2.2"/>
<text x="84.9" y="721" font-size="31.2" text-anchor="middle" font-family="Liberation Sans, sans-serif">200</text>
<line x1="236" y1="668" x2="236" y2="678.7" stroke="#000" stroke-width="2.2"/>
<text x="236" y="721" font-size="31.2" text-anchor="middle" font-family="Liberation Sans, sans-serif">250</text>
<line x1="387" y1="668" x2="387" y2="678.7" stroke="#000" stroke-width="2.2"/>
<text x="387" y="721" font-size="31.2" text-anchor="middle" font-family="Liberation Sans, sans-serif">300</text>
<line x1="538" y1="668" x2="538" y2="678.7" stroke="#000" stroke-width="2.2"/>
<text x="538" y="721" font-size="31.2" text-anchor="middle" font-family="Liberation Sans, sans-serif">350</text>
<line x1="689" y1="668" x2="689" y2="678.7" stroke="#000" stroke-width="2.2"/>
<text x="689" y="721" font-size="31.2" text-anchor="middle" font-family="Liberation Sans, sans-serif">400</text>
<line x1="840" y1="668" x2="840" y2="678.7" stroke="#000" stroke-width="2.2"/>
<text x="840" y="721" font-size="31.2" text-anchor="middle" font-family="Liberation Sans, sans-serif">450</text>
<line x1="991.4" y1="668" x2="991.4" y2="678.7" stroke="#000" stroke-width="2.2"/>
<text x="991.4" y="721" font-size="31.2" text-anchor="middle" font-family="Liberation Sans, sans-serif">500</text>

<rect x="629.5" y="26" width="347.2" height="274.9" fill="#fff" stroke="#000" stroke-width="2.2"/>
<rect x="644.3" y="63.4" width="76.5" height="7" fill="#000"/>
<text transform="translate(734.1,72.7) scale(1,1.025)" x="0" y="0" font-size="30.3" font-family="Liberation Sans, sans-serif"><tspan x="0" y="0">V</tspan><tspan x="20.5" y="9.7" font-size="19.6">2</tspan><tspan x="32.2" y="0">Ti</tspan><tspan x="57.4" y="9.7" font-size="19.6">0</tspan><tspan x="69.1" y="0">/MCM-41</tspan></text>
<rect x="644.3" y="111.8" width="76.5" height="7" fill="#f00"/>
<text transform="translate(734.1,121.1) scale(1,1.025)" x="0" y="0" font-size="30.3" font-family="Liberation Sans, sans-serif"><tspan x="0" y="0">V</tspan><tspan x="20.5" y="9.7" font-size="19.6">1</tspan><tspan x="32.2" y="0">Ti</tspan><tspan x="57.4" y="9.7" font-size="19.6">1</tspan><tspan x="69.1" y="0">/MCM-41</tspan></text>
<rect x="644.3" y="160.2" width="76.5" height="7" fill="#0f0"/>
<text transform="translate(734.1,169.5) scale(1,1.025)" x="0" y="0" font-size="30.3" font-family="Liberation Sans, sans-serif"><tspan x="0" y="0">V</tspan><tspan x="20.5" y="9.7" font-size="19.6">0.25</tspan><tspan x="60.7" y="0">Ti</tspan><tspan x="85.9" y="9.7" font-size="19.6">2</tspan><tspan x="97.5" y="0">/MCM-41</tspan></text>
<rect x="644.3" y="208.6" width="76.5" height="7" fill="#ff0"/>
<text transform="translate(734.1,217.9) scale(1,1.025)" x="0" y="0" font-size="30.3" font-family="Liberation Sans, sans-serif"><tspan x="0" y="0">V</tspan><tspan x="20.5" y="9.7" font-size="19.6">0.05</tspan><tspan x="60.7" y="0">Ti</tspan><tspan x="85.9" y="9.7" font-size="19.6">4</tspan><tspan x="97.5" y="0">/MCM-41</tspan></text>
<rect x="644.3" y="257.0" width="76.5" height="7" fill="#00f"/>
<text transform="translate(734.1,266.3) scale(1,1.025)" x="0" y="0" font-size="30.3" font-family="Liberation Sans, sans-serif"><tspan x="0" y="0">V</tspan><tspan x="20.5" y="9.7" font-size="19.6">0</tspan><tspan x="32.2" y="0">Ti</tspan><tspan x="57.4" y="9.7" font-size="19.6">5</tspan><tspan x="69.1" y="0">/MCM-41</tspan></text>

<text x="187.5" y="56.7" font-size="36.1" font-family="Liberation Sans, sans-serif">220 nm</text>
<text x="509.3" y="495.5" font-size="36.1" font-family="Liberation Sans, sans-serif">340 nm</text>
<text x="402.2" y="782.4" font-size="36.1" font-family="Liberation Sans, sans-serif">Wavelength (nm)</text>
<text transform="translate(32.6,455.8) rotate(-90)" x="0" y="0" font-size="36.1" font-family="Liberation Sans, sans-serif">Intensity (a.u.)</text>
<path d="M166.6,33.7 L170,22.3" stroke="#0a0a8c" stroke-width="3" stroke-linecap="round"/>
<polygon points="499.2,590.9 502.2,590.9 502.2,594 505.6,595.5 502.9,608.7 499.2,608.7" fill="#0a0a8c"/>
</svg>
</body></html>
